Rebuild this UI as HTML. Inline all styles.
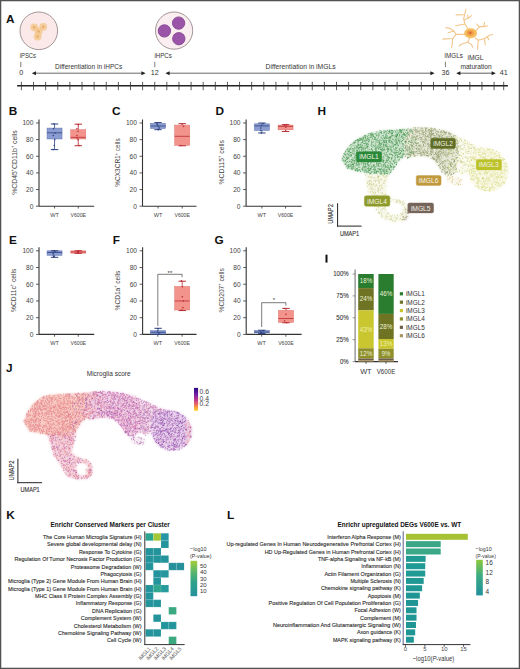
<!DOCTYPE html>
<html><head><meta charset="utf-8"><title>fig</title>
<style>html,body{margin:0;padding:0;background:#fff;}svg{display:block;font-family:"Liberation Sans", sans-serif;}</style>
</head><body>
<svg width="520" height="669" viewBox="0 0 520 669" font-family='"Liberation Sans", sans-serif' fill="#333">
<rect x="0.6" y="0.6" width="518.8" height="667.8" fill="#fff" stroke="#525252" stroke-width="1.35"/>
<defs><filter id="soft" x="-10%" y="-10%" width="120%" height="120%"><feGaussianBlur stdDeviation="1.2"/></filter></defs>
<text x="6.10" y="22.60" font-size="11.8" fill="#111" font-weight="bold">A</text>
<circle cx="38.8" cy="30.8" r="18.8" fill="#fbe9ea" stroke="#8c7c7e" stroke-width="0.8"/>
<circle cx="34.2" cy="27.3" r="3.9" fill="#f4c88e" opacity="0.85"/>
<circle cx="43.2" cy="26.8" r="3.9" fill="#f4c88e" opacity="0.85"/>
<circle cx="38.6" cy="31.4" r="3.9" fill="#f4c88e" opacity="0.85"/>
<circle cx="37.6" cy="36.6" r="3.9" fill="#f4c88e" opacity="0.85"/>
<circle cx="34.2" cy="27.3" r="1.4" fill="#e6a867" opacity="0.8"/>
<circle cx="43.2" cy="26.8" r="1.4" fill="#e6a867" opacity="0.8"/>
<circle cx="38.6" cy="31.4" r="1.4" fill="#e6a867" opacity="0.8"/>
<circle cx="37.6" cy="36.6" r="1.4" fill="#e6a867" opacity="0.8"/>
<circle cx="174.1" cy="30.6" r="18.6" fill="#fbeef0" stroke="#8c7c7e" stroke-width="0.8"/>
<circle cx="164.4" cy="30.9" r="6.2" fill="#9b55a8" stroke="#7d3e8c" stroke-width="0.8"/>
<circle cx="178.6" cy="23.1" r="6.2" fill="#9b55a8" stroke="#7d3e8c" stroke-width="0.8"/>
<circle cx="178.8" cy="38.7" r="6.2" fill="#9b55a8" stroke="#7d3e8c" stroke-width="0.8"/>
<polyline points="468.27,29.81 464.81,23.46 463.65,18.85 464.81,14.23 465.96,9.04" fill="none" stroke="#f2c68c" stroke-width="1.1" stroke-linecap="round" stroke-linejoin="round"/>
<polyline points="464.46,14.69 456.15,14.92" fill="none" stroke="#f2c68c" stroke-width="1.1" stroke-linecap="round" stroke-linejoin="round"/>
<polyline points="464.23,19.77 468.27,18.27 471.38,15.61" fill="none" stroke="#f2c68c" stroke-width="1.1" stroke-linecap="round" stroke-linejoin="round"/>
<polyline points="468.27,18.27 467.46,15.15" fill="none" stroke="#f2c68c" stroke-width="1.1" stroke-linecap="round" stroke-linejoin="round"/>
<polyline points="464.81,24.04 455.58,25.77" fill="none" stroke="#f2c68c" stroke-width="1.1" stroke-linecap="round" stroke-linejoin="round"/>
<polyline points="464.81,34.42 456.15,34.42 453.85,30.96 450.38,28.65 445.54,27.50" fill="none" stroke="#f2c68c" stroke-width="1.1" stroke-linecap="round" stroke-linejoin="round"/>
<polyline points="453.85,30.96 448.08,32.69" fill="none" stroke="#f2c68c" stroke-width="1.1" stroke-linecap="round" stroke-linejoin="round"/>
<polyline points="456.15,34.42 452.69,38.46 442.88,39.15" fill="none" stroke="#f2c68c" stroke-width="1.1" stroke-linecap="round" stroke-linejoin="round"/>
<polyline points="452.69,38.46 452.11,45.38 451.54,47.46" fill="none" stroke="#f2c68c" stroke-width="1.1" stroke-linecap="round" stroke-linejoin="round"/>
<polyline points="476.00,30.61 479.23,26.92 476.92,24.04" fill="none" stroke="#f2c68c" stroke-width="1.1" stroke-linecap="round" stroke-linejoin="round"/>
<polyline points="479.23,26.92 485.00,26.35 487.54,25.77" fill="none" stroke="#f2c68c" stroke-width="1.1" stroke-linecap="round" stroke-linejoin="round"/>
<polyline points="483.84,26.46 484.54,22.31" fill="none" stroke="#f2c68c" stroke-width="1.1" stroke-linecap="round" stroke-linejoin="round"/>
<polyline points="475.19,37.88 478.31,40.19 484.42,38.46 490.19,35.00 492.84,34.42" fill="none" stroke="#f2c68c" stroke-width="1.1" stroke-linecap="round" stroke-linejoin="round"/>
<polyline points="484.42,38.46 485.23,44.81" fill="none" stroke="#f2c68c" stroke-width="1.1" stroke-linecap="round" stroke-linejoin="round"/>
<polyline points="478.31,40.19 477.50,49.08" fill="none" stroke="#f2c68c" stroke-width="1.1" stroke-linecap="round" stroke-linejoin="round"/>
<polyline points="487.31,36.84 488.69,39.84" fill="none" stroke="#f2c68c" stroke-width="1.1" stroke-linecap="round" stroke-linejoin="round"/>
<polyline points="469.42,38.46 467.69,42.15 461.35,44.23 459.04,46.08" fill="none" stroke="#f2c68c" stroke-width="1.1" stroke-linecap="round" stroke-linejoin="round"/>
<polyline points="467.69,42.15 471.73,44.81 472.54,47.23" fill="none" stroke="#f2c68c" stroke-width="1.1" stroke-linecap="round" stroke-linejoin="round"/>
<ellipse cx="470.6" cy="33.3" rx="6.4" ry="5.0" fill="#f6bd5e"/>
<ellipse cx="470.4" cy="33.1" rx="3.6" ry="2.8" fill="#f0a04a"/>
<ellipse cx="470.2" cy="32.8" rx="1.5" ry="1.2" fill="#dd6a3a"/>
<text x="19.80" y="58.20" font-size="7.2" textLength="16.20" lengthAdjust="spacingAndGlyphs">iPSCs</text>
<text x="154.40" y="58.20" font-size="7.2" textLength="17.30" lengthAdjust="spacingAndGlyphs">iHPCs</text>
<text x="444.60" y="57.90" font-size="7.2" textLength="18.20" lengthAdjust="spacingAndGlyphs">iMGLs</text>
<text x="475.50" y="60.20" font-size="7.2" text-anchor="middle" textLength="16.20" lengthAdjust="spacingAndGlyphs">iMGL</text>
<text x="476.00" y="68.80" font-size="7.2" text-anchor="middle" textLength="31.20" lengthAdjust="spacingAndGlyphs">maturation</text>
<line x1="20.80" y1="61.80" x2="20.80" y2="67.20" stroke="#444" stroke-width="0.7"/>
<line x1="154.80" y1="61.80" x2="154.80" y2="67.20" stroke="#444" stroke-width="0.7"/>
<line x1="445.40" y1="61.80" x2="445.40" y2="67.20" stroke="#444" stroke-width="0.7"/>
<text x="21.30" y="75.00" font-size="7.2" text-anchor="middle">0</text>
<text x="154.80" y="75.00" font-size="7.2" text-anchor="middle">12</text>
<text x="445.60" y="75.00" font-size="7.2" text-anchor="middle">36</text>
<text x="503.70" y="75.00" font-size="7.2" text-anchor="middle">41</text>
<text x="55.00" y="68.80" font-size="7.2" textLength="67.30" lengthAdjust="spacingAndGlyphs">Differentiation in iHPCs</text>
<text x="265.60" y="68.80" font-size="7.2" textLength="70.00" lengthAdjust="spacingAndGlyphs">Differentiation in iMGLs</text>
<line x1="33.80" y1="73.20" x2="88.00" y2="73.20" stroke="#444" stroke-width="0.8"/>
<path d="M31.80 73.2 l4.2 -2 v4 z" fill="#222"/>
<line x1="88.00" y1="73.20" x2="143.60" y2="73.20" stroke="#444" stroke-width="0.8"/>
<path d="M145.60 73.2 l-4.2 -2 v4 z" fill="#222"/>
<line x1="167.40" y1="73.20" x2="300.00" y2="73.20" stroke="#444" stroke-width="0.8"/>
<path d="M165.40 73.2 l4.2 -2 v4 z" fill="#222"/>
<line x1="300.00" y1="73.20" x2="432.60" y2="73.20" stroke="#444" stroke-width="0.8"/>
<path d="M434.60 73.2 l-4.2 -2 v4 z" fill="#222"/>
<line x1="458.20" y1="73.20" x2="493.80" y2="73.20" stroke="#333" stroke-width="0.8"/>
<path d="M495.80 73.2 l-4.2 -2 v4 z" fill="#222"/>
<path d="M456.20 73.2 l4.2 -2 v4 z" fill="#222"/>
<line x1="17.10" y1="85.80" x2="507.90" y2="85.80" stroke="#222" stroke-width="1.5"/>
<path d="M21.40 81.8v8.4M33.52 81.8v8.4M45.64 81.8v8.4M57.76 81.8v8.4M69.88 81.8v8.4M82.00 81.8v8.4M94.12 81.8v8.4M106.24 81.8v8.4M118.36 81.8v8.4M130.48 81.8v8.4M142.60 81.8v8.4M154.72 81.8v8.4M166.84 81.8v8.4M178.96 81.8v8.4M191.08 81.8v8.4M203.20 81.8v8.4M215.32 81.8v8.4M227.44 81.8v8.4M239.56 81.8v8.4M251.68 81.8v8.4M263.80 81.8v8.4M275.92 81.8v8.4M288.04 81.8v8.4M300.16 81.8v8.4M312.28 81.8v8.4M324.40 81.8v8.4M336.52 81.8v8.4M348.64 81.8v8.4M360.76 81.8v8.4M372.88 81.8v8.4M385.00 81.8v8.4M397.12 81.8v8.4M409.24 81.8v8.4M421.36 81.8v8.4M433.48 81.8v8.4M445.60 81.8v8.4M457.72 81.8v8.4M469.84 81.8v8.4M481.96 81.8v8.4M494.08 81.8v8.4M503.70 81.8v8.4" stroke="#333" stroke-width="0.8"/>
<text x="8.70" y="115.20" font-size="11.8" fill="#111" font-weight="bold">B</text>
<text x="112.10" y="115.20" font-size="11.8" fill="#111" font-weight="bold">C</text>
<text x="215.50" y="115.20" font-size="11.8" fill="#111" font-weight="bold">D</text>
<text x="9.10" y="243.60" font-size="11.8" fill="#111" font-weight="bold">E</text>
<text x="112.70" y="243.60" font-size="11.8" fill="#111" font-weight="bold">F</text>
<text x="214.50" y="243.80" font-size="11.8" fill="#111" font-weight="bold">G</text>
<line x1="39.00" y1="119.50" x2="39.00" y2="206.20" stroke="#333" stroke-width="1.1"/>
<line x1="39.00" y1="206.20" x2="94.20" y2="206.20" stroke="#333" stroke-width="1.1"/>
<line x1="36.00" y1="206.20" x2="39.00" y2="206.20" stroke="#333" stroke-width="0.8"/>
<text x="33.40" y="208.50" font-size="6.6" fill="#444" text-anchor="end">0</text>
<line x1="36.00" y1="189.56" x2="39.00" y2="189.56" stroke="#333" stroke-width="0.8"/>
<text x="33.40" y="191.86" font-size="6.6" fill="#444" text-anchor="end">20</text>
<line x1="36.00" y1="172.92" x2="39.00" y2="172.92" stroke="#333" stroke-width="0.8"/>
<text x="33.40" y="175.22" font-size="6.6" fill="#444" text-anchor="end">40</text>
<line x1="36.00" y1="156.28" x2="39.00" y2="156.28" stroke="#333" stroke-width="0.8"/>
<text x="33.40" y="158.58" font-size="6.6" fill="#444" text-anchor="end">60</text>
<line x1="36.00" y1="139.64" x2="39.00" y2="139.64" stroke="#333" stroke-width="0.8"/>
<text x="33.40" y="141.94" font-size="6.6" fill="#444" text-anchor="end">80</text>
<line x1="36.00" y1="123.00" x2="39.00" y2="123.00" stroke="#333" stroke-width="0.8"/>
<text x="33.40" y="125.30" font-size="6.6" fill="#444" text-anchor="end">100</text>
<line x1="54.55" y1="206.20" x2="54.55" y2="208.50" stroke="#333" stroke-width="0.8"/>
<line x1="78.25" y1="206.20" x2="78.25" y2="208.50" stroke="#333" stroke-width="0.8"/>
<text x="54.55" y="216.60" font-size="5.6" fill="#444" text-anchor="middle">WT</text>
<text x="78.25" y="216.60" font-size="5.6" fill="#444" text-anchor="middle" textLength="15.50" lengthAdjust="spacingAndGlyphs">V600E</text>
<text x="16.60" y="162.50" font-size="7.8" fill="#444" text-anchor="middle" textLength="64.60" lengthAdjust="spacingAndGlyphs" transform="rotate(-90 16.60 162.50)">%CD45<tspan font-size="4.5" dy="-2.6">+</tspan><tspan dy="2.6">CD11b</tspan><tspan font-size="4.5" dy="-2.6">+</tspan><tspan dy="2.6"> cells</tspan></text>
<rect x="47.05" y="128.08" width="15.00" height="10.90" fill="#8a9cd0" stroke="#5f74b4" stroke-width="0.5"/>
<line x1="54.55" y1="124.00" x2="54.55" y2="128.08" stroke="#2e4282" stroke-width="0.8"/>
<line x1="54.55" y1="138.97" x2="54.55" y2="149.62" stroke="#2e4282" stroke-width="0.8"/>
<line x1="50.85" y1="124.00" x2="58.25" y2="124.00" stroke="#2e4282" stroke-width="1.0"/>
<line x1="50.85" y1="149.62" x2="58.25" y2="149.62" stroke="#2e4282" stroke-width="1.0"/>
<line x1="47.05" y1="132.82" x2="62.05" y2="132.82" stroke="#2e4282" stroke-width="0.8"/>
<circle cx="54.02" cy="123.83" r="0.8" fill="#2e4282"/>
<circle cx="53.50" cy="128.82" r="0.8" fill="#2e4282"/>
<circle cx="55.00" cy="132.98" r="0.8" fill="#2e4282"/>
<circle cx="53.27" cy="135.48" r="0.8" fill="#2e4282"/>
<circle cx="54.66" cy="139.64" r="0.8" fill="#2e4282"/>
<circle cx="54.15" cy="145.46" r="0.8" fill="#2e4282"/>
<circle cx="53.22" cy="149.62" r="0.8" fill="#2e4282"/>
<rect x="70.75" y="129.74" width="15.00" height="9.24" fill="#f2948c" stroke="#e07068" stroke-width="0.5"/>
<line x1="78.25" y1="124.16" x2="78.25" y2="129.74" stroke="#bb2c34" stroke-width="0.8"/>
<line x1="78.25" y1="138.97" x2="78.25" y2="145.71" stroke="#bb2c34" stroke-width="0.8"/>
<line x1="74.55" y1="124.16" x2="81.95" y2="124.16" stroke="#bb2c34" stroke-width="1.0"/>
<line x1="74.55" y1="145.71" x2="81.95" y2="145.71" stroke="#bb2c34" stroke-width="1.0"/>
<line x1="70.75" y1="137.31" x2="85.75" y2="137.31" stroke="#bb2c34" stroke-width="0.8"/>
<circle cx="78.27" cy="124.66" r="0.8" fill="#bb2c34"/>
<circle cx="76.86" cy="128.82" r="0.8" fill="#bb2c34"/>
<circle cx="78.05" cy="131.32" r="0.8" fill="#bb2c34"/>
<circle cx="76.96" cy="135.48" r="0.8" fill="#bb2c34"/>
<circle cx="77.02" cy="137.98" r="0.8" fill="#bb2c34"/>
<circle cx="78.02" cy="139.64" r="0.8" fill="#bb2c34"/>
<circle cx="79.23" cy="145.46" r="0.8" fill="#bb2c34"/>
<line x1="142.50" y1="119.50" x2="142.50" y2="206.20" stroke="#333" stroke-width="1.1"/>
<line x1="142.50" y1="206.20" x2="196.50" y2="206.20" stroke="#333" stroke-width="1.1"/>
<line x1="139.50" y1="206.20" x2="142.50" y2="206.20" stroke="#333" stroke-width="0.8"/>
<text x="136.90" y="208.50" font-size="6.6" fill="#444" text-anchor="end">0</text>
<line x1="139.50" y1="189.56" x2="142.50" y2="189.56" stroke="#333" stroke-width="0.8"/>
<text x="136.90" y="191.86" font-size="6.6" fill="#444" text-anchor="end">20</text>
<line x1="139.50" y1="172.92" x2="142.50" y2="172.92" stroke="#333" stroke-width="0.8"/>
<text x="136.90" y="175.22" font-size="6.6" fill="#444" text-anchor="end">40</text>
<line x1="139.50" y1="156.28" x2="142.50" y2="156.28" stroke="#333" stroke-width="0.8"/>
<text x="136.90" y="158.58" font-size="6.6" fill="#444" text-anchor="end">60</text>
<line x1="139.50" y1="139.64" x2="142.50" y2="139.64" stroke="#333" stroke-width="0.8"/>
<text x="136.90" y="141.94" font-size="6.6" fill="#444" text-anchor="end">80</text>
<line x1="139.50" y1="123.00" x2="142.50" y2="123.00" stroke="#333" stroke-width="0.8"/>
<text x="136.90" y="125.30" font-size="6.6" fill="#444" text-anchor="end">100</text>
<line x1="158.00" y1="206.20" x2="158.00" y2="208.50" stroke="#333" stroke-width="0.8"/>
<line x1="182.20" y1="206.20" x2="182.20" y2="208.50" stroke="#333" stroke-width="0.8"/>
<text x="158.00" y="216.60" font-size="5.6" fill="#444" text-anchor="middle">WT</text>
<text x="182.20" y="216.60" font-size="5.6" fill="#444" text-anchor="middle" textLength="15.50" lengthAdjust="spacingAndGlyphs">V600E</text>
<text x="120.40" y="162.50" font-size="7.8" fill="#444" text-anchor="middle" textLength="48.50" lengthAdjust="spacingAndGlyphs" transform="rotate(-90 120.40 162.50)">%CX3CR1<tspan font-size="4.5" dy="-2.6">+</tspan><tspan dy="2.6"> cells</tspan></text>
<rect x="150.50" y="123.42" width="15.00" height="5.08" fill="#8a9cd0" stroke="#5f74b4" stroke-width="0.5"/>
<line x1="158.00" y1="122.58" x2="158.00" y2="123.42" stroke="#2e4282" stroke-width="0.8"/>
<line x1="158.00" y1="128.49" x2="158.00" y2="129.66" stroke="#2e4282" stroke-width="0.8"/>
<line x1="154.30" y1="122.58" x2="161.70" y2="122.58" stroke="#2e4282" stroke-width="1.0"/>
<line x1="154.30" y1="129.66" x2="161.70" y2="129.66" stroke="#2e4282" stroke-width="1.0"/>
<line x1="150.50" y1="126.00" x2="165.50" y2="126.00" stroke="#2e4282" stroke-width="0.8"/>
<circle cx="156.87" cy="123.00" r="0.8" fill="#2e4282"/>
<circle cx="157.17" cy="124.66" r="0.8" fill="#2e4282"/>
<circle cx="158.38" cy="126.33" r="0.8" fill="#2e4282"/>
<circle cx="159.34" cy="127.99" r="0.8" fill="#2e4282"/>
<circle cx="158.23" cy="129.66" r="0.8" fill="#2e4282"/>
<rect x="174.70" y="125.08" width="15.00" height="20.22" fill="#f2948c" stroke="#e07068" stroke-width="0.5"/>
<line x1="182.20" y1="123.67" x2="182.20" y2="125.08" stroke="#bb2c34" stroke-width="0.8"/>
<line x1="182.20" y1="145.30" x2="182.20" y2="145.80" stroke="#bb2c34" stroke-width="0.8"/>
<line x1="178.50" y1="123.67" x2="185.90" y2="123.67" stroke="#bb2c34" stroke-width="1.0"/>
<line x1="178.50" y1="145.80" x2="185.90" y2="145.80" stroke="#bb2c34" stroke-width="1.0"/>
<line x1="174.70" y1="136.31" x2="189.70" y2="136.31" stroke="#bb2c34" stroke-width="0.8"/>
<circle cx="181.89" cy="123.83" r="0.8" fill="#bb2c34"/>
<circle cx="183.63" cy="126.33" r="0.8" fill="#bb2c34"/>
<circle cx="180.84" cy="145.46" r="0.8" fill="#bb2c34"/>
<line x1="246.10" y1="119.50" x2="246.10" y2="206.20" stroke="#333" stroke-width="1.1"/>
<line x1="246.10" y1="206.20" x2="301.60" y2="206.20" stroke="#333" stroke-width="1.1"/>
<line x1="243.10" y1="206.20" x2="246.10" y2="206.20" stroke="#333" stroke-width="0.8"/>
<text x="240.50" y="208.50" font-size="6.6" fill="#444" text-anchor="end">0</text>
<line x1="243.10" y1="189.56" x2="246.10" y2="189.56" stroke="#333" stroke-width="0.8"/>
<text x="240.50" y="191.86" font-size="6.6" fill="#444" text-anchor="end">20</text>
<line x1="243.10" y1="172.92" x2="246.10" y2="172.92" stroke="#333" stroke-width="0.8"/>
<text x="240.50" y="175.22" font-size="6.6" fill="#444" text-anchor="end">40</text>
<line x1="243.10" y1="156.28" x2="246.10" y2="156.28" stroke="#333" stroke-width="0.8"/>
<text x="240.50" y="158.58" font-size="6.6" fill="#444" text-anchor="end">60</text>
<line x1="243.10" y1="139.64" x2="246.10" y2="139.64" stroke="#333" stroke-width="0.8"/>
<text x="240.50" y="141.94" font-size="6.6" fill="#444" text-anchor="end">80</text>
<line x1="243.10" y1="123.00" x2="246.10" y2="123.00" stroke="#333" stroke-width="0.8"/>
<text x="240.50" y="125.30" font-size="6.6" fill="#444" text-anchor="end">100</text>
<line x1="261.90" y1="206.20" x2="261.90" y2="208.50" stroke="#333" stroke-width="0.8"/>
<line x1="285.55" y1="206.20" x2="285.55" y2="208.50" stroke="#333" stroke-width="0.8"/>
<text x="261.90" y="216.60" font-size="5.6" fill="#444" text-anchor="middle">WT</text>
<text x="285.55" y="216.60" font-size="5.6" fill="#444" text-anchor="middle" textLength="15.50" lengthAdjust="spacingAndGlyphs">V600E</text>
<text x="224.00" y="162.30" font-size="7.8" fill="#444" text-anchor="middle" textLength="44.20" lengthAdjust="spacingAndGlyphs" transform="rotate(-90 224.00 162.30)">%CD115<tspan font-size="4.5" dy="-2.6">+</tspan><tspan dy="2.6"> cells</tspan></text>
<rect x="254.40" y="123.83" width="15.00" height="6.66" fill="#8a9cd0" stroke="#5f74b4" stroke-width="0.5"/>
<line x1="261.90" y1="123.00" x2="261.90" y2="123.83" stroke="#2e4282" stroke-width="0.8"/>
<line x1="261.90" y1="130.49" x2="261.90" y2="132.98" stroke="#2e4282" stroke-width="0.8"/>
<line x1="258.20" y1="123.00" x2="265.60" y2="123.00" stroke="#2e4282" stroke-width="1.0"/>
<line x1="258.20" y1="132.98" x2="265.60" y2="132.98" stroke="#2e4282" stroke-width="1.0"/>
<line x1="254.40" y1="125.91" x2="269.40" y2="125.91" stroke="#2e4282" stroke-width="0.8"/>
<circle cx="262.98" cy="123.83" r="0.8" fill="#2e4282"/>
<circle cx="261.27" cy="125.50" r="0.8" fill="#2e4282"/>
<circle cx="260.83" cy="127.99" r="0.8" fill="#2e4282"/>
<circle cx="260.75" cy="130.49" r="0.8" fill="#2e4282"/>
<circle cx="261.33" cy="132.98" r="0.8" fill="#2e4282"/>
<rect x="278.05" y="125.08" width="15.00" height="4.74" fill="#f2948c" stroke="#e07068" stroke-width="0.5"/>
<line x1="285.55" y1="124.66" x2="285.55" y2="125.08" stroke="#bb2c34" stroke-width="0.8"/>
<line x1="285.55" y1="129.82" x2="285.55" y2="131.49" stroke="#bb2c34" stroke-width="0.8"/>
<line x1="281.85" y1="124.66" x2="289.25" y2="124.66" stroke="#bb2c34" stroke-width="1.0"/>
<line x1="281.85" y1="131.49" x2="289.25" y2="131.49" stroke="#bb2c34" stroke-width="1.0"/>
<line x1="278.05" y1="126.33" x2="293.05" y2="126.33" stroke="#bb2c34" stroke-width="0.8"/>
<circle cx="286.50" cy="124.66" r="0.8" fill="#bb2c34"/>
<circle cx="284.59" cy="125.50" r="0.8" fill="#bb2c34"/>
<circle cx="285.79" cy="127.16" r="0.8" fill="#bb2c34"/>
<circle cx="285.97" cy="131.32" r="0.8" fill="#bb2c34"/>
<line x1="39.00" y1="247.30" x2="39.00" y2="334.40" stroke="#333" stroke-width="1.1"/>
<line x1="39.00" y1="334.40" x2="94.20" y2="334.40" stroke="#333" stroke-width="1.1"/>
<line x1="36.00" y1="334.40" x2="39.00" y2="334.40" stroke="#333" stroke-width="0.8"/>
<text x="33.40" y="336.70" font-size="6.6" fill="#444" text-anchor="end">0</text>
<line x1="36.00" y1="317.68" x2="39.00" y2="317.68" stroke="#333" stroke-width="0.8"/>
<text x="33.40" y="319.98" font-size="6.6" fill="#444" text-anchor="end">20</text>
<line x1="36.00" y1="300.96" x2="39.00" y2="300.96" stroke="#333" stroke-width="0.8"/>
<text x="33.40" y="303.26" font-size="6.6" fill="#444" text-anchor="end">40</text>
<line x1="36.00" y1="284.24" x2="39.00" y2="284.24" stroke="#333" stroke-width="0.8"/>
<text x="33.40" y="286.54" font-size="6.6" fill="#444" text-anchor="end">60</text>
<line x1="36.00" y1="267.52" x2="39.00" y2="267.52" stroke="#333" stroke-width="0.8"/>
<text x="33.40" y="269.82" font-size="6.6" fill="#444" text-anchor="end">80</text>
<line x1="36.00" y1="250.80" x2="39.00" y2="250.80" stroke="#333" stroke-width="0.8"/>
<text x="33.40" y="253.10" font-size="6.6" fill="#444" text-anchor="end">100</text>
<line x1="54.55" y1="334.40" x2="54.55" y2="336.70" stroke="#333" stroke-width="0.8"/>
<line x1="78.25" y1="334.40" x2="78.25" y2="336.70" stroke="#333" stroke-width="0.8"/>
<text x="54.55" y="344.80" font-size="5.6" fill="#444" text-anchor="middle">WT</text>
<text x="78.25" y="344.80" font-size="5.6" fill="#444" text-anchor="middle" textLength="15.50" lengthAdjust="spacingAndGlyphs">V600E</text>
<text x="16.00" y="290.30" font-size="7.8" fill="#444" text-anchor="middle" textLength="43.20" lengthAdjust="spacingAndGlyphs" transform="rotate(-90 16.00 290.30)">%CD11c<tspan font-size="4.5" dy="-2.6">+</tspan><tspan dy="2.6"> cells</tspan></text>
<rect x="47.05" y="250.80" width="15.00" height="4.51" fill="#8a9cd0" stroke="#5f74b4" stroke-width="0.5"/>
<line x1="54.55" y1="250.80" x2="54.55" y2="250.80" stroke="#2e4282" stroke-width="0.8"/>
<line x1="54.55" y1="255.31" x2="54.55" y2="257.32" stroke="#2e4282" stroke-width="0.8"/>
<line x1="50.85" y1="250.80" x2="58.25" y2="250.80" stroke="#2e4282" stroke-width="1.0"/>
<line x1="50.85" y1="257.32" x2="58.25" y2="257.32" stroke="#2e4282" stroke-width="1.0"/>
<line x1="47.05" y1="252.47" x2="62.05" y2="252.47" stroke="#2e4282" stroke-width="0.8"/>
<circle cx="54.17" cy="250.80" r="0.8" fill="#2e4282"/>
<circle cx="54.69" cy="251.64" r="0.8" fill="#2e4282"/>
<circle cx="53.24" cy="253.31" r="0.8" fill="#2e4282"/>
<circle cx="53.23" cy="254.98" r="0.8" fill="#2e4282"/>
<circle cx="53.67" cy="256.65" r="0.8" fill="#2e4282"/>
<rect x="70.75" y="250.88" width="15.00" height="2.26" fill="#f2948c" stroke="#e07068" stroke-width="0.5"/>
<line x1="78.25" y1="250.80" x2="78.25" y2="250.88" stroke="#bb2c34" stroke-width="0.8"/>
<line x1="78.25" y1="253.14" x2="78.25" y2="253.31" stroke="#bb2c34" stroke-width="0.8"/>
<line x1="74.55" y1="250.80" x2="81.95" y2="250.80" stroke="#bb2c34" stroke-width="1.0"/>
<line x1="74.55" y1="253.31" x2="81.95" y2="253.31" stroke="#bb2c34" stroke-width="1.0"/>
<line x1="70.75" y1="251.97" x2="85.75" y2="251.97" stroke="#bb2c34" stroke-width="0.8"/>
<circle cx="78.79" cy="250.80" r="0.8" fill="#bb2c34"/>
<circle cx="78.03" cy="251.64" r="0.8" fill="#bb2c34"/>
<circle cx="77.69" cy="252.47" r="0.8" fill="#bb2c34"/>
<circle cx="78.51" cy="253.31" r="0.8" fill="#bb2c34"/>
<line x1="142.60" y1="247.30" x2="142.60" y2="334.40" stroke="#333" stroke-width="1.1"/>
<line x1="142.60" y1="334.40" x2="196.50" y2="334.40" stroke="#333" stroke-width="1.1"/>
<line x1="139.60" y1="334.40" x2="142.60" y2="334.40" stroke="#333" stroke-width="0.8"/>
<text x="137.00" y="336.70" font-size="6.6" fill="#444" text-anchor="end">0</text>
<line x1="139.60" y1="317.68" x2="142.60" y2="317.68" stroke="#333" stroke-width="0.8"/>
<text x="137.00" y="319.98" font-size="6.6" fill="#444" text-anchor="end">20</text>
<line x1="139.60" y1="300.96" x2="142.60" y2="300.96" stroke="#333" stroke-width="0.8"/>
<text x="137.00" y="303.26" font-size="6.6" fill="#444" text-anchor="end">40</text>
<line x1="139.60" y1="284.24" x2="142.60" y2="284.24" stroke="#333" stroke-width="0.8"/>
<text x="137.00" y="286.54" font-size="6.6" fill="#444" text-anchor="end">60</text>
<line x1="139.60" y1="267.52" x2="142.60" y2="267.52" stroke="#333" stroke-width="0.8"/>
<text x="137.00" y="269.82" font-size="6.6" fill="#444" text-anchor="end">80</text>
<line x1="139.60" y1="250.80" x2="142.60" y2="250.80" stroke="#333" stroke-width="0.8"/>
<text x="137.00" y="253.10" font-size="6.6" fill="#444" text-anchor="end">100</text>
<line x1="157.80" y1="334.40" x2="157.80" y2="336.70" stroke="#333" stroke-width="0.8"/>
<line x1="182.10" y1="334.40" x2="182.10" y2="336.70" stroke="#333" stroke-width="0.8"/>
<text x="157.80" y="344.80" font-size="5.6" fill="#444" text-anchor="middle">WT</text>
<text x="182.10" y="344.80" font-size="5.6" fill="#444" text-anchor="middle" textLength="15.50" lengthAdjust="spacingAndGlyphs">V600E</text>
<text x="120.00" y="290.50" font-size="7.8" fill="#444" text-anchor="middle" textLength="39.80" lengthAdjust="spacingAndGlyphs" transform="rotate(-90 120.00 290.50)">%CD1a<tspan font-size="4.5" dy="-2.6">+</tspan><tspan dy="2.6"> cells</tspan></text>
<rect x="150.60" y="330.64" width="15.00" height="3.34" fill="#8a9cd0" stroke="#5f74b4" stroke-width="0.5"/>
<line x1="158.10" y1="328.30" x2="158.10" y2="330.64" stroke="#2e4282" stroke-width="0.8"/>
<line x1="158.10" y1="333.98" x2="158.10" y2="334.40" stroke="#2e4282" stroke-width="0.8"/>
<line x1="154.40" y1="328.30" x2="161.80" y2="328.30" stroke="#2e4282" stroke-width="1.0"/>
<line x1="154.40" y1="334.40" x2="161.80" y2="334.40" stroke="#2e4282" stroke-width="1.0"/>
<line x1="150.60" y1="332.31" x2="165.60" y2="332.31" stroke="#2e4282" stroke-width="0.8"/>
<circle cx="157.96" cy="328.55" r="0.8" fill="#2e4282"/>
<circle cx="157.50" cy="331.06" r="0.8" fill="#2e4282"/>
<circle cx="158.98" cy="332.73" r="0.8" fill="#2e4282"/>
<circle cx="158.70" cy="333.98" r="0.8" fill="#2e4282"/>
<rect x="174.70" y="286.50" width="15.00" height="23.49" fill="#f2948c" stroke="#e07068" stroke-width="0.5"/>
<line x1="182.20" y1="281.23" x2="182.20" y2="286.50" stroke="#bb2c34" stroke-width="0.8"/>
<line x1="182.20" y1="309.99" x2="182.20" y2="310.57" stroke="#bb2c34" stroke-width="0.8"/>
<line x1="178.50" y1="281.23" x2="185.90" y2="281.23" stroke="#bb2c34" stroke-width="1.0"/>
<line x1="178.50" y1="310.57" x2="185.90" y2="310.57" stroke="#bb2c34" stroke-width="1.0"/>
<line x1="174.70" y1="300.96" x2="189.70" y2="300.96" stroke="#bb2c34" stroke-width="0.8"/>
<circle cx="181.43" cy="280.90" r="0.8" fill="#bb2c34"/>
<circle cx="182.42" cy="286.75" r="0.8" fill="#bb2c34"/>
<circle cx="182.28" cy="296.78" r="0.8" fill="#bb2c34"/>
<circle cx="183.33" cy="300.96" r="0.8" fill="#bb2c34"/>
<circle cx="182.89" cy="307.65" r="0.8" fill="#bb2c34"/>
<circle cx="181.56" cy="310.16" r="0.8" fill="#bb2c34"/>
<polyline points="157.80,326.00 157.80,274.30 182.10,274.30 182.10,277.20" fill="none" stroke="#444" stroke-width="0.7"/>
<text x="169.95" y="275.25" font-size="6" text-anchor="middle">**</text>
<line x1="246.20" y1="247.30" x2="246.20" y2="334.40" stroke="#333" stroke-width="1.1"/>
<line x1="246.20" y1="334.40" x2="301.60" y2="334.40" stroke="#333" stroke-width="1.1"/>
<line x1="243.20" y1="334.40" x2="246.20" y2="334.40" stroke="#333" stroke-width="0.8"/>
<text x="240.60" y="336.70" font-size="6.6" fill="#444" text-anchor="end">0</text>
<line x1="243.20" y1="317.68" x2="246.20" y2="317.68" stroke="#333" stroke-width="0.8"/>
<text x="240.60" y="319.98" font-size="6.6" fill="#444" text-anchor="end">20</text>
<line x1="243.20" y1="300.96" x2="246.20" y2="300.96" stroke="#333" stroke-width="0.8"/>
<text x="240.60" y="303.26" font-size="6.6" fill="#444" text-anchor="end">40</text>
<line x1="243.20" y1="284.24" x2="246.20" y2="284.24" stroke="#333" stroke-width="0.8"/>
<text x="240.60" y="286.54" font-size="6.6" fill="#444" text-anchor="end">60</text>
<line x1="243.20" y1="267.52" x2="246.20" y2="267.52" stroke="#333" stroke-width="0.8"/>
<text x="240.60" y="269.82" font-size="6.6" fill="#444" text-anchor="end">80</text>
<line x1="243.20" y1="250.80" x2="246.20" y2="250.80" stroke="#333" stroke-width="0.8"/>
<text x="240.60" y="253.10" font-size="6.6" fill="#444" text-anchor="end">100</text>
<line x1="261.70" y1="334.40" x2="261.70" y2="336.70" stroke="#333" stroke-width="0.8"/>
<line x1="285.90" y1="334.40" x2="285.90" y2="336.70" stroke="#333" stroke-width="0.8"/>
<text x="261.70" y="344.80" font-size="5.6" fill="#444" text-anchor="middle">WT</text>
<text x="285.90" y="344.80" font-size="5.6" fill="#444" text-anchor="middle" textLength="15.50" lengthAdjust="spacingAndGlyphs">V600E</text>
<text x="224.00" y="290.30" font-size="7.8" fill="#444" text-anchor="middle" textLength="44.20" lengthAdjust="spacingAndGlyphs" transform="rotate(-90 224.00 290.30)">%CD207<tspan font-size="4.5" dy="-2.6">+</tspan><tspan dy="2.6"> cells</tspan></text>
<rect x="254.30" y="330.47" width="15.00" height="2.34" fill="#8a9cd0" stroke="#5f74b4" stroke-width="0.5"/>
<line x1="261.80" y1="330.22" x2="261.80" y2="330.47" stroke="#2e4282" stroke-width="0.8"/>
<line x1="261.80" y1="332.81" x2="261.80" y2="333.56" stroke="#2e4282" stroke-width="0.8"/>
<line x1="258.10" y1="330.22" x2="265.50" y2="330.22" stroke="#2e4282" stroke-width="1.0"/>
<line x1="258.10" y1="333.56" x2="265.50" y2="333.56" stroke="#2e4282" stroke-width="1.0"/>
<line x1="254.30" y1="332.06" x2="269.30" y2="332.06" stroke="#2e4282" stroke-width="0.8"/>
<circle cx="263.24" cy="331.06" r="0.8" fill="#2e4282"/>
<circle cx="260.65" cy="331.89" r="0.8" fill="#2e4282"/>
<circle cx="261.55" cy="332.73" r="0.8" fill="#2e4282"/>
<circle cx="262.57" cy="333.56" r="0.8" fill="#2e4282"/>
<rect x="278.50" y="310.41" width="15.00" height="11.95" fill="#f2948c" stroke="#e07068" stroke-width="0.5"/>
<line x1="286.00" y1="308.40" x2="286.00" y2="310.41" stroke="#bb2c34" stroke-width="0.8"/>
<line x1="286.00" y1="322.36" x2="286.00" y2="322.78" stroke="#bb2c34" stroke-width="0.8"/>
<line x1="282.30" y1="308.40" x2="289.70" y2="308.40" stroke="#bb2c34" stroke-width="1.0"/>
<line x1="282.30" y1="322.78" x2="289.70" y2="322.78" stroke="#bb2c34" stroke-width="1.0"/>
<line x1="278.50" y1="318.52" x2="293.50" y2="318.52" stroke="#bb2c34" stroke-width="0.8"/>
<circle cx="284.96" cy="308.48" r="0.8" fill="#bb2c34"/>
<circle cx="285.97" cy="314.34" r="0.8" fill="#bb2c34"/>
<circle cx="284.62" cy="321.02" r="0.8" fill="#bb2c34"/>
<circle cx="286.50" cy="322.70" r="0.8" fill="#bb2c34"/>
<polyline points="261.70,327.00 261.70,302.70 285.90,302.70 285.90,305.50" fill="none" stroke="#444" stroke-width="0.7"/>
<text x="273.80" y="302.45" font-size="6" text-anchor="middle">*</text>
<text x="317.50" y="115.20" font-size="11.8" fill="#111" font-weight="bold">H</text>
<path d="M341.5 160.0L345.0 151.0L350.0 145.0L358.0 138.5L368.0 133.5L380.0 130.5L393.0 129.8L408.0 128.8L404.0 140.0L403.0 150.0L404.6 155.8L399.0 161.0L393.0 170.0L389.0 174.5L380.0 174.5L368.0 173.5L358.0 171.5L347.0 169.0Z" fill="#c6e0c6" opacity="0.8" fill-rule="evenodd" filter='url(#soft)'/>
<path d="M408.0 128.3L415.0 127.5L428.0 127.5L440.0 129.5L450.0 132.0L457.0 136.0L459.0 148.0L458.0 160.0L456.0 172.0L452.0 175.0L446.0 176.0L442.0 172.5L439.0 167.0L435.0 161.5L430.0 157.5L422.0 156.0L414.0 156.5L407.0 158.5L404.6 155.8L403.0 150.0L404.0 140.0Z" fill="#e0e3cc" opacity="0.8" fill-rule="evenodd" filter='url(#soft)'/>
<path d="M471.0 150.0L482.0 147.5L492.0 149.0L500.0 153.0L505.0 159.0L508.5 168.0L507.5 178.0L503.0 186.0L495.0 191.0L485.0 191.5L477.0 188.0L471.0 181.0L467.5 172.0L467.5 160.0Z" fill="#f6f6dc" opacity="0.75" fill-rule="evenodd" filter='url(#soft)'/>
<path d="M457.0 136.0L466.0 140.0L476.0 145.5L482.0 147.5L471.0 150.0L467.5 160.0L467.5 172.0L462.0 175.0L456.0 172.0L458.0 160.0L459.0 148.0Z" fill="#f6f6e0" opacity="0.5" fill-rule="evenodd" filter='url(#soft)'/>
<path d="M365.0 174.0L389.0 174.0L386.0 185.0L386.0 194.0L394.0 199.0L401.0 199.5L407.0 204.0L409.0 210.0L407.0 217.0L402.0 221.0L393.0 222.0L383.0 219.0L377.0 212.0L372.0 203.0L368.0 193.0L366.0 183.0ZM386.0 210.0L391.0 214.5L400.0 214.0L404.0 209.0L401.0 203.5L393.0 202.0L386.0 203.0Z" fill="#f4f4e0" opacity="0.7" fill-rule="evenodd" filter='url(#soft)'/>
<path d="M402.0 212.0L408.0 208.0L410.0 214.0L408.0 220.0L403.0 221.0Z" fill="#ece8e0" opacity="0.5" fill-rule="evenodd" filter='url(#soft)'/>
<path d="M446.0 177.0L452.0 176.0L458.0 177.0L462.0 180.0L461.0 185.0L455.0 185.0L448.0 183.0Z" fill="#f4eed8" opacity="0.5" fill-rule="evenodd" filter='url(#soft)'/>
<path d="M392.3 155.0h.1M399.7 143.1h.1M378.0 169.2h.1M360.0 147.8h.1M382.3 135.6h.1M398.9 160.6h.1M358.7 160.4h.1M397.4 150.7h.1M364.8 153.9h.1M358.7 147.9h.1M369.5 170.7h.1M353.0 150.4h.1M348.6 154.4h.1M358.0 141.5h.1M371.6 153.2h.1M373.3 171.8h.1M388.0 168.9h.1M351.8 161.5h.1M378.3 171.1h.1M392.0 142.1h.1M374.4 166.9h.1M367.6 152.0h.1M364.3 166.8h.1M347.1 167.2h.1M373.1 151.8h.1M350.8 152.7h.1M395.0 166.6h.1M386.9 160.5h.1M350.4 145.3h.1M348.5 167.0h.1M383.1 159.9h.1M374.3 146.3h.1M373.4 160.0h.1M371.5 142.6h.1M348.3 166.9h.1M383.5 170.5h.1M404.1 153.9h.1M403.1 134.6h.1M355.3 170.2h.1M366.6 144.3h.1M405.9 134.6h.1M359.5 140.2h.1M376.2 160.0h.1M371.9 154.0h.1M384.4 142.7h.1M367.3 139.0h.1M394.5 162.6h.1M396.0 139.3h.1M356.4 147.9h.1M403.5 143.8h.1M391.1 130.3h.1M385.7 146.1h.1M405.0 134.5h.1M365.2 166.3h.1M366.3 170.8h.1M394.9 162.5h.1M396.2 164.1h.1M381.9 143.8h.1M362.7 145.3h.1M347.9 151.6h.1M381.1 157.1h.1M369.7 166.3h.1M384.1 170.4h.1M356.0 147.1h.1M381.4 153.9h.1M343.1 157.1h.1M373.0 133.7h.1M350.0 148.5h.1M347.6 149.0h.1M374.2 172.5h.1M386.7 169.7h.1M352.7 164.7h.1M383.4 146.8h.1M394.5 140.9h.1M365.5 163.7h.1M380.5 159.1h.1M383.0 150.5h.1M378.9 144.8h.1M358.0 170.1h.1M404.1 135.3h.1M387.7 167.4h.1M385.7 173.5h.1M379.4 142.9h.1M387.6 157.8h.1M387.9 162.5h.1M366.0 143.5h.1M398.1 157.1h.1M396.0 136.6h.1M353.8 151.4h.1M368.2 146.8h.1M355.2 140.8h.1M351.8 167.3h.1M388.3 167.4h.1M382.8 147.5h.1M386.4 171.3h.1M353.7 158.7h.1M359.7 147.1h.1M356.4 162.7h.1M365.0 158.0h.1M396.9 145.0h.1M369.8 137.3h.1M385.3 145.4h.1M352.7 169.5h.1M376.8 162.7h.1M374.2 151.6h.1M377.4 168.2h.1M375.5 150.9h.1M365.8 150.5h.1M369.6 154.1h.1M396.5 147.3h.1M375.0 141.2h.1M375.2 173.4h.1M383.7 164.6h.1M402.0 156.8h.1M387.8 156.1h.1M361.6 148.1h.1M362.7 148.5h.1M395.4 155.1h.1M380.9 171.7h.1M368.9 133.5h.1M341.8 160.0h.1M347.4 168.5h.1M390.0 132.7h.1M367.2 164.7h.1M363.6 156.5h.1M381.5 142.9h.1M395.2 141.7h.1M369.6 155.6h.1M379.5 141.3h.1M387.0 170.6h.1M394.1 149.8h.1M347.3 165.7h.1M400.4 152.6h.1M373.2 155.7h.1M381.2 144.6h.1M386.0 146.8h.1M393.8 161.2h.1M386.5 142.5h.1M380.8 163.4h.1M352.7 151.2h.1M388.8 137.8h.1M382.2 161.1h.1M399.5 141.0h.1M365.9 136.3h.1M362.8 161.3h.1M358.2 166.1h.1M354.9 161.3h.1M356.2 152.2h.1M367.0 155.6h.1M378.5 151.3h.1M361.2 164.1h.1M370.8 162.4h.1M351.8 144.2h.1M393.7 161.2h.1M379.5 147.9h.1M381.9 146.1h.1M374.7 149.1h.1M351.1 155.1h.1M375.9 152.4h.1M368.2 154.5h.1M376.8 166.1h.1M375.6 133.9h.1M400.6 148.0h.1M383.8 130.7h.1M376.2 166.4h.1M389.1 145.0h.1M380.2 144.7h.1M371.4 146.4h.1M380.2 172.7h.1M397.0 134.6h.1M366.6 172.6h.1M371.6 134.8h.1M401.3 155.7h.1M379.3 143.0h.1M343.5 159.9h.1M388.0 140.2h.1M383.3 137.1h.1M391.3 132.7h.1M392.2 130.8h.1M352.8 159.3h.1M396.7 162.7h.1M379.2 157.5h.1M361.2 149.1h.1M361.3 154.9h.1M386.6 149.2h.1M349.0 152.3h.1M393.1 131.4h.1M357.3 145.8h.1M388.5 148.3h.1M364.2 163.7h.1M386.8 166.5h.1M349.7 145.8h.1M389.5 130.8h.1M354.3 149.2h.1M397.2 155.4h.1M364.3 135.7h.1M399.6 156.7h.1M372.6 155.2h.1M386.1 141.3h.1M365.6 141.7h.1M361.7 163.7h.1M365.2 164.2h.1M381.6 168.3h.1M384.7 147.3h.1M381.3 140.5h.1M388.8 163.7h.1M371.6 141.5h.1M373.1 158.8h.1M391.8 132.9h.1M390.6 170.9h.1M348.7 162.3h.1M345.5 154.6h.1M392.0 158.2h.1M391.5 166.4h.1M375.1 139.4h.1M349.5 151.1h.1M350.5 148.4h.1M353.4 160.1h.1M374.8 133.9h.1M401.9 131.1h.1M383.3 153.6h.1M376.2 150.6h.1M372.1 158.1h.1M399.2 130.8h.1M366.9 166.8h.1M395.9 134.4h.1M394.9 152.6h.1M392.0 135.6h.1M368.6 158.4h.1M367.1 155.2h.1M403.0 137.6h.1M391.8 146.1h.1M343.2 155.9h.1M346.6 166.2h.1M345.1 160.4h.1M363.7 152.5h.1M359.8 140.8h.1M360.9 161.3h.1M394.9 155.9h.1M371.7 171.5h.1M386.3 159.6h.1M358.6 170.2h.1M356.4 153.7h.1M386.6 134.0h.1M396.6 134.4h.1M360.8 144.7h.1M359.5 169.6h.1M381.3 173.0h.1M363.7 149.3h.1M350.3 155.2h.1M363.6 167.3h.1M375.2 145.6h.1M379.4 160.3h.1M357.8 156.2h.1M391.5 157.9h.1M354.7 157.4h.1M380.8 148.7h.1M399.4 142.5h.1M367.6 164.6h.1M384.9 167.0h.1M363.8 138.6h.1M385.5 165.7h.1M382.1 169.7h.1M396.7 136.2h.1M398.8 152.3h.1M366.5 171.2h.1M401.8 151.6h.1M371.3 163.1h.1M394.3 144.7h.1M390.6 136.6h.1M404.3 137.8h.1M391.8 150.3h.1M376.7 142.0h.1M346.1 153.9h.1M386.0 170.0h.1M381.6 166.5h.1M363.5 154.8h.1M356.0 165.1h.1M389.5 161.7h.1M395.0 149.6h.1M388.7 172.0h.1M383.0 169.3h.1M389.7 131.3h.1M386.2 161.4h.1M357.4 158.5h.1M387.5 150.4h.1M383.7 162.7h.1M402.6 140.8h.1M348.5 164.8h.1M378.5 166.3h.1M368.6 156.7h.1M358.3 142.5h.1M391.6 141.3h.1M358.1 147.6h.1M362.4 157.5h.1M377.3 171.7h.1M368.6 170.6h.1M387.4 173.0h.1M387.4 149.1h.1M389.9 133.1h.1M385.3 155.6h.1M350.7 164.8h.1M376.3 133.9h.1M392.4 139.0h.1M403.0 149.9h.1M355.2 159.1h.1M351.1 165.5h.1M380.3 171.7h.1M397.0 138.0h.1M405.7 151.8h.1M406.2 142.0h.1M410.7 145.2h.1M407.4 132.6h.1M405.6 136.3h.1M408.2 150.7h.1M406.4 136.4h.1M405.0 148.7h.1M411.0 138.5h.1M409.5 147.7h.1M413.2 137.0h.1M408.1 134.5h.1M411.9 144.0h.1" stroke="#62aa6a" stroke-width="0.8" stroke-linecap="round" fill="none"/>
<path d="M387.7 156.0h.1M345.4 163.9h.1M346.9 149.3h.1M366.1 154.7h.1M396.6 136.2h.1M363.4 139.0h.1M383.0 169.9h.1M347.1 159.0h.1M353.4 164.9h.1M376.5 171.5h.1M357.5 155.6h.1M380.3 170.1h.1M392.9 152.0h.1M378.9 163.5h.1M375.6 160.5h.1M378.7 171.9h.1M369.6 170.5h.1M387.3 148.2h.1M383.7 165.4h.1M371.7 144.3h.1M390.2 154.0h.1M403.7 133.7h.1M388.5 157.9h.1M368.4 144.7h.1M346.2 162.7h.1M367.4 143.7h.1M378.6 157.5h.1M384.2 132.3h.1M386.4 142.1h.1M375.8 150.0h.1M372.5 134.2h.1M355.5 155.4h.1M350.9 152.7h.1M356.9 169.8h.1M350.9 144.5h.1M365.5 148.4h.1M360.5 171.6h.1M358.1 140.9h.1M385.1 142.5h.1M374.6 138.9h.1M361.6 149.9h.1M385.9 171.1h.1M374.5 137.4h.1M366.4 144.0h.1M360.1 144.9h.1M401.2 130.2h.1M368.8 165.9h.1M402.7 140.5h.1M364.0 141.2h.1M402.4 157.8h.1M357.1 150.5h.1M370.1 151.4h.1M388.7 149.2h.1M385.7 134.3h.1M390.6 137.9h.1M358.8 164.3h.1M358.5 156.2h.1M362.3 138.1h.1M384.0 133.0h.1M389.9 138.1h.1M403.1 146.5h.1M396.3 136.1h.1M397.2 134.2h.1M371.2 148.8h.1M375.0 146.1h.1M404.7 135.0h.1M374.9 170.8h.1M383.8 145.2h.1M384.0 173.8h.1M375.6 169.7h.1M368.2 140.9h.1M342.3 158.3h.1M384.4 149.1h.1M375.2 158.1h.1M362.1 142.5h.1M363.8 163.1h.1M388.8 141.0h.1M378.3 148.7h.1M393.9 152.7h.1M359.1 158.1h.1M400.0 129.5h.1M391.0 172.0h.1M357.4 170.3h.1M345.9 155.8h.1M365.7 166.2h.1M383.5 141.9h.1M360.3 161.5h.1M364.6 161.0h.1M398.8 133.0h.1M374.2 165.2h.1M346.9 164.8h.1M400.7 132.7h.1M400.6 130.0h.1M376.8 163.3h.1M385.5 162.7h.1M363.3 137.4h.1M368.0 164.9h.1M350.9 156.4h.1M368.4 162.7h.1M401.9 148.5h.1M379.7 163.0h.1M393.2 146.6h.1M344.0 153.6h.1M367.6 138.5h.1M395.3 157.8h.1M398.1 141.0h.1M350.8 166.8h.1M385.1 140.2h.1M357.0 164.3h.1M383.9 157.9h.1M400.4 153.7h.1M385.3 164.9h.1M378.9 140.6h.1M345.1 154.7h.1M383.3 161.2h.1M379.2 142.2h.1M366.5 160.1h.1M354.8 163.1h.1M372.4 138.2h.1M358.4 163.1h.1M365.6 154.6h.1M393.9 135.9h.1M381.3 147.0h.1M389.2 137.7h.1M383.3 135.3h.1M351.1 168.6h.1M359.2 147.6h.1M395.2 144.4h.1M353.5 164.0h.1M395.5 155.4h.1M389.5 131.3h.1M353.9 166.8h.1M366.9 163.1h.1M388.2 133.5h.1M351.3 155.0h.1M391.1 136.3h.1M367.8 171.8h.1M370.5 173.6h.1M383.6 145.5h.1M376.8 132.0h.1M377.6 171.0h.1M376.1 148.6h.1M359.3 150.1h.1M360.7 139.9h.1M347.3 153.8h.1M397.3 156.7h.1M399.4 148.9h.1M396.1 152.5h.1M380.2 132.8h.1M386.5 152.8h.1M383.4 156.4h.1M368.9 164.8h.1M385.9 137.8h.1M379.7 147.6h.1M370.7 157.1h.1M354.2 141.8h.1M359.5 164.1h.1M365.5 151.7h.1M385.6 144.9h.1M397.8 144.9h.1M397.3 154.9h.1M389.2 140.4h.1M398.3 156.6h.1M355.5 170.6h.1M383.3 149.5h.1M388.5 159.4h.1M365.5 138.2h.1M347.1 161.6h.1M383.2 171.5h.1M352.7 164.7h.1M396.4 143.4h.1M366.0 154.0h.1M366.1 166.8h.1M370.7 137.5h.1M360.3 159.0h.1M379.0 144.7h.1M384.5 142.5h.1M347.2 159.0h.1M348.3 166.7h.1M367.6 136.6h.1M399.5 154.5h.1M352.7 162.9h.1M381.7 133.4h.1M378.0 165.5h.1M353.8 154.1h.1M386.7 146.7h.1M367.3 145.0h.1M378.8 164.0h.1M373.5 145.6h.1M371.6 149.2h.1M380.1 173.9h.1M370.0 168.5h.1M401.3 141.4h.1M381.5 132.4h.1M354.0 153.3h.1M386.7 144.2h.1M363.7 151.4h.1M392.5 132.9h.1M377.3 155.7h.1M381.5 143.9h.1M376.3 171.8h.1M345.5 151.7h.1M378.4 137.1h.1M351.9 168.2h.1M352.2 160.0h.1M365.5 164.4h.1M398.9 137.1h.1M406.6 130.3h.1M402.6 144.8h.1M377.7 153.9h.1M358.4 156.7h.1M384.5 153.9h.1M356.3 156.8h.1M359.1 170.3h.1M403.2 153.0h.1M376.3 152.9h.1M395.6 139.7h.1M386.7 145.6h.1M376.5 151.5h.1M386.1 162.6h.1M398.6 154.2h.1M398.5 140.5h.1M372.4 151.1h.1M402.6 154.2h.1M371.1 168.9h.1M398.9 132.1h.1M345.3 160.6h.1M378.8 135.8h.1M403.3 133.0h.1M378.2 164.8h.1M381.1 149.9h.1M348.0 158.4h.1M365.0 145.9h.1M385.6 136.3h.1M356.7 163.1h.1M388.8 131.6h.1M402.7 129.3h.1M387.1 161.3h.1M395.5 147.9h.1M381.7 149.7h.1M365.0 167.4h.1M388.1 149.0h.1M346.5 157.3h.1M351.1 155.7h.1M367.6 163.0h.1M392.2 142.1h.1M350.8 152.4h.1M353.9 142.9h.1M362.8 148.8h.1M367.7 146.4h.1M391.6 141.4h.1M384.4 173.0h.1M383.7 160.4h.1M395.1 144.8h.1M393.9 167.1h.1M351.6 159.5h.1M384.6 169.0h.1M388.3 156.8h.1M386.5 173.3h.1M394.8 145.2h.1M397.3 143.7h.1M383.4 144.3h.1M395.3 153.3h.1M383.4 161.9h.1M375.6 155.7h.1M371.7 160.0h.1M388.6 149.6h.1M378.8 160.8h.1M389.5 157.6h.1M359.0 145.0h.1M379.0 152.0h.1M390.2 146.4h.1M373.7 158.0h.1M371.9 155.6h.1M372.8 147.1h.1M381.3 131.7h.1M356.7 146.7h.1M357.5 171.3h.1M374.9 157.1h.1M384.7 138.3h.1M392.2 135.6h.1M389.2 130.2h.1M370.1 168.9h.1M370.9 161.1h.1M365.9 153.4h.1M387.2 160.4h.1M355.4 140.7h.1M396.8 130.2h.1M386.1 141.5h.1M384.9 154.8h.1M358.0 165.2h.1M370.6 134.1h.1M372.1 161.3h.1M401.5 137.1h.1M370.7 135.2h.1M362.9 147.4h.1M400.5 131.4h.1M380.4 149.5h.1M407.5 157.8h.1M410.5 142.3h.1M410.9 152.3h.1M412.0 131.9h.1M407.4 150.7h.1M408.1 132.8h.1M403.5 150.7h.1M403.9 147.8h.1M414.2 142.2h.1M411.2 152.0h.1M409.0 141.6h.1M408.7 157.6h.1M405.4 146.1h.1M411.2 130.5h.1M405.9 150.0h.1M407.6 133.4h.1M403.9 151.1h.1M419.0 149.5h.1M411.4 142.0h.1" stroke="#388a46" stroke-width="0.8" stroke-linecap="round" fill="none"/>
<path d="M380.1 149.6h.1M384.5 174.2h.1M365.4 169.2h.1M380.7 140.8h.1M348.4 157.8h.1M358.3 144.7h.1M358.9 145.6h.1M356.6 152.5h.1M384.9 165.3h.1M351.2 166.6h.1M396.4 138.4h.1M358.2 142.2h.1M365.0 149.7h.1M374.9 153.1h.1M363.2 152.5h.1M378.4 164.6h.1M402.2 149.1h.1M382.2 151.9h.1M385.4 135.3h.1M352.2 148.5h.1M354.5 143.4h.1M383.0 152.2h.1M347.1 167.9h.1M376.5 139.7h.1M374.8 136.9h.1M361.0 149.8h.1M391.4 158.8h.1M392.5 157.0h.1M400.9 137.9h.1M371.4 141.1h.1M366.3 172.5h.1M372.9 144.5h.1M361.3 162.6h.1M357.4 140.6h.1M375.0 157.6h.1M398.9 138.7h.1M343.6 161.2h.1M367.5 171.2h.1M376.4 155.4h.1M357.1 140.1h.1M385.7 172.2h.1M354.3 145.4h.1M392.5 130.7h.1M393.5 132.4h.1M397.4 142.2h.1M395.3 158.7h.1M373.1 166.2h.1M403.4 145.8h.1M356.0 145.6h.1M384.8 138.1h.1M386.6 137.3h.1M367.8 153.9h.1M365.3 147.8h.1M366.2 151.9h.1M393.8 138.9h.1M375.9 146.3h.1M372.0 137.0h.1M383.8 132.6h.1M390.3 164.3h.1M402.4 136.3h.1M355.4 140.8h.1M375.1 143.4h.1M399.6 154.2h.1M380.1 169.1h.1M370.9 136.9h.1M380.7 138.1h.1M344.4 153.1h.1M391.1 143.7h.1M400.0 143.8h.1M387.9 168.0h.1M391.9 138.2h.1M362.7 148.2h.1M348.8 157.9h.1M387.9 164.8h.1M383.3 145.1h.1M400.4 139.7h.1M358.0 143.7h.1M376.2 136.2h.1M390.3 148.7h.1M354.5 158.0h.1M383.6 150.0h.1M348.0 148.0h.1M393.5 161.4h.1M383.4 140.2h.1M375.6 158.0h.1M355.5 160.1h.1M369.5 160.7h.1M366.5 140.4h.1M360.2 140.0h.1M370.0 157.9h.1M382.0 164.5h.1M378.4 140.9h.1M355.5 148.7h.1M385.0 165.0h.1M361.4 155.6h.1M382.5 157.4h.1M385.9 149.7h.1M344.8 164.2h.1M372.1 171.4h.1M362.2 162.1h.1M365.9 155.1h.1M383.4 147.9h.1M388.3 166.6h.1M381.5 169.8h.1M378.3 165.2h.1M381.9 159.8h.1M392.8 139.4h.1M399.1 151.0h.1M379.2 140.8h.1M393.3 148.3h.1M372.0 172.1h.1M402.0 131.7h.1M358.6 154.6h.1M371.3 136.1h.1M350.8 149.2h.1M371.6 144.3h.1M389.0 154.1h.1M397.3 144.1h.1M362.7 170.1h.1M406.6 129.5h.1M353.9 148.7h.1M402.1 138.8h.1M390.2 147.5h.1M349.5 161.5h.1M374.3 151.7h.1M368.5 135.1h.1M380.9 168.2h.1M345.1 152.4h.1M370.3 151.9h.1M361.8 158.4h.1M379.4 158.5h.1M372.1 153.8h.1M382.5 167.6h.1M393.6 168.7h.1M389.6 142.2h.1M367.5 154.2h.1M367.1 143.5h.1M370.8 157.3h.1M397.5 155.6h.1M374.6 154.1h.1M359.2 158.4h.1M392.0 133.7h.1M382.3 165.7h.1M395.8 142.7h.1M389.3 138.9h.1M378.8 134.1h.1M377.0 146.4h.1M385.7 144.4h.1M375.1 139.2h.1M388.5 140.7h.1M367.1 158.8h.1M362.8 159.1h.1M348.7 154.5h.1M362.2 139.1h.1M368.9 158.9h.1M390.6 166.7h.1M370.0 152.2h.1M388.2 165.6h.1M368.9 138.0h.1M361.4 169.2h.1M392.4 166.8h.1M363.1 150.2h.1M365.6 136.5h.1M370.4 137.5h.1M353.9 158.0h.1M387.3 136.3h.1M393.8 148.2h.1M375.7 148.0h.1M364.0 148.8h.1M364.3 169.2h.1M379.1 146.9h.1M400.7 153.8h.1M380.6 132.5h.1M378.1 161.5h.1M390.5 172.1h.1M366.8 135.4h.1M404.6 129.4h.1M394.7 130.4h.1M353.6 166.2h.1M397.7 146.8h.1M355.9 169.7h.1M380.7 130.8h.1M383.6 157.8h.1M390.7 152.1h.1M383.7 144.8h.1M378.1 147.4h.1M389.8 154.0h.1M388.3 138.8h.1M384.6 137.8h.1M399.7 158.0h.1M403.0 154.6h.1M395.6 148.1h.1M390.8 140.6h.1M394.7 149.8h.1M380.0 169.1h.1M389.1 169.1h.1M387.4 173.7h.1M368.1 143.3h.1M407.9 129.0h.1M387.7 143.6h.1M390.9 146.1h.1M386.5 143.5h.1M397.0 133.0h.1M383.8 168.1h.1M354.9 148.1h.1M395.4 144.9h.1M397.3 147.8h.1M370.7 151.3h.1M375.5 166.5h.1M386.7 154.1h.1M345.2 159.9h.1M394.8 138.0h.1M359.7 165.2h.1M384.0 131.0h.1M394.7 151.6h.1M402.5 138.3h.1M389.9 148.4h.1M391.4 151.5h.1M373.7 168.3h.1M397.7 139.2h.1M364.4 172.0h.1M358.0 162.7h.1M400.0 134.2h.1M374.5 153.3h.1M349.3 150.2h.1M400.7 132.7h.1M381.1 164.6h.1M382.6 160.4h.1M395.4 149.9h.1M373.4 151.5h.1M364.7 136.2h.1M391.1 135.0h.1M382.7 142.2h.1M349.5 160.0h.1M356.4 169.5h.1M348.2 154.1h.1M383.5 146.0h.1M366.8 172.8h.1M361.3 146.3h.1M396.5 154.7h.1M365.0 171.8h.1M364.2 146.7h.1M376.9 152.6h.1M368.3 155.0h.1M391.6 151.7h.1M350.2 161.0h.1M359.7 138.5h.1M388.0 132.1h.1M355.4 167.2h.1M364.2 137.5h.1M354.4 162.4h.1M352.4 157.7h.1M351.7 164.3h.1M355.7 155.6h.1M401.7 146.3h.1M348.4 155.8h.1M383.8 161.1h.1M353.9 165.7h.1M352.3 152.2h.1M370.0 133.8h.1M397.9 133.4h.1M387.5 156.2h.1M376.1 149.6h.1M384.6 170.7h.1M360.6 170.2h.1M359.7 164.0h.1M403.5 144.4h.1M396.6 139.1h.1M365.7 161.8h.1M358.2 145.5h.1M367.0 145.5h.1M373.4 136.7h.1M356.8 148.9h.1M365.5 150.2h.1M398.6 133.8h.1M399.0 138.5h.1M390.7 153.3h.1M381.7 158.6h.1M356.6 156.1h.1M354.2 163.0h.1M352.3 166.6h.1M358.6 149.6h.1M376.2 155.4h.1M408.8 132.3h.1M409.6 130.5h.1M404.3 141.9h.1M405.1 154.9h.1M415.2 148.4h.1M404.4 141.8h.1M406.3 154.3h.1M407.0 133.2h.1M415.7 142.1h.1M409.5 149.0h.1M415.9 139.8h.1M410.6 142.1h.1M409.6 152.5h.1M412.0 146.5h.1M415.5 128.1h.1M406.2 135.1h.1M405.7 138.0h.1M410.1 129.3h.1M404.8 153.7h.1M410.1 152.5h.1M407.5 154.5h.1" stroke="#80ba84" stroke-width="0.8" stroke-linecap="round" fill="none"/>
<path d="M373.0 159.2h.1M345.5 160.9h.1M396.2 141.8h.1M367.2 159.4h.1M367.5 168.6h.1M405.2 135.7h.1M367.6 147.0h.1M352.6 164.1h.1M363.6 165.4h.1M368.2 172.1h.1M370.3 168.6h.1M370.8 137.2h.1M397.4 135.1h.1M349.6 149.0h.1M375.8 144.3h.1M362.2 142.7h.1M354.1 150.5h.1M399.4 159.4h.1M362.1 145.1h.1M354.9 151.9h.1M389.7 158.2h.1M400.8 157.5h.1M390.3 165.9h.1M375.0 167.0h.1M380.3 169.6h.1M394.5 163.0h.1M374.9 153.3h.1M385.3 131.8h.1M390.5 140.3h.1M390.0 138.2h.1M390.9 142.7h.1M404.9 134.9h.1M396.0 152.0h.1M362.5 167.2h.1M397.3 134.3h.1M366.3 146.8h.1M391.6 158.3h.1M378.6 146.8h.1M371.4 135.2h.1M379.4 169.3h.1M391.4 147.7h.1M399.5 129.8h.1M384.5 163.8h.1M383.8 160.7h.1M364.0 148.0h.1M386.9 137.9h.1M375.1 138.2h.1M396.2 148.6h.1M358.9 161.6h.1M404.2 129.9h.1M367.2 140.3h.1M354.6 163.2h.1M357.1 147.8h.1M358.0 140.0h.1M351.7 169.2h.1M380.0 143.7h.1M399.1 149.3h.1M368.8 141.7h.1M362.3 154.7h.1M365.7 137.8h.1M368.5 169.1h.1M347.4 157.2h.1M348.7 151.2h.1M401.6 157.1h.1M396.6 137.2h.1M389.7 169.8h.1M344.2 154.5h.1M391.9 130.5h.1M369.4 155.4h.1M369.8 158.9h.1M390.2 166.0h.1M401.1 141.4h.1M395.7 135.4h.1M390.9 131.0h.1M382.5 148.6h.1M368.5 139.7h.1M345.4 164.4h.1M395.6 136.8h.1M391.1 150.1h.1M390.8 149.5h.1M383.4 160.5h.1M372.7 167.2h.1M355.6 157.3h.1M377.3 138.7h.1M360.4 138.6h.1M401.4 151.7h.1M366.7 169.2h.1M357.0 149.9h.1M391.6 158.3h.1M364.7 143.7h.1M352.8 148.9h.1M349.9 149.9h.1M354.2 142.6h.1M389.5 169.0h.1M362.3 157.5h.1M369.7 149.6h.1M352.2 164.5h.1M377.5 161.6h.1M367.6 163.7h.1M364.9 140.9h.1M372.7 154.5h.1M378.0 134.5h.1M361.6 150.7h.1M354.6 160.5h.1M372.6 154.5h.1M366.4 147.9h.1M343.4 156.7h.1M386.9 171.4h.1M389.3 157.4h.1M363.5 143.3h.1M392.2 133.4h.1M385.1 145.7h.1M396.2 164.7h.1M390.3 137.4h.1M395.9 132.4h.1M352.5 168.1h.1M370.7 159.7h.1M351.1 165.2h.1M380.0 169.8h.1M368.3 152.4h.1M373.5 136.5h.1M397.5 157.5h.1M396.2 150.6h.1M401.1 131.4h.1M389.8 142.2h.1M359.7 138.2h.1M375.6 153.0h.1M388.0 137.7h.1M397.3 152.8h.1M358.1 148.1h.1M382.8 140.3h.1M349.5 156.0h.1M361.0 147.4h.1M382.3 150.2h.1M362.1 139.9h.1M398.8 139.7h.1M364.9 159.7h.1M390.6 162.8h.1M392.0 150.5h.1M374.6 172.8h.1M371.6 149.7h.1M393.8 167.6h.1M402.7 143.6h.1M369.9 170.4h.1M379.1 151.5h.1M387.1 146.6h.1M365.3 156.0h.1M364.8 172.1h.1M379.7 169.0h.1M352.9 143.3h.1M361.9 160.4h.1M392.7 143.6h.1M362.4 169.9h.1M357.7 146.6h.1M365.3 137.3h.1M349.7 166.5h.1M371.0 167.0h.1M366.0 140.1h.1M375.6 153.6h.1M361.7 146.2h.1M345.1 160.7h.1M403.2 134.6h.1M358.9 153.8h.1M350.9 154.5h.1M363.7 166.1h.1M381.3 149.9h.1M354.6 160.9h.1M348.7 151.1h.1M384.9 140.3h.1M397.3 142.3h.1M363.2 137.2h.1M385.8 166.6h.1M401.6 136.3h.1M363.0 149.8h.1M369.2 153.0h.1M349.0 168.2h.1M376.8 140.3h.1M374.0 154.1h.1M356.6 155.0h.1M391.8 134.0h.1M355.7 142.5h.1M386.4 140.4h.1M360.8 160.2h.1M374.9 168.7h.1M373.1 136.0h.1M358.9 154.8h.1M379.3 142.6h.1M346.0 150.9h.1M368.1 138.0h.1M344.5 157.4h.1M382.3 161.9h.1M383.8 144.5h.1M363.0 170.1h.1M368.2 168.3h.1M358.9 148.6h.1M355.9 154.8h.1M399.3 141.0h.1M373.8 169.5h.1M381.2 149.5h.1M355.5 169.2h.1M386.9 132.9h.1M370.1 133.6h.1M351.3 162.5h.1M365.0 151.5h.1M369.4 173.3h.1M367.2 146.4h.1M381.9 171.1h.1M398.3 152.1h.1M380.9 174.3h.1M357.1 157.6h.1M371.6 132.8h.1M373.3 165.3h.1M389.3 141.3h.1M370.9 145.6h.1M388.9 142.3h.1M366.3 159.2h.1M372.3 149.9h.1M392.7 164.0h.1M391.6 154.6h.1M369.3 155.5h.1M362.3 140.5h.1M375.5 148.0h.1M377.2 145.9h.1M380.3 145.5h.1M376.9 147.5h.1M381.2 137.0h.1M397.2 135.5h.1M369.1 158.9h.1M387.1 135.9h.1M380.2 143.4h.1M402.1 143.6h.1M397.4 135.7h.1M381.3 153.5h.1M403.0 130.3h.1M385.2 131.1h.1M353.4 164.8h.1M399.6 150.7h.1M352.4 153.3h.1M354.6 147.2h.1M357.5 168.6h.1M374.9 169.5h.1M376.0 142.1h.1M406.9 130.7h.1M357.8 162.3h.1M347.6 161.6h.1M396.4 164.6h.1M358.3 167.1h.1M372.0 139.6h.1M374.3 170.3h.1M394.3 160.0h.1M367.7 151.6h.1M371.7 165.8h.1M371.0 172.6h.1M365.6 159.0h.1M376.2 159.7h.1M387.0 154.3h.1M391.4 130.4h.1M379.9 130.9h.1M392.8 130.7h.1M391.6 159.8h.1M393.0 146.8h.1M390.9 166.3h.1M378.4 165.7h.1M380.4 147.1h.1M373.3 134.9h.1M368.3 141.7h.1M365.1 169.9h.1M373.2 166.4h.1M400.6 153.2h.1M393.9 166.4h.1M356.1 159.5h.1M391.8 133.5h.1M377.8 142.1h.1M372.0 134.4h.1M381.8 173.5h.1M390.2 165.2h.1M386.8 167.6h.1M364.7 143.6h.1M363.4 164.0h.1M376.8 158.5h.1M391.1 163.2h.1M358.0 140.6h.1M365.5 135.3h.1M361.7 147.5h.1M401.7 136.0h.1M385.5 137.1h.1M384.2 150.4h.1M403.8 154.2h.1M391.0 154.5h.1M398.5 145.6h.1M401.5 132.5h.1M368.2 159.8h.1M357.0 150.6h.1M375.5 172.1h.1M382.8 138.7h.1M364.3 159.4h.1M415.5 139.3h.1M412.1 131.9h.1M403.2 150.5h.1M405.5 141.5h.1M413.7 154.6h.1M410.7 132.0h.1M411.3 140.2h.1M412.8 151.8h.1M411.7 145.2h.1M405.4 142.2h.1M410.2 156.6h.1M417.7 143.3h.1M413.0 129.9h.1M408.3 134.7h.1M408.5 141.6h.1M410.7 152.3h.1M410.3 149.0h.1M406.8 145.4h.1M412.4 153.0h.1" stroke="#489852" stroke-width="0.8" stroke-linecap="round" fill="none"/>
<path d="M357.0 151.0h.1M375.8 157.0h.1M386.5 131.3h.1M372.5 150.9h.1M364.3 140.9h.1M376.6 135.5h.1M376.6 173.5h.1M376.9 164.4h.1M395.9 162.6h.1M391.4 150.6h.1M389.7 136.6h.1M389.7 154.2h.1M346.4 159.4h.1M368.0 151.1h.1M378.3 148.9h.1M396.0 140.6h.1M379.4 160.8h.1M396.0 148.6h.1M387.2 173.7h.1M360.2 139.9h.1M352.0 149.2h.1M361.7 139.4h.1M380.4 153.0h.1M389.1 169.0h.1M386.2 160.4h.1M401.5 142.0h.1M375.5 137.5h.1M389.4 131.1h.1M390.2 149.4h.1M369.0 152.8h.1M368.1 149.2h.1M401.1 150.4h.1M357.0 170.8h.1M400.3 150.5h.1M374.6 159.6h.1M369.4 140.6h.1M356.2 163.6h.1M351.2 146.8h.1M391.2 169.9h.1M362.5 141.4h.1M403.2 137.2h.1M382.8 159.6h.1M391.2 167.5h.1M379.2 145.8h.1M375.2 139.4h.1M404.4 133.6h.1M394.4 153.8h.1M352.4 160.6h.1M372.2 136.2h.1M376.2 171.1h.1M368.4 167.5h.1M383.2 142.8h.1M374.1 139.6h.1M392.3 164.4h.1M391.8 136.1h.1M349.2 153.1h.1M396.0 140.4h.1M356.4 155.5h.1M347.9 158.0h.1M354.8 156.6h.1M393.6 161.5h.1M358.8 139.6h.1M370.6 161.9h.1M383.7 166.5h.1M370.5 164.1h.1M364.6 166.8h.1M388.0 151.6h.1M392.9 155.3h.1M387.6 151.7h.1M369.5 139.2h.1M393.0 160.8h.1M398.2 159.9h.1M384.2 149.5h.1M374.1 173.3h.1M348.2 155.1h.1M396.6 152.6h.1M368.8 172.1h.1M356.1 165.4h.1M350.1 164.3h.1M372.6 142.3h.1M364.5 135.8h.1M386.0 169.7h.1M393.9 167.1h.1M370.7 169.1h.1M372.6 135.4h.1M385.7 167.2h.1M405.4 132.2h.1M401.2 130.3h.1M364.0 168.2h.1M376.4 164.0h.1M396.5 142.2h.1M344.2 161.8h.1M402.8 156.6h.1M386.8 138.5h.1M384.2 171.5h.1M402.6 149.2h.1M384.4 138.5h.1M389.3 139.9h.1M389.0 167.9h.1M342.5 158.5h.1M365.7 158.3h.1M370.0 169.4h.1M403.5 139.5h.1M353.5 160.8h.1M348.6 157.7h.1M378.6 168.6h.1M384.1 172.5h.1M358.5 144.9h.1M397.2 130.9h.1M384.5 173.8h.1M385.9 138.4h.1M373.3 141.9h.1M396.8 152.9h.1M379.5 135.1h.1M382.0 151.4h.1M395.4 144.1h.1M402.0 150.6h.1M366.2 156.0h.1M371.1 152.4h.1M379.8 152.7h.1M367.4 148.0h.1M393.2 144.3h.1M357.5 144.1h.1M400.3 130.4h.1M384.2 140.9h.1M386.6 141.3h.1M377.0 135.6h.1M402.3 134.6h.1M392.4 155.6h.1M353.8 142.7h.1M375.5 151.9h.1M381.6 172.7h.1M374.5 172.2h.1M362.1 168.8h.1M373.7 165.0h.1M364.9 140.0h.1M351.9 161.1h.1M395.0 136.1h.1M365.0 161.8h.1M381.9 138.5h.1M399.5 134.4h.1M353.3 167.7h.1M349.9 161.6h.1M360.3 147.2h.1M390.3 161.4h.1M383.9 137.0h.1M370.4 160.1h.1M348.9 165.0h.1M387.7 146.8h.1M391.2 166.7h.1M377.7 140.2h.1M357.3 139.8h.1M375.8 149.1h.1M378.0 163.6h.1M371.3 134.0h.1M396.0 161.0h.1M374.4 151.6h.1M380.1 132.5h.1M371.0 173.1h.1M395.4 131.5h.1M386.5 156.6h.1M366.2 155.3h.1M370.7 168.3h.1M393.0 135.1h.1M400.6 157.2h.1M348.8 165.4h.1M399.7 153.4h.1M387.4 165.7h.1M352.8 145.3h.1M359.7 151.7h.1M376.6 172.5h.1M357.7 139.5h.1M361.5 142.9h.1M402.8 155.5h.1M390.3 172.8h.1M402.9 138.5h.1M363.2 163.0h.1M378.4 158.8h.1M393.1 142.9h.1M393.0 145.4h.1M393.2 139.9h.1M345.9 158.3h.1M368.8 170.8h.1M356.4 140.3h.1M360.3 144.0h.1M351.5 162.4h.1M364.1 170.8h.1M357.1 165.0h.1M387.3 130.5h.1M362.5 169.0h.1M368.6 154.2h.1M387.3 158.6h.1M368.8 135.3h.1M366.6 139.8h.1M388.9 146.8h.1M376.5 156.8h.1M373.0 161.8h.1M353.0 166.4h.1M387.7 149.3h.1M376.1 139.7h.1M366.2 144.3h.1M354.9 154.9h.1M363.0 139.9h.1M394.2 157.0h.1M373.0 169.5h.1M388.8 150.9h.1M399.5 135.5h.1M379.1 143.6h.1M402.8 154.4h.1M361.1 138.4h.1M361.0 139.4h.1M366.8 158.1h.1M347.7 150.0h.1M378.7 133.2h.1M374.0 165.0h.1M380.0 139.5h.1M395.7 144.4h.1M386.6 135.7h.1M404.4 134.1h.1M364.1 156.0h.1M358.2 144.9h.1M384.2 141.6h.1M377.7 148.0h.1M395.0 159.7h.1M388.7 160.4h.1M379.7 166.5h.1M399.8 136.2h.1M355.1 170.3h.1M371.4 167.1h.1M383.9 164.4h.1M378.7 159.4h.1M365.6 170.7h.1M383.4 140.7h.1M359.2 139.9h.1M368.9 165.7h.1M353.9 168.6h.1M374.9 167.7h.1M385.9 155.2h.1M359.7 167.4h.1M356.5 168.5h.1M375.8 148.8h.1M354.6 161.0h.1M381.0 165.3h.1M390.1 167.6h.1M365.9 142.6h.1M347.8 149.0h.1M393.0 169.5h.1M394.3 153.1h.1M348.5 166.5h.1M389.1 174.0h.1M353.2 148.8h.1M343.3 160.4h.1M380.8 158.8h.1M381.3 160.6h.1M349.0 151.4h.1M360.5 146.2h.1M399.3 131.1h.1M385.6 167.0h.1M390.1 132.2h.1M371.6 143.3h.1M384.9 152.3h.1M357.1 151.6h.1M378.9 161.3h.1M368.7 169.4h.1M417.5 135.9h.1M409.2 140.8h.1M411.8 142.4h.1M405.4 141.8h.1M409.6 150.0h.1M413.5 143.7h.1M410.7 129.9h.1M405.9 142.4h.1M412.7 139.8h.1M412.8 133.3h.1M411.5 130.0h.1M412.8 149.3h.1M407.2 153.4h.1M412.9 138.8h.1M408.9 153.8h.1M410.3 154.9h.1M408.2 143.4h.1M407.3 136.0h.1M407.8 147.2h.1M405.4 147.3h.1M416.3 145.7h.1M406.5 133.2h.1M411.1 150.3h.1M404.6 139.2h.1" stroke="#56a060" stroke-width="0.8" stroke-linecap="round" fill="none"/>
<path d="M408.6 153.1h.1M440.6 163.5h.1M420.9 133.6h.1M450.8 151.4h.1M424.4 153.8h.1M440.6 132.1h.1M408.7 148.6h.1M422.6 142.7h.1M440.9 155.9h.1M453.7 167.3h.1M431.5 133.2h.1M441.4 171.1h.1M427.1 127.9h.1M425.0 127.6h.1M419.6 146.0h.1M447.5 160.9h.1M444.4 170.9h.1M436.8 130.9h.1M420.1 130.3h.1M440.9 141.5h.1M433.8 158.5h.1M431.5 132.1h.1M439.4 142.1h.1M457.7 141.4h.1M425.2 146.4h.1M441.2 131.2h.1M453.0 149.8h.1M413.3 154.0h.1M453.0 153.2h.1M414.9 130.3h.1M435.1 129.0h.1M450.2 164.6h.1M436.1 158.0h.1M431.4 129.4h.1M432.3 149.3h.1M429.2 155.0h.1M412.8 133.0h.1M444.6 152.0h.1M407.8 138.8h.1M447.1 148.4h.1M456.7 158.0h.1M427.2 152.0h.1M440.3 134.7h.1M442.7 161.5h.1M445.8 139.4h.1M449.9 163.7h.1M448.9 132.4h.1M421.3 130.9h.1M433.3 129.5h.1M423.8 134.9h.1M425.5 133.6h.1M409.5 146.7h.1M413.7 127.8h.1M457.0 144.1h.1M438.9 154.5h.1M451.9 148.2h.1M420.4 137.3h.1M453.4 147.4h.1M412.7 137.5h.1M408.2 134.9h.1M418.0 150.2h.1M418.3 139.0h.1M436.0 161.1h.1M430.9 148.6h.1M441.5 134.1h.1M458.3 146.8h.1M447.7 140.3h.1M416.8 137.1h.1M432.3 133.8h.1M415.9 152.6h.1M435.6 143.7h.1M447.0 137.5h.1M414.1 151.9h.1M433.3 141.9h.1M412.9 137.4h.1M432.5 151.2h.1M458.2 151.7h.1M444.0 148.9h.1M421.7 152.7h.1M405.7 140.5h.1M432.1 152.6h.1M442.7 169.7h.1M427.9 155.6h.1M435.9 148.8h.1M440.7 163.8h.1M421.1 140.8h.1M439.6 144.0h.1M412.3 145.6h.1M451.6 174.3h.1M427.9 136.2h.1M410.0 144.4h.1M442.7 132.4h.1M456.4 148.9h.1M420.7 154.6h.1M440.0 143.6h.1M434.7 128.8h.1M416.5 144.1h.1M445.1 173.4h.1M432.6 149.7h.1M436.3 143.9h.1M455.4 144.0h.1M457.8 153.8h.1M411.9 145.6h.1M416.3 149.1h.1M448.8 169.1h.1M453.5 173.2h.1M441.4 157.0h.1M432.6 157.6h.1M412.0 135.3h.1M409.5 154.8h.1M414.6 136.5h.1M424.9 150.2h.1M445.3 132.6h.1M423.5 134.8h.1M431.3 137.3h.1M445.9 132.4h.1M439.1 157.4h.1M422.3 141.3h.1M413.2 134.9h.1M416.2 143.2h.1M457.0 152.8h.1M405.6 143.6h.1M448.0 167.4h.1M456.6 139.3h.1M435.1 137.7h.1M421.8 139.1h.1M444.5 141.5h.1M417.6 153.4h.1M416.4 143.5h.1M452.5 142.0h.1M415.9 131.8h.1M422.7 129.0h.1M435.5 144.9h.1M435.6 145.9h.1M433.3 139.9h.1M420.2 153.6h.1M445.7 150.7h.1M414.6 155.8h.1M424.4 139.9h.1M440.6 168.3h.1M456.4 169.0h.1M443.8 155.7h.1M422.8 136.6h.1M406.9 150.8h.1M430.0 153.6h.1M434.0 159.2h.1M414.5 153.2h.1M431.1 132.8h.1M446.7 172.3h.1M433.0 133.3h.1M457.5 148.0h.1M447.8 168.0h.1M425.4 130.5h.1M427.0 155.7h.1M455.3 164.3h.1M439.8 164.5h.1M429.0 129.6h.1M435.8 154.4h.1M437.8 155.8h.1M436.9 153.2h.1M404.4 145.0h.1M438.1 132.0h.1M437.2 153.1h.1M419.2 135.6h.1M445.8 152.3h.1M421.7 128.7h.1M417.9 131.5h.1M417.8 132.9h.1M448.1 139.9h.1M419.6 148.7h.1M427.6 136.1h.1M450.9 164.0h.1M433.0 152.3h.1M446.1 132.6h.1M452.3 155.3h.1M409.2 146.9h.1" stroke="#8f9a6c" stroke-width="0.8" stroke-linecap="round" fill="none"/>
<path d="M409.4 141.6h.1M437.6 162.3h.1M409.4 135.3h.1M412.8 136.5h.1M419.9 137.3h.1M406.3 141.4h.1M415.3 140.6h.1M456.4 152.3h.1M428.8 144.4h.1M445.9 166.1h.1M442.6 147.0h.1M453.4 140.3h.1M450.1 142.8h.1M427.3 141.0h.1M432.9 138.4h.1M437.5 158.4h.1M435.8 159.1h.1M437.1 145.0h.1M436.8 135.8h.1M449.9 133.5h.1M425.7 152.0h.1M431.2 158.5h.1M409.3 148.3h.1M435.0 137.9h.1M440.3 154.7h.1M408.1 149.2h.1M418.3 148.4h.1M430.4 151.4h.1M411.6 142.4h.1M448.2 175.0h.1M425.0 134.5h.1M440.9 149.2h.1M420.2 127.8h.1M454.5 160.4h.1M448.2 153.7h.1M427.8 132.0h.1M428.4 145.1h.1M430.7 146.7h.1M425.0 135.1h.1M446.4 156.1h.1M441.4 149.5h.1M427.3 146.4h.1M445.6 172.9h.1M438.4 139.1h.1M430.9 142.0h.1M423.2 134.4h.1M410.0 131.3h.1M420.9 128.0h.1M411.2 147.6h.1M439.2 141.2h.1M438.7 144.1h.1M437.9 140.2h.1M441.1 151.5h.1M456.4 158.1h.1M449.5 136.6h.1M440.8 140.6h.1M453.3 148.6h.1M426.6 130.1h.1M406.7 139.1h.1M409.5 136.5h.1M447.0 171.9h.1M443.7 130.7h.1M421.0 137.5h.1M443.6 141.7h.1M442.3 137.8h.1M443.6 135.9h.1M436.4 134.2h.1M450.5 142.3h.1M446.8 154.3h.1M456.3 168.8h.1M446.6 131.6h.1M431.9 141.8h.1M423.6 152.4h.1M426.5 155.6h.1M433.4 141.8h.1M421.1 139.1h.1M420.6 130.2h.1M441.3 144.8h.1M438.2 161.1h.1M445.2 172.5h.1M450.3 172.7h.1M442.9 153.8h.1M414.7 139.1h.1M425.5 141.4h.1M438.3 135.7h.1M437.2 156.7h.1M443.2 167.1h.1M458.0 142.7h.1M425.9 140.0h.1M421.6 153.4h.1M442.0 158.6h.1M407.1 154.5h.1M432.8 139.9h.1M447.7 167.6h.1M422.2 147.3h.1M443.1 162.2h.1M406.4 140.3h.1M416.5 132.6h.1M455.3 166.1h.1M419.1 132.1h.1M449.7 143.6h.1M435.5 152.8h.1M407.1 148.9h.1M447.0 152.9h.1M452.1 153.3h.1M424.6 131.9h.1M450.9 138.1h.1M453.7 159.7h.1M443.9 131.1h.1M439.8 167.9h.1M426.8 153.2h.1M434.7 154.7h.1M419.8 137.4h.1M449.7 142.0h.1M449.8 138.9h.1M420.3 147.7h.1M430.4 145.7h.1M431.9 138.8h.1M414.3 151.6h.1M412.4 142.7h.1M421.1 145.9h.1M439.5 165.0h.1M431.5 150.5h.1M436.3 154.5h.1M426.6 152.1h.1M429.0 146.0h.1M420.3 155.9h.1M423.0 139.6h.1M456.8 147.5h.1M419.8 138.3h.1M438.7 132.7h.1M407.1 150.3h.1M439.7 160.3h.1M409.4 135.2h.1M441.2 161.1h.1M420.4 145.4h.1M447.1 154.5h.1M443.3 151.8h.1M444.6 137.2h.1M423.5 130.9h.1M438.6 143.5h.1M419.6 150.9h.1M444.4 168.7h.1M418.1 142.7h.1M414.3 141.1h.1M439.5 129.5h.1M431.7 136.9h.1M457.9 153.8h.1M426.9 155.4h.1M423.7 151.8h.1M446.7 149.0h.1M436.6 145.1h.1M430.9 128.2h.1M427.4 150.3h.1M411.5 150.7h.1M442.0 130.2h.1M430.3 135.3h.1M457.2 140.4h.1M445.2 174.6h.1M455.9 172.0h.1M438.7 136.3h.1M436.4 147.4h.1M448.3 154.6h.1M438.6 153.7h.1M442.1 169.8h.1M452.8 156.4h.1M423.4 133.6h.1" stroke="#aab08c" stroke-width="0.8" stroke-linecap="round" fill="none"/>
<path d="M433.3 138.2h.1M432.8 145.0h.1M425.5 129.5h.1M442.3 164.9h.1M431.7 134.7h.1M415.9 131.7h.1M440.6 142.1h.1M426.8 136.5h.1M416.9 155.2h.1M422.5 133.4h.1M457.4 148.6h.1M450.5 135.1h.1M439.2 151.1h.1M452.8 158.8h.1M438.3 156.3h.1M455.6 135.8h.1M422.4 132.6h.1M414.1 137.5h.1M417.7 136.3h.1M445.2 169.4h.1M428.3 151.3h.1M417.5 151.2h.1M411.8 136.8h.1M448.8 169.9h.1M424.2 152.7h.1M411.3 140.7h.1M437.4 159.7h.1M408.0 128.8h.1M433.4 159.3h.1M423.6 142.9h.1M420.3 139.5h.1M416.5 148.6h.1M451.0 166.4h.1M442.4 145.0h.1M425.4 135.9h.1M448.5 174.6h.1M419.2 131.5h.1M429.1 148.9h.1M436.2 149.9h.1M430.2 134.6h.1M428.9 144.3h.1M455.8 140.1h.1M442.6 137.7h.1M439.9 151.7h.1M453.3 144.5h.1M429.2 132.5h.1M447.7 159.5h.1M438.5 155.6h.1M441.2 163.7h.1M427.5 152.8h.1M448.1 156.8h.1M451.9 137.3h.1M425.5 136.2h.1M455.8 157.9h.1M450.6 170.0h.1M427.5 149.1h.1M452.3 168.0h.1M443.5 131.6h.1M426.0 133.7h.1M442.7 166.2h.1M418.4 153.5h.1M431.0 152.3h.1M420.0 145.1h.1M438.4 145.5h.1M431.0 155.3h.1M438.3 158.9h.1M445.5 166.4h.1M419.0 151.3h.1M443.8 138.3h.1M431.5 148.2h.1M454.1 139.3h.1M422.2 131.6h.1M442.1 152.0h.1M418.6 131.6h.1M423.4 132.3h.1M438.4 134.4h.1M427.7 143.2h.1M449.2 169.9h.1M453.6 149.1h.1M450.8 175.1h.1M419.6 151.7h.1M440.9 161.3h.1M430.4 153.9h.1M437.2 138.9h.1M451.5 174.1h.1M420.0 134.1h.1M432.6 156.9h.1M434.0 156.2h.1M428.2 134.2h.1M439.8 148.4h.1M451.0 164.3h.1M449.9 138.8h.1M433.2 151.1h.1M454.5 159.8h.1M454.5 165.7h.1M425.5 132.2h.1M455.2 169.6h.1M451.1 149.9h.1M415.3 151.8h.1M446.7 139.7h.1M450.4 141.9h.1M449.2 153.9h.1M410.2 149.0h.1M438.8 138.6h.1M415.9 132.3h.1M435.7 133.0h.1M413.1 149.9h.1M451.4 150.2h.1M425.2 138.2h.1M422.0 146.3h.1M444.1 153.8h.1M448.6 160.8h.1M407.5 150.4h.1M439.8 137.0h.1M417.2 147.4h.1M430.4 131.1h.1M457.3 150.7h.1M438.1 131.7h.1M448.9 134.7h.1M415.6 143.5h.1M441.6 162.4h.1M444.6 154.1h.1M430.6 138.4h.1M450.5 141.3h.1M446.3 150.9h.1M407.8 146.9h.1M421.9 138.9h.1M430.4 137.9h.1M444.0 145.9h.1M425.3 150.6h.1M441.1 145.5h.1M451.1 142.2h.1M423.9 146.0h.1M432.1 128.4h.1M411.2 144.2h.1M446.4 136.8h.1M457.5 140.5h.1M445.2 171.8h.1M447.1 168.0h.1M440.1 141.7h.1M442.1 144.0h.1M429.0 139.3h.1M432.0 133.8h.1M443.8 155.6h.1M444.8 164.2h.1M407.7 131.1h.1M457.2 149.6h.1M424.0 141.4h.1M440.4 151.4h.1M441.8 154.2h.1M455.6 165.0h.1M430.0 131.5h.1M429.2 129.6h.1M446.2 137.9h.1M443.8 162.5h.1M410.2 131.1h.1M413.8 140.3h.1M442.0 137.8h.1M420.6 152.0h.1M454.0 161.4h.1M432.0 153.6h.1M418.4 131.3h.1M422.6 130.5h.1M422.4 128.0h.1M445.2 162.0h.1M436.7 141.7h.1M450.8 174.6h.1M419.1 145.4h.1M420.9 141.5h.1M449.1 152.2h.1" stroke="#a0a87e" stroke-width="0.8" stroke-linecap="round" fill="none"/>
<path d="M436.7 154.6h.1M452.7 143.1h.1M433.8 135.5h.1M436.1 160.9h.1M453.7 173.6h.1M449.3 149.5h.1M436.8 133.9h.1M444.1 131.7h.1M449.5 173.1h.1M412.0 151.6h.1M410.7 154.3h.1M442.2 135.7h.1M443.0 148.7h.1M448.2 163.8h.1M414.8 129.9h.1M416.0 130.8h.1M454.3 161.7h.1M430.3 149.0h.1M447.2 171.7h.1M428.6 143.3h.1M449.6 141.6h.1M447.9 136.4h.1M441.4 137.0h.1M439.9 146.9h.1M434.3 135.9h.1M438.4 165.6h.1M454.5 160.9h.1M426.0 144.0h.1M438.3 147.7h.1M450.8 169.1h.1M423.9 132.3h.1M436.4 159.9h.1M423.8 153.1h.1M453.3 136.3h.1M414.3 156.0h.1M427.4 144.3h.1M427.9 148.2h.1M437.3 157.6h.1M431.0 128.3h.1M415.6 142.5h.1M438.1 152.1h.1M440.0 166.9h.1M407.4 138.0h.1M448.3 154.4h.1M441.7 148.4h.1M415.3 137.6h.1M438.5 154.7h.1M442.0 172.1h.1M439.3 156.5h.1M441.9 141.7h.1M430.9 145.3h.1M405.4 147.9h.1M416.2 139.5h.1M429.7 129.7h.1M431.9 134.7h.1M424.1 142.2h.1M426.0 154.9h.1M432.6 140.6h.1M430.3 145.1h.1M451.9 147.2h.1M413.3 152.6h.1M416.0 138.6h.1M451.7 159.3h.1M434.1 137.6h.1M423.5 144.5h.1M447.1 172.9h.1M408.1 157.2h.1M450.3 162.8h.1M451.4 153.5h.1M441.3 149.2h.1M439.1 136.1h.1M449.3 133.7h.1M446.1 140.4h.1M434.7 159.4h.1M407.4 158.0h.1M436.9 162.0h.1M431.4 135.2h.1M434.0 157.9h.1M417.6 130.2h.1M442.8 153.2h.1M433.2 134.0h.1M446.9 172.3h.1M433.9 154.2h.1M449.4 146.8h.1M425.4 138.8h.1M439.7 158.9h.1M435.5 153.2h.1M438.6 152.1h.1M415.9 145.4h.1M421.4 155.7h.1M452.5 143.5h.1M442.8 146.1h.1M444.6 165.5h.1M443.1 166.7h.1M437.7 155.3h.1M450.4 143.0h.1M408.4 154.7h.1M430.7 131.1h.1M457.7 145.8h.1M429.2 147.1h.1M445.3 144.2h.1M421.2 137.7h.1M439.4 136.8h.1M443.0 150.0h.1M451.0 165.8h.1M441.5 152.7h.1M432.6 158.3h.1M416.0 129.5h.1M433.9 159.0h.1M451.0 134.0h.1M430.1 134.1h.1M413.3 153.7h.1M414.0 147.1h.1M441.9 143.0h.1M412.2 146.8h.1M442.8 169.4h.1M430.9 151.8h.1M439.6 135.4h.1M435.7 152.7h.1M405.3 156.2h.1M456.0 150.3h.1M436.7 138.4h.1M417.9 127.8h.1M456.5 147.0h.1M448.9 133.6h.1M406.9 149.4h.1M436.7 148.0h.1M409.4 133.8h.1M419.7 145.8h.1M425.0 143.1h.1M441.0 131.8h.1M450.4 165.1h.1M437.1 143.4h.1M415.1 134.4h.1M423.4 145.9h.1M431.5 131.0h.1M416.6 148.8h.1M431.6 149.3h.1M436.8 137.3h.1M433.3 133.4h.1M436.7 139.4h.1M430.6 136.6h.1M420.8 152.4h.1M413.8 144.3h.1M452.6 164.1h.1M409.6 131.1h.1M423.1 152.4h.1M440.4 153.7h.1M416.3 151.4h.1M411.2 153.2h.1M455.2 141.6h.1M437.8 138.0h.1M436.0 132.0h.1M444.1 132.9h.1M429.1 137.3h.1M448.0 149.1h.1M432.6 147.5h.1M432.6 130.8h.1M423.2 141.4h.1M443.9 168.1h.1M431.5 154.5h.1M425.4 128.5h.1M457.2 157.5h.1M426.1 131.3h.1M449.7 171.3h.1M435.2 130.0h.1M443.6 144.8h.1M441.3 149.1h.1M429.4 133.4h.1" stroke="#7f8a5c" stroke-width="0.8" stroke-linecap="round" fill="none"/>
<path d="M450.2 145.3h.1M454.3 167.0h.1M449.9 169.3h.1M456.7 146.5h.1M456.2 138.2h.1M452.2 168.9h.1M448.8 161.7h.1M449.2 165.7h.1M449.7 168.5h.1M454.4 137.9h.1M495.9 160.6h.1M497.2 178.8h.1M479.4 155.0h.1M479.0 163.5h.1M485.3 164.7h.1M494.1 177.7h.1M489.2 162.7h.1M481.2 168.0h.1M482.5 185.6h.1M474.8 171.4h.1M482.5 189.4h.1M490.1 188.5h.1M495.9 183.8h.1M489.1 161.6h.1M483.9 158.5h.1M484.3 152.6h.1M486.7 166.9h.1M493.7 190.8h.1M488.2 177.6h.1M489.4 162.0h.1M506.3 166.8h.1M470.8 179.0h.1M489.9 188.5h.1M482.9 153.7h.1M498.3 161.4h.1M473.6 163.5h.1M499.0 170.6h.1M487.2 178.5h.1M470.2 153.0h.1M484.2 162.6h.1M477.4 181.6h.1M477.9 178.9h.1M477.0 175.4h.1M477.2 176.8h.1M492.6 165.4h.1M501.3 183.5h.1M500.3 181.0h.1M485.4 167.5h.1M478.4 154.7h.1M493.4 155.1h.1M484.7 153.2h.1M486.6 173.0h.1M503.8 174.3h.1M490.1 176.3h.1M471.1 157.3h.1M505.0 163.0h.1M490.9 160.8h.1M505.9 166.9h.1M475.0 159.1h.1M480.4 157.0h.1M489.6 157.0h.1M499.7 154.9h.1M476.8 167.3h.1M471.4 170.3h.1M492.1 184.4h.1M494.2 179.6h.1M495.4 177.2h.1M483.3 179.0h.1M474.5 159.9h.1M484.3 166.5h.1M469.8 157.1h.1M493.2 167.7h.1M500.9 171.9h.1M471.0 159.7h.1M483.5 148.5h.1M475.9 186.7h.1M503.3 176.8h.1M469.8 161.2h.1M503.0 176.9h.1M479.8 168.2h.1M493.3 157.8h.1M485.2 187.9h.1M474.2 158.8h.1M475.4 152.2h.1M501.1 169.7h.1M481.6 163.2h.1M494.5 158.1h.1M500.6 157.5h.1M471.0 180.1h.1M495.9 183.1h.1M499.4 179.9h.1M498.9 174.6h.1M486.5 173.5h.1M490.7 160.1h.1M480.1 182.6h.1M499.5 166.3h.1M483.7 149.8h.1M487.8 187.0h.1M478.9 180.2h.1M498.6 176.5h.1M486.5 182.8h.1M477.2 182.8h.1M483.3 167.4h.1M497.1 167.7h.1M493.8 152.2h.1M487.0 155.1h.1M494.8 181.9h.1M481.0 163.6h.1M485.4 172.3h.1M467.8 172.5h.1M489.3 191.1h.1M489.8 189.2h.1M470.4 175.5h.1M480.1 189.0h.1M486.0 186.5h.1M500.7 164.4h.1M488.6 162.1h.1M481.9 160.2h.1M478.4 179.1h.1M487.8 161.1h.1M488.4 149.3h.1M492.9 179.7h.1M497.1 166.4h.1M482.8 179.8h.1M476.8 183.0h.1M504.4 170.1h.1M490.3 190.6h.1M494.1 169.0h.1M483.3 153.5h.1M507.1 177.2h.1M492.9 150.5h.1M482.1 169.7h.1M474.8 159.8h.1M473.5 177.2h.1M491.4 162.2h.1M475.0 168.8h.1M473.3 159.1h.1M496.6 173.0h.1M502.8 181.6h.1M481.1 155.0h.1M494.5 152.4h.1" stroke="#e8e8a8" stroke-width="0.8" stroke-linecap="round" fill="none"/>
<path d="M415.4 127.7h.1M442.5 135.5h.1M406.3 145.8h.1M433.3 130.8h.1M419.3 153.4h.1M443.1 163.0h.1M455.7 167.9h.1M416.4 136.3h.1M440.0 151.0h.1M435.8 136.9h.1M443.3 152.7h.1M424.3 137.2h.1M411.6 146.4h.1M427.7 155.9h.1M431.9 144.0h.1M454.2 152.4h.1M436.3 156.5h.1M410.6 154.1h.1M439.0 153.1h.1M421.9 154.5h.1M412.9 131.8h.1M432.4 134.5h.1M425.6 139.2h.1M440.2 143.8h.1M427.3 136.9h.1M444.6 160.4h.1M443.7 150.9h.1M428.0 130.8h.1M424.2 142.8h.1M431.0 153.1h.1M450.5 142.3h.1M436.9 147.9h.1M438.2 156.8h.1M454.0 135.5h.1M446.1 157.3h.1M428.4 130.1h.1M406.8 147.8h.1M419.4 133.2h.1M447.5 142.2h.1M437.9 131.8h.1M438.9 152.3h.1M443.8 161.3h.1M441.2 132.0h.1M440.0 155.2h.1M421.2 148.3h.1M445.5 134.0h.1M443.0 166.9h.1M429.7 144.8h.1M419.0 145.6h.1M445.8 160.4h.1M413.2 151.7h.1M422.6 151.0h.1M430.5 151.2h.1M457.4 160.9h.1M421.9 134.8h.1M439.0 145.0h.1M428.9 140.6h.1M422.3 155.7h.1M428.8 137.6h.1M451.3 139.3h.1M452.0 137.7h.1M441.2 150.0h.1M429.3 129.6h.1M455.9 155.6h.1M409.4 151.5h.1M453.9 138.9h.1M440.5 149.2h.1M445.8 133.8h.1M425.9 151.9h.1M450.2 149.2h.1M437.1 156.0h.1M454.3 143.7h.1M448.9 152.4h.1M451.5 136.8h.1M448.2 149.5h.1M442.7 163.7h.1M424.4 155.4h.1M434.0 129.0h.1M437.1 134.9h.1M444.9 140.8h.1M439.5 162.0h.1M429.3 131.8h.1M427.9 153.6h.1M426.1 152.2h.1M445.6 155.3h.1M445.4 144.3h.1M450.5 149.3h.1M416.2 136.2h.1M448.9 150.5h.1M436.2 160.4h.1M429.4 135.1h.1M424.3 149.2h.1M440.9 147.5h.1M431.2 151.5h.1M444.8 144.8h.1M438.6 157.7h.1M428.3 156.0h.1M418.1 146.4h.1M434.8 135.5h.1M426.6 139.1h.1M422.0 149.7h.1M456.9 150.1h.1M433.4 145.2h.1M440.1 159.0h.1M448.3 153.2h.1M453.9 166.3h.1M453.9 148.4h.1M426.1 140.5h.1M418.5 143.9h.1M437.7 149.7h.1M446.6 143.1h.1M430.1 136.1h.1M417.3 130.9h.1M449.5 161.4h.1M443.7 138.9h.1M450.8 139.6h.1M420.8 150.0h.1M444.5 132.6h.1M444.8 168.1h.1M437.6 140.3h.1M439.2 151.2h.1M426.6 128.4h.1M440.8 136.3h.1M453.4 162.0h.1M443.9 134.4h.1M412.0 141.9h.1M423.7 151.2h.1M423.7 154.4h.1M445.8 155.2h.1M417.9 148.6h.1M451.5 162.4h.1M447.1 145.2h.1M433.5 137.8h.1M435.3 137.6h.1M451.5 145.4h.1M453.7 169.1h.1M415.5 155.8h.1M445.9 153.9h.1M412.3 148.5h.1M451.0 136.8h.1M410.7 155.7h.1M446.0 167.6h.1M439.5 145.8h.1M458.4 152.0h.1M409.3 154.7h.1M427.4 136.1h.1M447.4 155.9h.1M428.5 146.4h.1M426.3 136.6h.1M430.1 145.6h.1M445.2 161.1h.1M451.0 163.8h.1M411.4 153.2h.1M431.6 131.0h.1M430.7 130.6h.1M411.8 138.0h.1M455.4 145.1h.1M417.7 138.4h.1M428.0 135.8h.1M430.9 133.8h.1M413.9 146.6h.1M456.9 143.2h.1M427.4 153.2h.1M438.9 165.7h.1M407.8 139.3h.1M451.4 166.5h.1M456.6 143.3h.1M450.6 153.5h.1M436.5 151.4h.1" stroke="#96a068" stroke-width="0.8" stroke-linecap="round" fill="none"/>
<path d="M448.4 151.8h.1M456.0 159.2h.1M448.6 154.3h.1M451.2 145.6h.1M457.2 148.1h.1M448.8 142.3h.1M451.6 155.0h.1M455.2 137.3h.1M448.9 151.0h.1M452.4 148.8h.1M450.9 138.6h.1M452.9 164.3h.1M454.8 156.1h.1M504.9 165.7h.1M478.0 179.1h.1M471.9 157.3h.1M487.6 187.2h.1M482.1 167.1h.1M487.2 150.5h.1M482.2 183.4h.1M481.6 188.2h.1M482.6 177.4h.1M493.7 176.0h.1M496.0 164.4h.1M495.0 166.6h.1M504.0 184.1h.1M491.9 168.0h.1M492.4 163.1h.1M486.9 172.7h.1M476.6 175.9h.1M471.3 160.5h.1M476.2 148.8h.1M493.4 174.1h.1M467.9 165.3h.1M498.9 153.3h.1M474.3 174.0h.1M475.1 179.2h.1M496.1 165.5h.1M481.1 186.5h.1M497.2 179.9h.1M501.0 176.3h.1M493.4 170.0h.1M487.7 169.1h.1M501.5 157.8h.1M497.2 159.5h.1M477.6 183.7h.1M470.2 164.8h.1M504.2 175.9h.1M472.0 166.5h.1M503.5 160.6h.1M503.1 169.9h.1M487.8 173.1h.1M490.7 188.4h.1M501.9 170.5h.1M490.2 180.1h.1M474.8 150.6h.1M497.3 163.7h.1M491.7 153.9h.1M490.0 188.1h.1M498.7 177.4h.1M477.5 169.0h.1M487.1 156.9h.1M482.5 160.5h.1M505.8 163.8h.1M484.4 186.0h.1M499.3 155.6h.1M490.6 163.7h.1M473.9 172.1h.1M479.2 187.1h.1M501.7 161.2h.1M477.6 179.3h.1M491.5 157.2h.1M472.4 165.7h.1M473.6 171.5h.1M506.2 163.9h.1M502.4 172.4h.1M495.2 174.0h.1M483.7 186.3h.1M490.8 160.0h.1M479.8 156.0h.1M478.7 181.5h.1M483.6 181.4h.1M501.1 177.4h.1M475.4 172.6h.1M503.5 163.7h.1M490.1 148.8h.1M489.8 191.1h.1M481.3 147.7h.1M480.9 174.2h.1M481.9 157.7h.1M483.9 171.6h.1M488.5 162.9h.1M491.0 152.5h.1M500.1 177.4h.1M472.5 171.6h.1M472.4 158.6h.1M471.0 157.0h.1M483.9 150.7h.1M488.1 183.5h.1M497.7 177.4h.1M487.8 190.4h.1M480.0 155.4h.1M471.7 176.5h.1M496.6 156.1h.1M477.7 149.2h.1M492.3 149.5h.1M498.8 164.8h.1M496.5 181.4h.1M483.9 186.5h.1M479.2 164.9h.1M490.9 188.5h.1M476.4 150.5h.1M494.6 187.4h.1M485.6 170.4h.1M499.4 156.1h.1M487.3 173.4h.1M506.1 167.4h.1M471.5 173.3h.1M471.2 179.7h.1M481.4 164.1h.1M478.7 183.1h.1M493.8 160.6h.1M494.1 154.2h.1M492.0 164.8h.1M483.3 156.8h.1M470.7 156.8h.1M493.0 183.0h.1M479.6 154.9h.1M477.5 182.3h.1M490.6 167.7h.1M472.9 179.8h.1M495.7 155.2h.1M488.6 167.3h.1M476.8 178.6h.1M483.3 167.9h.1M480.3 157.5h.1M479.9 159.5h.1M475.2 185.9h.1M483.0 172.2h.1M500.8 177.3h.1M481.0 184.0h.1M483.0 178.2h.1M488.0 166.9h.1M499.8 157.3h.1M477.6 181.4h.1M470.2 163.9h.1M493.5 153.7h.1M490.2 155.8h.1M488.3 190.3h.1M471.1 169.8h.1M498.2 182.2h.1M497.6 177.4h.1M472.7 165.5h.1M483.0 157.1h.1M492.0 164.9h.1M500.3 173.0h.1M502.4 179.1h.1M473.1 169.5h.1M482.6 187.0h.1M488.6 155.5h.1M489.4 187.3h.1M473.0 179.9h.1M492.1 186.3h.1M481.3 167.9h.1M500.8 158.8h.1M481.5 154.1h.1M474.6 152.0h.1M489.0 162.9h.1M488.0 152.2h.1M502.0 173.5h.1M470.9 153.7h.1M500.6 167.3h.1M470.7 178.5h.1M473.3 168.7h.1M494.4 179.8h.1M480.8 149.9h.1M486.0 187.7h.1" stroke="#e2e396" stroke-width="0.8" stroke-linecap="round" fill="none"/>
<path d="M454.1 172.8h.1M448.2 169.8h.1M451.8 149.0h.1M448.8 166.8h.1M456.9 141.5h.1M454.1 140.0h.1M456.0 171.2h.1M454.6 144.2h.1M455.7 159.5h.1M450.7 153.4h.1M453.0 159.0h.1M456.0 143.2h.1M454.2 146.3h.1M453.2 151.4h.1M454.8 165.8h.1M448.2 140.3h.1M448.7 167.7h.1M475.2 159.3h.1M503.7 183.0h.1M471.6 172.8h.1M493.1 158.8h.1M472.1 165.9h.1M490.2 164.7h.1M480.0 181.1h.1M492.4 187.0h.1M469.4 161.7h.1M471.7 160.2h.1M500.6 159.6h.1M484.9 183.7h.1M489.4 163.0h.1M487.8 168.2h.1M501.7 176.3h.1M489.0 179.3h.1M498.2 185.9h.1M483.0 178.3h.1M473.4 152.9h.1M491.7 158.1h.1M495.6 153.4h.1M496.3 176.8h.1M483.4 182.1h.1M484.3 168.2h.1M485.5 180.1h.1M489.9 189.8h.1M478.2 165.2h.1M475.1 171.2h.1M476.9 183.2h.1M485.9 190.6h.1M494.1 162.2h.1M493.3 166.0h.1M497.3 172.7h.1M496.1 164.7h.1M484.7 188.7h.1M492.5 176.0h.1M494.9 156.9h.1M483.0 178.0h.1M504.8 166.6h.1M473.4 157.9h.1M482.6 178.8h.1M476.5 174.3h.1M484.6 153.6h.1M475.9 153.6h.1M478.3 185.8h.1M473.3 166.1h.1M499.7 185.9h.1M490.9 160.5h.1M471.8 178.7h.1M490.4 159.4h.1M489.7 149.4h.1M491.7 183.9h.1M468.3 166.3h.1M489.7 181.5h.1M499.2 157.3h.1M469.4 171.1h.1M496.2 178.0h.1M482.5 152.7h.1M501.1 185.7h.1M485.0 184.1h.1M491.0 187.9h.1M474.4 159.6h.1M503.4 159.0h.1M504.2 182.8h.1M482.6 187.5h.1M479.2 152.2h.1M489.8 165.7h.1M471.6 171.8h.1M484.6 190.4h.1M489.1 171.7h.1M500.9 170.5h.1M475.1 156.9h.1M482.7 157.4h.1M471.6 159.3h.1M504.0 173.3h.1M492.8 150.1h.1M467.6 160.1h.1M484.5 174.3h.1M505.6 170.8h.1M485.2 158.8h.1M487.2 172.7h.1M486.8 177.2h.1M484.4 173.4h.1M469.7 169.8h.1M505.4 178.6h.1M485.8 158.9h.1M472.9 175.9h.1M496.4 151.3h.1M491.4 165.8h.1M481.9 189.5h.1M500.2 160.0h.1M477.2 186.0h.1M485.8 172.6h.1M489.1 162.7h.1M499.2 166.6h.1M497.9 155.7h.1M500.4 174.1h.1M483.7 178.5h.1M494.1 189.0h.1M507.1 170.2h.1M482.0 187.4h.1M493.1 162.5h.1M476.3 168.2h.1M484.0 190.3h.1M483.8 157.4h.1M473.8 168.3h.1M489.0 178.4h.1M495.0 166.1h.1M502.9 159.8h.1M478.2 152.3h.1M478.8 160.2h.1M475.1 149.9h.1M479.2 173.0h.1M485.7 159.1h.1M486.2 171.7h.1M480.7 173.8h.1M470.9 165.0h.1M491.5 174.1h.1M490.6 159.2h.1M473.6 179.3h.1M501.1 160.3h.1M477.6 177.8h.1M477.5 166.3h.1M495.5 163.8h.1M478.1 170.7h.1M477.8 168.8h.1M504.4 159.5h.1M484.5 158.0h.1M474.1 166.1h.1M471.0 169.6h.1M472.8 175.3h.1M467.9 170.8h.1M501.1 177.7h.1M490.1 174.8h.1M498.9 175.6h.1M497.8 183.0h.1" stroke="#cfd06a" stroke-width="0.8" stroke-linecap="round" fill="none"/>
<path d="M450.1 135.3h.1M448.2 175.1h.1M452.2 147.6h.1M454.3 136.9h.1M448.2 165.8h.1M457.3 161.7h.1M456.5 163.6h.1M455.8 149.5h.1M457.8 141.0h.1M453.2 168.7h.1M449.8 150.1h.1M453.6 142.6h.1M456.3 151.5h.1M487.6 167.0h.1M468.8 157.5h.1M498.2 167.7h.1M489.4 190.8h.1M467.6 165.1h.1M489.4 149.9h.1M491.3 159.4h.1M483.2 168.0h.1M494.9 175.1h.1M503.9 181.7h.1M502.6 159.0h.1M478.6 187.7h.1M490.7 162.5h.1M490.7 174.7h.1M495.3 184.5h.1M488.0 149.5h.1M498.0 183.3h.1M491.6 185.0h.1M475.2 177.1h.1M486.6 179.0h.1M485.5 156.3h.1M469.4 173.1h.1M501.4 169.8h.1M479.4 150.2h.1M486.2 187.9h.1M485.4 154.3h.1M476.2 160.0h.1M484.7 167.0h.1M480.1 171.2h.1M501.6 172.0h.1M480.8 148.1h.1M485.3 181.4h.1M486.4 179.2h.1M488.6 180.2h.1M508.0 172.5h.1M490.4 152.0h.1M479.1 173.7h.1M477.5 161.0h.1M484.0 181.1h.1M497.5 174.5h.1M481.6 155.9h.1M496.6 158.9h.1M489.7 153.7h.1M494.2 171.5h.1M496.0 163.8h.1M498.8 166.5h.1M473.8 157.6h.1M505.4 178.4h.1M501.6 166.1h.1M485.4 151.6h.1M489.4 171.7h.1M476.2 158.9h.1M505.1 163.0h.1M480.0 174.1h.1M491.8 175.0h.1M499.1 152.6h.1M490.1 166.6h.1M474.1 168.6h.1M496.7 182.5h.1M504.1 170.3h.1M497.1 155.9h.1M473.1 170.4h.1M473.6 173.7h.1M481.9 164.9h.1M479.2 178.0h.1M491.9 162.3h.1M469.8 174.0h.1M485.3 167.2h.1M486.7 174.7h.1M483.4 186.1h.1M490.7 162.4h.1M479.7 163.9h.1M471.2 160.0h.1M469.2 165.8h.1M498.5 167.4h.1M493.1 166.4h.1M478.4 180.4h.1M495.4 181.9h.1M492.9 186.8h.1M485.3 162.4h.1M491.5 176.8h.1M487.3 169.2h.1M494.7 173.9h.1M484.6 166.3h.1M487.2 148.6h.1M505.3 170.9h.1M478.3 148.9h.1M497.0 185.3h.1M504.6 182.7h.1M506.4 164.3h.1M488.3 161.6h.1M504.7 169.0h.1M482.2 177.9h.1M498.1 177.7h.1M472.7 158.1h.1M487.5 184.2h.1M497.9 176.8h.1M499.1 183.9h.1M495.6 169.7h.1M498.2 164.4h.1M478.9 149.5h.1M491.9 158.5h.1M495.2 173.2h.1M476.1 177.9h.1M480.3 152.1h.1M492.2 162.7h.1M484.1 164.3h.1M505.0 163.6h.1M489.6 177.1h.1M497.1 168.8h.1M472.3 168.2h.1M489.1 169.5h.1M496.0 164.3h.1M483.9 162.6h.1M499.9 184.3h.1M471.0 151.0h.1M494.4 160.1h.1M491.3 152.3h.1M493.8 181.8h.1M507.0 166.6h.1M492.4 172.3h.1M478.5 187.9h.1M484.5 153.7h.1M473.2 156.6h.1M487.5 180.9h.1M482.7 184.7h.1M502.0 182.6h.1M474.5 159.6h.1M503.1 166.4h.1" stroke="#d9da80" stroke-width="0.8" stroke-linecap="round" fill="none"/>
<path d="M468.1 146.0h.1M459.7 159.1h.1M465.9 163.8h.1M470.3 144.9h.1M463.3 162.1h.1M471.6 148.6h.1M464.9 172.9h.1M461.4 139.3h.1M460.3 148.9h.1M461.3 155.8h.1M460.3 159.0h.1M462.6 164.2h.1M467.5 152.0h.1M466.5 156.9h.1M466.9 152.8h.1M459.1 172.4h.1M462.4 159.0h.1M460.0 148.7h.1M465.5 150.8h.1M475.3 147.4h.1M465.1 164.7h.1M468.1 146.4h.1M461.8 173.8h.1M461.8 170.9h.1M469.6 143.3h.1M463.9 162.1h.1" stroke="#e4e4a0" stroke-width="0.8" stroke-linecap="round" fill="none"/>
<path d="M463.0 149.5h.1M462.0 167.7h.1M466.0 164.0h.1M459.8 150.7h.1M459.7 146.9h.1M460.5 146.8h.1M457.3 137.3h.1M461.4 140.6h.1M463.7 148.0h.1M465.7 149.2h.1M467.5 168.5h.1M461.1 155.5h.1M464.7 142.9h.1M459.4 140.7h.1M465.4 152.2h.1M467.2 158.6h.1M466.7 150.9h.1M461.8 173.2h.1M468.3 147.8h.1M473.2 144.7h.1M461.7 152.6h.1M460.3 162.0h.1M464.2 170.8h.1M472.1 146.3h.1M461.4 156.4h.1M468.0 144.2h.1M465.8 143.3h.1M468.5 149.5h.1M464.4 140.6h.1M464.7 143.5h.1M462.7 168.4h.1M463.3 142.2h.1" stroke="#dcdc88" stroke-width="0.8" stroke-linecap="round" fill="none"/>
<path d="M460.0 146.1h.1M458.6 143.4h.1M467.0 161.4h.1M462.5 162.2h.1M460.6 139.1h.1M461.2 161.6h.1M467.1 143.9h.1M468.8 147.5h.1M463.5 153.8h.1M459.9 155.5h.1M463.1 154.1h.1M467.9 158.3h.1M464.2 162.7h.1M460.1 160.9h.1M458.6 160.8h.1M473.9 148.3h.1M461.4 140.9h.1M464.2 147.1h.1M464.9 140.5h.1M469.8 144.9h.1M473.9 148.1h.1M458.8 157.8h.1M471.0 148.6h.1M458.9 155.2h.1M466.0 170.7h.1" stroke="#c8cc78" stroke-width="0.8" stroke-linecap="round" fill="none"/>
<path d="M463.8 165.7h.1M473.6 147.2h.1M468.2 151.5h.1M464.7 145.4h.1M460.0 138.5h.1M467.3 141.8h.1M461.2 162.7h.1M460.9 145.5h.1M459.5 154.8h.1M465.0 140.0h.1M471.6 144.6h.1M457.3 171.4h.1M465.3 157.2h.1M471.2 148.1h.1M462.4 172.8h.1M468.9 151.2h.1M464.9 165.1h.1M460.8 162.1h.1M462.9 144.3h.1M468.1 153.5h.1M466.0 157.2h.1M461.0 148.5h.1M462.0 149.4h.1M461.3 160.9h.1M459.4 170.6h.1M462.8 157.9h.1M469.7 148.3h.1" stroke="#b8c080" stroke-width="0.8" stroke-linecap="round" fill="none"/>
<path d="M385.0 207.2h.1M380.8 179.2h.1M376.6 185.3h.1M379.0 213.5h.1M379.9 186.0h.1M382.0 209.3h.1M373.5 183.8h.1M383.5 195.3h.1M397.4 215.2h.1M378.1 176.7h.1M403.3 217.5h.1M379.1 180.1h.1M389.3 197.3h.1M385.3 194.3h.1M381.6 179.9h.1M383.9 182.0h.1M385.3 219.0h.1M391.3 218.4h.1M403.9 209.9h.1M376.5 209.3h.1M404.1 218.6h.1M372.1 186.9h.1M377.0 197.2h.1M371.3 176.8h.1M365.7 175.0h.1M376.7 195.6h.1M385.0 180.7h.1M375.1 193.7h.1M385.4 200.6h.1M373.3 192.4h.1M404.3 203.6h.1M371.1 184.8h.1M372.9 204.1h.1M392.4 220.9h.1M401.1 214.8h.1M374.9 206.1h.1M386.4 196.3h.1M383.8 204.9h.1M394.9 221.7h.1M372.1 188.6h.1M404.5 207.8h.1M372.3 191.0h.1M378.2 176.3h.1M395.9 218.0h.1M384.4 205.7h.1M382.4 188.2h.1M375.3 181.7h.1M378.4 212.2h.1M402.4 214.6h.1M379.0 176.4h.1M375.6 198.4h.1M397.0 200.1h.1M379.5 212.8h.1M383.4 200.3h.1M385.8 216.3h.1M368.6 185.0h.1M371.6 189.6h.1M390.7 198.5h.1M400.0 202.7h.1M402.7 202.3h.1M374.6 195.6h.1M406.6 209.3h.1M385.9 178.3h.1M378.6 207.7h.1M383.9 208.1h.1M377.6 178.2h.1M374.0 196.2h.1M384.2 200.0h.1M383.1 175.5h.1M370.7 196.7h.1M390.6 219.6h.1M381.4 214.9h.1M384.0 176.9h.1M380.4 189.3h.1" stroke="#bfc47a" stroke-width="0.8" stroke-linecap="round" fill="none"/>
<path d="M370.3 177.1h.1M381.0 184.8h.1M376.1 180.5h.1M396.4 218.8h.1M374.0 180.3h.1M402.0 214.5h.1M377.6 180.9h.1M370.4 192.1h.1M386.9 198.0h.1M372.9 193.0h.1M382.6 198.7h.1M388.9 216.4h.1M385.9 186.0h.1M396.4 202.5h.1M379.5 186.1h.1M368.3 176.6h.1M397.6 201.3h.1M388.3 199.7h.1M380.7 210.8h.1M368.8 181.8h.1M384.0 208.5h.1M369.9 180.7h.1M394.8 220.4h.1M379.2 183.2h.1M375.5 192.4h.1M391.3 216.7h.1M369.7 174.5h.1M390.4 201.8h.1M399.5 200.2h.1M385.5 194.0h.1M382.8 175.6h.1M387.1 175.8h.1M381.4 203.8h.1M381.8 185.4h.1M394.4 215.9h.1M387.5 213.2h.1M378.2 176.5h.1M384.8 180.8h.1M406.6 217.1h.1M373.6 205.4h.1M370.9 186.2h.1M370.1 180.5h.1M403.2 201.1h.1M396.7 201.3h.1M381.4 212.9h.1M380.5 198.8h.1M377.6 200.8h.1M378.6 190.4h.1M386.1 175.2h.1M375.7 185.6h.1M388.0 197.5h.1M371.7 184.7h.1M408.3 209.8h.1M396.6 219.4h.1M405.4 208.3h.1M381.0 204.2h.1M386.8 216.7h.1M370.7 188.3h.1M391.6 219.1h.1M407.6 212.2h.1M371.7 184.6h.1M378.8 189.3h.1M376.0 184.9h.1" stroke="#ccd08a" stroke-width="0.8" stroke-linecap="round" fill="none"/>
<path d="M408.0 209.3h.1M384.4 194.9h.1M379.7 212.7h.1M369.5 188.4h.1M381.5 192.9h.1M374.0 189.1h.1M402.1 220.8h.1M385.6 200.3h.1M405.3 211.4h.1M398.9 200.4h.1M390.6 215.7h.1M379.8 179.7h.1M402.0 219.7h.1M367.4 182.1h.1M369.3 177.3h.1M375.0 195.2h.1M379.2 201.8h.1M378.9 200.3h.1M378.3 192.3h.1M384.2 183.7h.1M381.6 187.2h.1M400.2 202.1h.1M385.4 199.2h.1M389.4 201.4h.1M397.2 217.6h.1M389.0 200.1h.1M371.7 174.7h.1M398.8 202.4h.1M373.3 184.1h.1M367.4 183.5h.1M368.1 191.7h.1M373.9 192.9h.1M386.7 214.7h.1M381.7 208.7h.1M396.1 202.1h.1M377.6 175.2h.1M372.1 194.7h.1M376.2 198.0h.1M378.5 190.5h.1M401.2 203.2h.1M378.1 187.1h.1M381.2 193.8h.1M374.1 197.7h.1M378.0 195.2h.1M392.3 215.3h.1M370.3 183.3h.1M377.2 200.3h.1M375.1 178.1h.1M370.7 191.4h.1M384.4 202.8h.1M374.8 191.7h.1M371.6 183.7h.1M406.2 217.1h.1M376.1 205.2h.1M383.3 176.1h.1" stroke="#d8db9c" stroke-width="0.8" stroke-linecap="round" fill="none"/>
<path d="M369.2 181.2h.1M379.4 182.4h.1M373.8 177.7h.1M372.3 177.9h.1M405.1 217.4h.1M378.4 177.6h.1M374.8 198.0h.1M400.1 201.4h.1M406.3 216.0h.1M394.0 199.6h.1M369.5 184.5h.1M402.2 213.0h.1M375.0 196.8h.1M403.2 205.1h.1M402.5 204.7h.1M383.7 183.5h.1M400.6 218.3h.1M388.6 213.3h.1M382.6 193.1h.1M402.3 219.6h.1M400.9 213.5h.1M369.9 183.6h.1M405.4 211.4h.1M389.8 219.4h.1M377.5 206.3h.1M387.0 217.9h.1M385.6 209.7h.1M378.2 188.6h.1M378.1 191.0h.1M402.8 216.7h.1M378.5 180.6h.1M405.4 212.5h.1M373.4 184.8h.1M382.7 203.5h.1M386.4 176.2h.1M367.1 182.8h.1M404.2 218.1h.1M374.9 186.4h.1M376.2 201.9h.1M378.9 182.1h.1M383.2 201.8h.1M374.7 189.7h.1M385.8 176.7h.1M375.3 180.7h.1M378.2 188.4h.1M383.9 198.5h.1M367.4 186.1h.1M400.1 219.5h.1M373.7 204.9h.1M382.5 174.2h.1M381.6 188.0h.1M369.6 183.1h.1M377.9 176.8h.1M381.7 217.2h.1M371.4 181.5h.1M379.0 205.3h.1M382.0 216.0h.1M377.6 190.7h.1" stroke="#c4cc8a" stroke-width="0.8" stroke-linecap="round" fill="none"/>
<path d="M407.6 210.5h.1M404.3 219.7h.1M407.6 213.1h.1M407.6 212.9h.1M405.7 217.4h.1M406.3 217.2h.1M403.0 219.4h.1M403.2 216.6h.1M408.9 211.7h.1M405.5 209.7h.1" stroke="#9a8a7a" stroke-width="0.8" stroke-linecap="round" fill="none"/>
<path d="M403.1 219.6h.1M408.5 213.3h.1M406.6 219.0h.1M408.3 209.8h.1M407.7 216.5h.1M405.4 219.5h.1M406.3 212.8h.1M408.2 213.2h.1" stroke="#b0a090" stroke-width="0.8" stroke-linecap="round" fill="none"/>
<path d="M452.2 177.1h.1M459.0 180.6h.1M447.3 176.9h.1M461.4 180.0h.1M451.0 177.3h.1M454.7 184.5h.1M452.1 180.1h.1M458.0 178.6h.1" stroke="#dccb80" stroke-width="0.8" stroke-linecap="round" fill="none"/>
<path d="M459.5 181.6h.1M447.8 179.6h.1M452.2 176.4h.1M458.2 184.9h.1M460.7 179.5h.1M456.7 183.1h.1M452.0 182.2h.1M452.6 179.4h.1M460.6 184.6h.1M458.3 183.8h.1M449.6 177.8h.1M449.6 178.6h.1M452.3 181.9h.1M458.4 184.5h.1" stroke="#d0bc70" stroke-width="0.8" stroke-linecap="round" fill="none"/>
<rect x="356.30" y="151.70" width="25.40" height="10.30" rx="1.6" fill="#2b8a3a" stroke="#2b8a3a" stroke-width="0.4"/>
<text x="369.00" y="159.45" font-size="7.4" fill="#f2f4e8" text-anchor="middle" textLength="19.60" lengthAdjust="spacingAndGlyphs">iMGL1</text>
<rect x="430.70" y="138.20" width="24.70" height="10.30" rx="1.6" fill="#5f6d25" stroke="#5f6d25" stroke-width="0.4"/>
<text x="443.05" y="145.95" font-size="7.4" fill="#f2f4e8" text-anchor="middle" textLength="19.60" lengthAdjust="spacingAndGlyphs">iMGL2</text>
<rect x="476.20" y="159.40" width="25.30" height="10.50" rx="1.6" fill="#bcc22a" stroke="#bcc22a" stroke-width="0.4"/>
<text x="488.85" y="167.25" font-size="7.4" fill="#f2f4e8" text-anchor="middle" textLength="19.60" lengthAdjust="spacingAndGlyphs">iMGL3</text>
<rect x="364.40" y="195.80" width="25.40" height="10.40" rx="1.6" fill="#8e9a2a" stroke="#8e9a2a" stroke-width="0.4"/>
<text x="377.10" y="203.60" font-size="7.4" fill="#f2f4e8" text-anchor="middle" textLength="19.60" lengthAdjust="spacingAndGlyphs">iMGL4</text>
<rect x="407.80" y="202.90" width="25.80" height="10.00" rx="1.6" fill="#76645a" stroke="#76645a" stroke-width="0.4"/>
<text x="420.70" y="210.50" font-size="7.4" fill="#f2f4e8" text-anchor="middle" textLength="19.60" lengthAdjust="spacingAndGlyphs">iMGL5</text>
<rect x="416.20" y="175.50" width="24.90" height="9.90" rx="1.6" fill="#c29a3e" stroke="#c29a3e" stroke-width="0.4"/>
<text x="428.65" y="183.05" font-size="7.4" fill="#f2f4e8" text-anchor="middle" textLength="19.60" lengthAdjust="spacingAndGlyphs">iMGL6</text>
<line x1="337.60" y1="203.20" x2="337.60" y2="226.60" stroke="#222" stroke-width="1.0"/>
<line x1="337.10" y1="226.10" x2="361.60" y2="226.10" stroke="#222" stroke-width="1.0"/>
<text x="332.80" y="214.00" font-size="7.0" fill="#3a3a3a" text-anchor="middle" textLength="19.70" lengthAdjust="spacingAndGlyphs" transform="rotate(-90 332.80 214.00)" stroke="#3a3a3a" stroke-width="0.15">UMAP2</text>
<text x="349.50" y="235.80" font-size="7.0" fill="#3a3a3a" text-anchor="middle" textLength="19.20" lengthAdjust="spacingAndGlyphs" stroke="#3a3a3a" stroke-width="0.15">UMAP1</text>
<rect x="325.50" y="254.70" width="2.00" height="7.90" fill="#111"/>
<line x1="355.10" y1="269.60" x2="355.10" y2="361.60" stroke="#777" stroke-width="1.1"/>
<line x1="355.10" y1="361.60" x2="398.00" y2="361.60" stroke="#333" stroke-width="1.1"/>
<line x1="352.60" y1="361.60" x2="355.10" y2="361.60" stroke="#777" stroke-width="0.8"/>
<text x="348.60" y="363.60" font-size="7.2" text-anchor="end" textLength="8.60" lengthAdjust="spacingAndGlyphs" stroke="#333" stroke-width="0.1">0%</text>
<line x1="352.60" y1="339.70" x2="355.10" y2="339.70" stroke="#777" stroke-width="0.8"/>
<text x="348.60" y="341.70" font-size="7.2" text-anchor="end" textLength="12.30" lengthAdjust="spacingAndGlyphs" stroke="#333" stroke-width="0.1">25%</text>
<line x1="352.60" y1="317.80" x2="355.10" y2="317.80" stroke="#777" stroke-width="0.8"/>
<text x="348.60" y="319.80" font-size="7.2" text-anchor="end" textLength="12.30" lengthAdjust="spacingAndGlyphs" stroke="#333" stroke-width="0.1">50%</text>
<line x1="352.60" y1="295.90" x2="355.10" y2="295.90" stroke="#777" stroke-width="0.8"/>
<text x="348.60" y="297.90" font-size="7.2" text-anchor="end" textLength="12.30" lengthAdjust="spacingAndGlyphs" stroke="#333" stroke-width="0.1">75%</text>
<line x1="352.60" y1="274.00" x2="355.10" y2="274.00" stroke="#777" stroke-width="0.8"/>
<text x="348.60" y="276.00" font-size="7.2" text-anchor="end" textLength="15.40" lengthAdjust="spacingAndGlyphs" stroke="#333" stroke-width="0.1">100%</text>
<rect x="358.20" y="274.00" width="15.50" height="14.10" fill="#2a7d2e"/>
<rect x="358.20" y="288.10" width="15.50" height="22.20" fill="#6e7424"/>
<rect x="358.20" y="310.30" width="15.50" height="38.00" fill="#c9c62f"/>
<rect x="358.20" y="348.30" width="15.50" height="10.30" fill="#8f8f2c"/>
<rect x="358.20" y="358.60" width="15.50" height="1.50" fill="#6e6048"/>
<rect x="358.20" y="360.10" width="15.50" height="1.50" fill="#a89464"/>
<text x="365.95" y="283.25" font-size="6.6" fill="#eef2d8" text-anchor="middle" textLength="12.40" lengthAdjust="spacingAndGlyphs">18%</text>
<text x="365.95" y="301.40" font-size="6.6" fill="#eef2d8" text-anchor="middle" textLength="12.40" lengthAdjust="spacingAndGlyphs">24%</text>
<text x="365.95" y="331.50" font-size="6.6" fill="#f2f2b0" text-anchor="middle" textLength="12.40" lengthAdjust="spacingAndGlyphs">43%</text>
<text x="365.95" y="355.65" font-size="6.6" fill="#eef2d8" text-anchor="middle" textLength="12.40" lengthAdjust="spacingAndGlyphs">12%</text>
<rect x="378.40" y="274.00" width="15.30" height="39.90" fill="#2a7d2e"/>
<rect x="378.40" y="313.90" width="15.30" height="25.10" fill="#6e7424"/>
<rect x="378.40" y="339.00" width="15.30" height="9.80" fill="#c9c62f"/>
<rect x="378.40" y="348.80" width="15.30" height="9.60" fill="#8f8f2c"/>
<rect x="378.40" y="358.40" width="15.30" height="1.60" fill="#6e6048"/>
<rect x="378.40" y="360.00" width="15.30" height="1.60" fill="#a89464"/>
<text x="386.05" y="296.15" font-size="6.6" fill="#eef2d8" text-anchor="middle" textLength="12.40" lengthAdjust="spacingAndGlyphs">46%</text>
<text x="386.05" y="328.65" font-size="6.6" fill="#eef2d8" text-anchor="middle" textLength="12.40" lengthAdjust="spacingAndGlyphs">28%</text>
<text x="386.05" y="346.10" font-size="6.6" fill="#f2f2b0" text-anchor="middle" textLength="12.40" lengthAdjust="spacingAndGlyphs">13%</text>
<text x="386.05" y="355.80" font-size="6.6" fill="#eef2d8" text-anchor="middle" textLength="8.60" lengthAdjust="spacingAndGlyphs">9%</text>
<line x1="366.00" y1="361.60" x2="366.00" y2="363.80" stroke="#333" stroke-width="0.8"/>
<line x1="386.00" y1="361.60" x2="386.00" y2="363.80" stroke="#333" stroke-width="0.8"/>
<text x="365.90" y="374.30" font-size="7.4" text-anchor="middle">WT</text>
<text x="386.00" y="374.30" font-size="7.4" text-anchor="middle" textLength="18.50" lengthAdjust="spacingAndGlyphs">V600E</text>
<rect x="399.80" y="292.20" width="3.20" height="3.20" fill="#2a7d2e"/>
<text x="405.90" y="296.20" font-size="6.6" textLength="18.90" lengthAdjust="spacingAndGlyphs">iMGL1</text>
<rect x="399.80" y="300.58" width="3.20" height="3.20" fill="#6e7424"/>
<text x="405.90" y="304.58" font-size="6.6" textLength="18.90" lengthAdjust="spacingAndGlyphs">iMGL2</text>
<rect x="399.80" y="308.96" width="3.20" height="3.20" fill="#c9c62f"/>
<text x="405.90" y="312.96" font-size="6.6" textLength="18.90" lengthAdjust="spacingAndGlyphs">iMGL3</text>
<rect x="399.80" y="317.34" width="3.20" height="3.20" fill="#8f8f2c"/>
<text x="405.90" y="321.34" font-size="6.6" textLength="18.90" lengthAdjust="spacingAndGlyphs">iMGL4</text>
<rect x="399.80" y="325.72" width="3.20" height="3.20" fill="#6e6048"/>
<text x="405.90" y="329.72" font-size="6.6" textLength="18.90" lengthAdjust="spacingAndGlyphs">iMGL5</text>
<rect x="399.80" y="334.10" width="3.20" height="3.20" fill="#a89464"/>
<text x="405.90" y="338.10" font-size="6.6" textLength="18.90" lengthAdjust="spacingAndGlyphs">iMGL6</text>
<text x="6.00" y="371.70" font-size="11.8" fill="#111" font-weight="bold">J</text>
<text x="86.70" y="375.60" font-size="6.8" textLength="44.00" lengthAdjust="spacingAndGlyphs">Microglia score</text>
<path d="M23.5 421.4L27.0 413.1L33.1 403.3L43.2 396.4L52.3 394.5L62.4 394.0L75.5 393.4L90.7 392.5L86.6 402.9L85.6 412.1L87.2 417.5L81.6 422.3L75.5 432.1L71.5 436.3L62.4 436.3L50.3 435.3L40.2 433.5L29.1 431.2Z" fill="#f6c4bc" opacity="0.85" fill-rule="evenodd" filter='url(#soft)'/>
<path d="M90.7 392.0L97.7 391.3L110.9 391.3L123.0 393.1L133.1 395.4L140.2 399.1L142.2 410.3L141.2 421.4L139.1 432.6L135.1 435.3L129.0 436.3L125.0 433.0L122.0 427.9L117.9 422.8L112.9 419.1L104.8 417.7L96.7 418.2L89.7 420.0L87.2 417.5L85.6 412.1L86.6 402.9Z" fill="#ecc4de" opacity="0.8" fill-rule="evenodd" filter='url(#soft)'/>
<path d="M154.3 412.1L165.4 409.8L175.5 411.2L183.6 414.9L188.6 420.5L192.2 428.8L191.2 438.1L186.6 445.5L178.5 450.2L168.4 450.6L160.4 447.4L154.3 440.9L150.8 432.6L150.8 421.4Z" fill="#e2c4e8" opacity="0.8" fill-rule="evenodd" filter='url(#soft)'/>
<path d="M140.2 399.1L149.2 402.9L159.3 408.0L165.4 409.8L154.3 412.1L150.8 421.4L150.8 432.6L145.2 435.3L139.1 432.6L141.2 421.4L142.2 410.3Z" fill="#eacce6" opacity="0.7" fill-rule="evenodd" filter='url(#soft)'/>
<path d="M47.2 434.4L76.5 432.6L74.5 441.8L71.5 453.0L78.5 457.6L88.6 460.4L92.7 466.4L92.0 473.4L87.6 478.7L77.5 479.4L67.4 477.1L61.0 466.0L53.5 455.0L50.3 443.7ZM76.0 468.7L78.0 474.3L83.6 475.7L88.1 473.4L88.1 466.0L83.6 462.7L76.5 463.6Z" fill="#f0c4d2" opacity="0.75" fill-rule="evenodd" filter='url(#soft)'/>
<path d="M84.6 469.7L90.7 466.0L92.7 471.5L90.7 477.1L85.6 478.0Z" fill="#f3d0d0" opacity="0.5" fill-rule="evenodd" filter='url(#soft)'/>
<path d="M129.0 437.2L135.1 436.3L141.2 437.2L145.2 440.0L144.2 444.6L138.1 444.6L131.1 442.8Z" fill="#eed8e8" opacity="0.5" fill-rule="evenodd" filter='url(#soft)'/>
<g opacity="0.82">
<path d="M63.1 412.1h.1M81.0 398.0h.1M63.9 421.9h.1M70.4 400.9h.1M66.2 400.0h.1M45.6 408.8h.1M59.2 396.7h.1M65.4 403.4h.1M46.0 424.2h.1M51.8 405.5h.1M48.0 429.0h.1M29.6 418.3h.1M59.0 394.2h.1M62.2 404.6h.1M73.6 410.0h.1M36.0 404.4h.1M45.5 401.5h.1M66.1 425.2h.1M32.2 405.4h.1M66.7 399.6h.1M45.1 408.8h.1M38.5 401.8h.1M46.2 433.6h.1M64.9 415.0h.1M66.4 412.3h.1M72.8 406.3h.1M68.4 414.8h.1M62.8 407.4h.1M48.0 419.3h.1M35.6 412.1h.1M31.7 409.4h.1M65.3 406.8h.1M70.4 402.9h.1M78.1 421.4h.1M51.3 403.9h.1M26.8 423.7h.1M33.4 429.2h.1M33.8 421.2h.1M28.5 411.6h.1M35.6 416.4h.1M41.1 429.7h.1M71.6 422.7h.1M60.2 398.6h.1M53.2 433.9h.1M55.6 418.3h.1M48.1 431.4h.1M57.9 423.3h.1M55.5 415.1h.1M33.8 431.3h.1M77.9 400.1h.1M43.4 427.5h.1M47.0 427.8h.1M70.2 424.4h.1M48.9 428.3h.1M47.8 396.4h.1M63.1 431.8h.1M27.6 416.6h.1M56.2 405.4h.1M34.8 406.3h.1M56.2 422.0h.1M58.9 432.4h.1M41.0 398.1h.1M49.0 411.1h.1M33.6 413.4h.1M61.8 414.4h.1M85.7 407.9h.1M69.6 407.5h.1M50.7 430.6h.1M61.9 403.0h.1M59.6 415.2h.1M47.5 428.4h.1M75.2 432.3h.1M57.4 410.8h.1M31.5 430.8h.1M67.9 425.8h.1M44.6 415.8h.1M52.9 396.4h.1M57.2 432.6h.1M60.2 427.5h.1M41.4 410.5h.1M48.5 422.0h.1M69.9 418.3h.1M45.2 415.1h.1M44.3 418.4h.1M68.1 416.3h.1M37.8 421.1h.1M57.6 406.5h.1M64.1 402.8h.1M25.1 421.7h.1M45.5 405.6h.1M69.0 427.3h.1M68.3 416.6h.1M61.8 431.3h.1M58.1 417.6h.1M68.3 401.0h.1M83.1 397.6h.1M59.8 428.2h.1M77.4 404.8h.1M72.7 423.8h.1M63.0 399.8h.1M48.5 430.4h.1M61.1 431.2h.1M55.2 405.0h.1M63.5 401.9h.1M30.4 410.5h.1M83.6 404.1h.1M58.5 419.9h.1M80.5 412.3h.1M32.6 425.3h.1M28.3 425.9h.1M66.3 408.6h.1M41.9 413.2h.1M58.9 402.7h.1M48.7 404.0h.1M46.9 417.9h.1M43.1 401.8h.1M66.9 417.0h.1M68.8 429.3h.1M69.6 420.5h.1M72.4 425.0h.1M46.1 413.2h.1M36.3 413.8h.1M72.4 396.8h.1M69.8 405.0h.1M44.5 405.2h.1M46.8 427.8h.1M59.1 431.1h.1M60.1 416.6h.1M47.0 432.0h.1M62.4 407.3h.1M55.6 432.2h.1M37.4 425.3h.1M81.5 398.3h.1M44.8 402.8h.1M49.2 425.0h.1M68.3 400.9h.1M57.4 426.1h.1M57.9 412.6h.1M66.3 434.1h.1M79.3 410.8h.1M51.0 408.1h.1M85.8 393.3h.1M49.6 426.6h.1M66.9 417.4h.1M81.8 415.5h.1M81.0 407.4h.1M69.6 420.5h.1M57.7 422.8h.1M75.3 411.1h.1M69.0 435.8h.1M52.1 423.0h.1M52.7 420.5h.1M47.9 426.5h.1M80.1 405.9h.1M30.7 409.0h.1M48.3 417.8h.1M83.2 396.9h.1M53.3 431.5h.1M58.2 396.5h.1M68.0 416.8h.1M38.6 427.0h.1M45.1 422.8h.1M40.5 422.6h.1M58.6 398.8h.1M52.8 401.1h.1M55.9 412.6h.1M36.1 413.5h.1M74.6 417.8h.1M49.8 401.2h.1M27.3 419.7h.1M37.7 411.1h.1M59.2 416.3h.1M77.2 420.0h.1M77.2 420.7h.1M58.8 397.0h.1M63.8 435.4h.1M54.3 395.6h.1M59.1 412.8h.1M80.3 415.7h.1M49.8 397.7h.1M46.1 420.2h.1M57.0 430.3h.1M44.8 406.4h.1M35.3 414.3h.1M66.3 412.2h.1M78.6 400.1h.1M62.5 433.0h.1M66.3 418.1h.1M72.0 397.7h.1M58.2 408.6h.1M55.1 412.4h.1M81.7 395.3h.1M39.4 416.2h.1M84.3 416.7h.1M51.2 418.9h.1M48.9 396.5h.1M33.3 414.5h.1M68.6 393.8h.1M70.5 423.0h.1M83.0 396.8h.1M52.1 428.7h.1M70.4 403.5h.1M33.4 425.2h.1M56.2 431.4h.1M63.6 435.8h.1M48.6 395.7h.1M69.7 423.7h.1M56.1 418.7h.1M47.7 432.9h.1M81.9 401.8h.1M78.1 423.7h.1M82.3 397.9h.1M25.6 419.3h.1M79.5 397.0h.1M53.5 403.4h.1M86.7 393.1h.1M68.7 413.2h.1M73.8 429.1h.1M57.6 404.9h.1M41.0 402.1h.1M40.5 432.8h.1M78.5 403.7h.1M44.6 413.4h.1M50.4 411.6h.1M34.6 422.2h.1M80.3 422.6h.1M48.7 434.2h.1M55.7 428.5h.1M61.5 419.8h.1M37.8 401.4h.1M69.9 426.1h.1M42.4 413.6h.1M68.1 407.2h.1M66.3 435.0h.1M51.8 403.2h.1M90.3 408.5h.1M94.0 403.3h.1M95.0 394.3h.1M94.8 394.8h.1M93.1 395.4h.1M86.9 403.7h.1M95.7 410.8h.1M89.8 405.5h.1M91.3 410.1h.1M87.8 417.7h.1M100.6 399.1h.1M87.0 409.9h.1M94.2 417.1h.1M95.1 398.4h.1M89.6 411.7h.1M92.6 411.5h.1M92.2 406.5h.1M101.5 404.6h.1M96.8 403.5h.1M89.7 396.6h.1M90.9 399.8h.1M104.3 409.2h.1M98.8 400.8h.1M91.2 396.1h.1M86.1 410.2h.1M101.6 411.7h.1M93.6 412.3h.1M96.2 391.7h.1M88.8 412.7h.1M92.1 398.0h.1M91.5 399.4h.1M90.4 413.6h.1M95.6 404.7h.1M96.5 395.9h.1M89.7 403.7h.1M186.2 425.7h.1M186.0 437.7h.1M189.8 437.6h.1M188.1 432.8h.1M186.8 440.9h.1M186.8 439.1h.1M186.6 444.8h.1M186.8 429.5h.1M189.6 440.0h.1M188.4 441.2h.1M190.5 436.7h.1M187.7 434.7h.1M75.2 474.5h.1M70.0 473.9h.1M62.8 443.9h.1M69.2 448.8h.1M84.1 462.2h.1M54.8 450.0h.1M72.4 441.3h.1M87.4 477.4h.1M72.6 443.2h.1M71.7 440.4h.1M56.6 445.2h.1M66.8 468.8h.1M67.3 464.7h.1M86.1 460.8h.1M69.2 469.6h.1M65.1 451.9h.1M86.6 460.0h.1" stroke="#f0948c" stroke-width="0.85" stroke-linecap="round" fill="none"/>
<path d="M79.6 412.6h.1M68.7 396.7h.1M41.9 425.3h.1M46.7 401.8h.1M52.3 433.1h.1M59.2 420.5h.1M32.2 424.6h.1M51.1 408.7h.1M30.3 427.2h.1M50.1 409.2h.1M81.1 420.9h.1M76.1 411.2h.1M50.5 400.1h.1M47.3 417.6h.1M65.7 396.4h.1M46.4 415.3h.1M64.3 410.0h.1M49.3 407.2h.1M64.7 418.9h.1M46.2 406.0h.1M27.6 421.5h.1M77.8 410.3h.1M60.0 414.7h.1M44.8 404.5h.1M45.2 433.5h.1M64.0 417.6h.1M74.9 417.6h.1M48.4 431.4h.1M47.3 420.2h.1M74.9 431.1h.1M72.4 413.2h.1M42.1 409.5h.1M70.5 422.5h.1M72.0 410.7h.1M47.0 414.3h.1M74.8 409.8h.1M83.9 393.2h.1M47.2 434.6h.1M72.9 414.8h.1M71.3 408.9h.1M57.3 410.3h.1M57.7 430.8h.1M76.9 403.5h.1M69.4 400.6h.1M70.2 436.0h.1M38.4 406.0h.1M49.9 408.5h.1M49.8 406.9h.1M61.3 436.1h.1M59.4 424.1h.1M45.1 420.8h.1M78.0 397.3h.1M60.9 404.4h.1M44.6 420.4h.1M45.3 428.2h.1M54.0 431.1h.1M41.4 400.6h.1M84.5 410.6h.1M49.9 395.6h.1M62.1 424.5h.1M67.1 425.9h.1M57.4 434.1h.1M41.0 407.5h.1M49.1 423.9h.1M60.7 398.5h.1M36.1 431.8h.1M51.6 433.9h.1M44.5 403.7h.1M46.1 433.3h.1M56.0 403.1h.1M71.2 398.4h.1M77.7 399.5h.1M35.6 411.1h.1M51.5 426.7h.1M59.3 400.6h.1M60.8 411.3h.1M59.9 415.8h.1M63.5 411.8h.1M54.5 432.7h.1M48.1 421.7h.1M60.2 400.5h.1M73.0 430.6h.1M50.5 406.0h.1M58.2 410.7h.1M30.5 426.1h.1M45.2 400.4h.1M32.8 430.0h.1M63.0 395.4h.1M60.6 409.2h.1M68.8 414.3h.1M66.2 428.9h.1M34.4 415.0h.1M51.1 419.1h.1M65.6 394.0h.1M64.4 414.7h.1M70.8 428.3h.1M75.5 417.5h.1M79.8 414.3h.1M53.7 407.1h.1M54.8 409.0h.1M78.4 402.1h.1M43.4 426.9h.1M64.1 417.3h.1M61.0 395.5h.1M73.0 432.0h.1M79.2 407.1h.1M31.7 408.2h.1M57.9 424.4h.1M33.7 426.0h.1M39.3 412.8h.1M39.7 407.5h.1M77.9 398.6h.1M67.0 394.8h.1M43.4 400.3h.1M69.8 410.5h.1M42.5 403.9h.1M76.1 424.1h.1M65.0 403.6h.1M53.2 431.1h.1M36.0 430.4h.1M81.4 406.8h.1M55.6 421.5h.1M38.2 414.7h.1M75.0 423.2h.1M42.0 410.8h.1M49.4 429.9h.1M59.4 434.7h.1M67.0 423.9h.1M38.1 413.4h.1M47.5 407.2h.1M43.5 425.4h.1M26.4 421.5h.1M60.5 408.6h.1M53.3 410.0h.1M71.3 433.2h.1M35.5 414.3h.1M50.4 416.1h.1M57.6 402.9h.1M49.3 419.6h.1M58.1 413.1h.1M54.4 397.8h.1M43.4 419.7h.1M60.2 419.6h.1M69.2 401.7h.1M50.8 412.1h.1M62.5 407.6h.1M61.0 398.6h.1M61.9 397.7h.1M65.2 405.5h.1M75.4 426.3h.1M38.2 419.2h.1M74.2 403.0h.1M75.6 431.6h.1M69.0 425.0h.1M35.3 431.2h.1M50.7 409.3h.1M31.8 414.9h.1M36.3 429.9h.1M33.9 427.8h.1M56.5 415.5h.1M66.8 411.8h.1M60.1 395.2h.1M77.4 403.3h.1M32.6 428.7h.1M45.0 409.9h.1M74.8 430.6h.1M38.1 417.1h.1M66.5 407.8h.1M32.1 420.7h.1M76.3 402.2h.1M61.2 411.8h.1M32.1 419.5h.1M84.0 399.3h.1M87.9 397.7h.1M70.3 426.9h.1M55.3 406.2h.1M31.5 419.1h.1M65.9 403.5h.1M55.1 426.7h.1M42.2 409.5h.1M83.1 398.4h.1M70.7 403.5h.1M69.3 410.8h.1M25.0 420.9h.1M69.1 429.9h.1M36.6 426.9h.1M27.2 423.3h.1M87.1 400.8h.1M48.0 423.2h.1M36.8 405.4h.1M35.8 415.0h.1M79.9 421.4h.1M68.5 429.0h.1M50.9 421.3h.1M58.3 404.7h.1M26.8 426.5h.1M67.0 404.8h.1M37.3 407.1h.1M60.3 402.9h.1M74.6 411.3h.1M70.9 427.4h.1M70.6 407.1h.1M62.4 420.0h.1M67.6 420.6h.1M69.7 414.5h.1M60.2 415.0h.1M72.4 409.0h.1M66.5 397.4h.1M54.4 410.1h.1M73.1 415.2h.1M60.6 409.3h.1M63.2 414.7h.1M67.6 427.8h.1M86.7 416.9h.1M33.3 412.6h.1M34.1 417.7h.1M63.3 399.2h.1M79.9 394.2h.1M67.4 423.2h.1M56.7 424.8h.1M66.1 432.2h.1M69.1 425.4h.1M55.5 410.4h.1M43.8 405.1h.1M50.3 405.4h.1M43.9 402.8h.1M67.5 431.9h.1M43.6 428.9h.1M34.5 404.8h.1M48.2 404.2h.1M56.5 425.6h.1M63.1 417.7h.1M32.8 416.7h.1M67.5 395.4h.1M49.7 407.9h.1M60.3 410.3h.1M26.7 419.8h.1M54.5 435.5h.1M53.9 417.8h.1M60.2 405.0h.1M30.8 420.0h.1M66.5 433.8h.1M97.7 414.2h.1M96.1 404.6h.1M101.4 408.6h.1M93.5 418.9h.1M98.2 405.8h.1M86.5 406.0h.1M91.2 398.5h.1M94.8 408.5h.1M89.3 413.4h.1M95.8 397.0h.1M91.2 405.2h.1M99.8 397.3h.1M103.6 415.3h.1M87.6 408.1h.1M98.1 402.6h.1M99.2 400.3h.1M89.4 418.3h.1M88.8 402.2h.1M101.1 402.2h.1M88.6 416.0h.1M95.4 408.3h.1M95.8 395.0h.1M88.6 413.6h.1M88.2 416.3h.1M89.8 407.5h.1M102.9 398.6h.1M90.1 413.9h.1M93.8 392.3h.1M187.0 423.1h.1M189.8 430.1h.1M189.3 431.6h.1M188.0 442.7h.1M191.6 429.4h.1M187.9 435.0h.1M190.2 426.9h.1M189.8 431.8h.1M186.6 444.2h.1M189.8 425.1h.1M187.4 440.8h.1M185.9 423.4h.1M56.6 458.7h.1M61.3 466.3h.1M52.9 448.6h.1M74.9 463.0h.1M64.0 465.9h.1M68.2 471.1h.1" stroke="#ee9a92" stroke-width="0.85" stroke-linecap="round" fill="none"/>
<path d="M67.2 421.5h.1M44.4 408.1h.1M61.2 421.7h.1M54.5 412.9h.1M75.8 423.7h.1M64.9 416.3h.1M76.0 424.3h.1M41.9 401.3h.1M84.8 408.0h.1M49.5 428.4h.1M43.6 408.6h.1M54.2 407.6h.1M33.3 425.7h.1M86.3 415.9h.1M58.1 431.8h.1M60.4 428.6h.1M60.9 413.9h.1M58.7 396.6h.1M66.6 429.6h.1M60.1 413.1h.1M40.2 403.6h.1M63.9 423.1h.1M50.7 434.8h.1M65.4 412.8h.1M71.8 428.2h.1M56.8 421.8h.1M45.2 418.5h.1M38.6 412.3h.1M72.4 401.4h.1M40.2 425.5h.1M36.9 418.3h.1M48.4 413.0h.1M50.9 419.1h.1M35.6 420.4h.1M32.5 411.3h.1M76.5 413.6h.1M45.7 414.0h.1M67.7 420.4h.1M38.4 409.3h.1M54.0 408.0h.1M43.6 396.5h.1M46.4 413.0h.1M79.6 399.5h.1M57.2 409.3h.1M49.1 421.5h.1M42.9 433.3h.1M34.3 430.2h.1M75.4 421.9h.1M83.2 402.5h.1M51.7 411.8h.1M46.0 405.9h.1M63.2 425.8h.1M73.7 430.0h.1M44.1 409.8h.1M67.7 435.0h.1M77.8 416.5h.1M61.8 414.4h.1M26.6 415.9h.1M70.2 419.2h.1M57.3 428.9h.1M52.5 435.1h.1M49.2 402.6h.1M37.8 414.0h.1M64.3 404.1h.1M53.3 420.6h.1M28.5 410.7h.1M71.2 402.2h.1M40.9 414.1h.1M66.7 396.2h.1M77.4 394.5h.1M69.3 414.5h.1M33.8 411.1h.1M44.0 397.0h.1M29.6 421.7h.1M49.9 400.0h.1M39.4 425.8h.1M76.9 412.0h.1M68.0 423.5h.1M57.4 416.5h.1M53.1 428.1h.1M44.0 414.1h.1M80.1 411.6h.1M58.0 420.6h.1M62.7 424.2h.1M65.7 429.5h.1M52.4 434.3h.1M67.6 400.8h.1M28.2 426.7h.1M36.4 419.7h.1M50.2 423.9h.1M85.6 398.0h.1M62.3 409.4h.1M69.8 428.9h.1M70.4 418.1h.1M42.4 427.5h.1M85.9 414.8h.1M47.8 413.7h.1M63.8 435.2h.1M39.3 419.3h.1M66.1 395.8h.1M49.3 426.4h.1M30.0 423.1h.1M69.5 422.2h.1M78.1 423.2h.1M74.1 425.7h.1M35.2 415.6h.1M51.2 427.6h.1M72.7 414.6h.1M63.2 427.2h.1M63.9 399.1h.1M56.3 428.9h.1M36.6 409.4h.1M35.3 424.5h.1M64.5 425.1h.1M64.6 436.2h.1M49.5 402.2h.1M74.5 428.5h.1M42.0 412.1h.1M46.3 424.3h.1M59.1 434.3h.1M84.8 409.9h.1M58.8 426.1h.1M39.4 421.2h.1M72.8 418.9h.1M38.2 410.9h.1M36.5 402.5h.1M48.4 423.9h.1M63.7 420.9h.1M64.3 408.3h.1M60.0 407.9h.1M45.3 433.3h.1M35.9 415.2h.1M64.4 421.5h.1M74.1 393.9h.1M52.0 434.4h.1M75.4 423.2h.1M70.3 427.1h.1M85.8 395.8h.1M73.3 405.6h.1M26.5 424.5h.1M30.5 429.5h.1M50.1 408.5h.1M53.1 407.5h.1M64.3 429.0h.1M66.2 431.1h.1M37.6 408.9h.1M29.7 427.0h.1M60.8 432.5h.1M55.7 415.7h.1M43.5 406.5h.1M50.4 411.4h.1M73.2 423.2h.1M28.9 420.9h.1M85.3 416.5h.1M73.0 397.6h.1M39.4 430.1h.1M53.2 398.0h.1M87.6 396.4h.1M36.3 411.3h.1M28.1 411.9h.1M45.8 416.7h.1M51.2 425.5h.1M35.9 428.5h.1M37.1 402.0h.1M72.8 431.3h.1M47.3 421.9h.1M52.1 402.0h.1M59.5 406.7h.1M30.7 411.1h.1M34.7 404.8h.1M72.2 418.3h.1M24.9 420.3h.1M51.7 413.9h.1M50.5 397.8h.1M84.9 409.9h.1M50.3 425.0h.1M67.6 404.0h.1M62.7 429.2h.1M33.6 424.8h.1M38.7 422.8h.1M46.7 395.7h.1M65.2 431.8h.1M64.1 407.3h.1M41.5 401.0h.1M80.4 417.3h.1M39.4 431.0h.1M34.8 416.6h.1M35.0 421.0h.1M59.6 423.2h.1M29.0 422.2h.1M70.4 435.3h.1M65.2 429.1h.1M36.2 429.4h.1M30.1 411.7h.1M35.0 427.3h.1M69.3 419.2h.1M58.4 416.2h.1M54.1 427.7h.1M51.3 400.3h.1M59.6 407.2h.1M49.7 395.1h.1M56.0 432.7h.1M36.8 430.8h.1M40.4 419.9h.1M51.4 414.6h.1M32.5 429.1h.1M48.8 400.7h.1M42.9 430.3h.1M78.0 397.3h.1M68.9 426.6h.1M57.9 429.0h.1M40.4 419.9h.1M46.6 413.7h.1M74.8 422.1h.1M66.9 420.4h.1M44.4 420.3h.1M63.0 403.7h.1M68.7 431.4h.1M62.6 417.5h.1M69.9 429.1h.1M32.3 408.7h.1M67.6 426.4h.1M63.5 432.0h.1M38.1 418.8h.1M57.9 400.8h.1M37.7 425.5h.1M67.0 427.6h.1M52.1 411.6h.1M54.0 412.1h.1M35.8 413.0h.1M49.4 397.8h.1M37.2 403.2h.1M72.0 429.1h.1M34.1 409.5h.1M37.7 426.4h.1M55.5 398.9h.1M73.8 429.6h.1M32.6 426.4h.1M36.6 425.8h.1M40.9 426.4h.1M58.1 395.2h.1M57.9 400.7h.1M39.3 425.8h.1M28.5 412.5h.1M41.6 431.0h.1M38.4 413.8h.1M67.9 405.2h.1M67.9 401.7h.1M51.1 399.7h.1M65.5 421.5h.1M52.5 398.1h.1M78.9 399.0h.1M88.4 404.6h.1M93.3 394.8h.1M90.1 404.8h.1M86.5 409.4h.1M92.2 392.0h.1M101.9 392.6h.1M97.6 414.6h.1M88.0 407.1h.1M93.3 396.4h.1M89.5 400.9h.1M97.9 398.8h.1M93.8 392.3h.1M97.6 392.9h.1M88.2 405.4h.1M102.6 416.5h.1M99.5 392.5h.1M99.4 402.7h.1M101.3 406.4h.1M96.6 395.6h.1M94.7 396.1h.1M92.4 413.5h.1M98.1 403.9h.1M89.9 414.6h.1M97.7 402.3h.1M94.0 410.0h.1M94.3 408.3h.1M87.0 409.5h.1M88.2 417.8h.1M106.8 404.2h.1M92.1 398.4h.1M187.1 427.9h.1M187.8 435.7h.1M188.1 420.5h.1M185.8 436.8h.1M189.5 433.2h.1M186.5 430.3h.1M190.0 426.9h.1M189.3 427.4h.1M188.8 434.0h.1M189.1 436.6h.1M191.0 427.3h.1M66.2 461.6h.1M49.5 440.1h.1M75.6 462.1h.1M53.2 440.9h.1M88.2 470.2h.1M61.2 450.4h.1M85.5 462.7h.1M64.0 467.8h.1M72.5 434.0h.1M72.6 447.1h.1M69.5 460.3h.1M60.6 451.6h.1M60.2 454.1h.1M74.6 470.4h.1M66.3 454.5h.1M50.3 441.2h.1M91.6 472.0h.1M55.3 435.0h.1M58.6 437.1h.1M78.9 461.9h.1M65.2 451.8h.1" stroke="#e4747c" stroke-width="0.85" stroke-linecap="round" fill="none"/>
<path d="M82.7 406.9h.1M42.7 427.1h.1M40.2 432.0h.1M62.6 422.8h.1M34.6 406.7h.1M31.6 422.7h.1M57.4 434.3h.1M31.6 418.0h.1M50.5 430.8h.1M42.0 404.6h.1M40.4 403.4h.1M58.2 419.2h.1M59.1 422.6h.1M46.0 421.4h.1M29.6 415.3h.1M69.6 426.4h.1M41.0 410.6h.1M57.8 404.2h.1M43.6 431.2h.1M59.7 398.4h.1M55.9 425.7h.1M52.8 397.8h.1M59.4 411.2h.1M59.3 417.5h.1M58.4 423.1h.1M56.2 400.0h.1M77.2 394.2h.1M63.0 409.1h.1M68.9 403.0h.1M83.5 401.1h.1M45.8 400.9h.1M30.3 420.3h.1M79.2 408.9h.1M58.8 400.4h.1M61.9 427.6h.1M33.4 424.7h.1M75.6 427.9h.1M60.9 407.8h.1M52.7 424.8h.1M41.1 401.8h.1M43.4 429.9h.1M74.2 414.3h.1M34.2 409.2h.1M50.1 427.1h.1M64.4 398.7h.1M45.0 414.4h.1M64.7 402.1h.1M54.4 399.8h.1M44.5 405.0h.1M58.3 423.8h.1M40.5 410.2h.1M45.3 408.7h.1M71.8 422.1h.1M60.0 435.2h.1M57.5 421.9h.1M72.4 401.0h.1M39.0 413.9h.1M29.8 431.1h.1M66.8 424.2h.1M62.0 420.2h.1M51.4 403.3h.1M40.1 428.5h.1M47.6 403.9h.1M36.4 420.0h.1M73.3 408.3h.1M82.8 413.2h.1M74.8 416.7h.1M28.9 414.3h.1M69.8 416.1h.1M61.3 427.9h.1M55.9 409.3h.1M62.8 403.6h.1M43.8 408.4h.1M66.7 404.4h.1M56.9 430.4h.1M53.4 423.1h.1M36.6 405.5h.1M64.5 406.9h.1M58.7 406.6h.1M76.7 416.0h.1M29.9 419.4h.1M49.8 405.8h.1M47.5 412.0h.1M54.9 395.5h.1M61.1 403.3h.1M89.4 394.9h.1M78.0 427.4h.1M48.9 431.8h.1M57.9 399.0h.1M63.9 398.1h.1M69.6 411.7h.1M78.2 406.0h.1M47.5 400.3h.1M51.5 411.3h.1M30.2 425.2h.1M81.8 393.9h.1M47.3 434.7h.1M71.5 415.9h.1M49.4 397.4h.1M62.6 429.4h.1M28.9 425.0h.1M84.2 401.4h.1M28.4 423.7h.1M73.3 431.9h.1M41.3 416.9h.1M38.8 420.4h.1M61.3 402.3h.1M24.8 422.6h.1M30.9 418.2h.1M37.8 406.3h.1M66.1 411.4h.1M73.3 399.6h.1M34.6 410.9h.1M58.8 422.7h.1M63.7 409.2h.1M65.2 430.4h.1M53.6 406.0h.1M70.4 403.5h.1M78.6 415.7h.1M28.1 419.3h.1M47.9 403.9h.1M77.9 412.8h.1M33.1 418.2h.1M61.8 407.8h.1M84.9 412.1h.1M77.1 396.3h.1M58.2 403.5h.1M35.8 418.3h.1M64.2 428.6h.1M37.5 424.8h.1M72.6 422.0h.1M46.4 420.4h.1M44.9 402.0h.1M75.1 430.5h.1M35.8 402.9h.1M55.6 418.5h.1M84.4 418.1h.1M59.9 433.0h.1M37.1 425.2h.1M42.2 432.5h.1M61.3 411.6h.1M53.0 429.1h.1M58.7 413.8h.1M68.1 431.4h.1M46.6 431.4h.1M49.3 434.8h.1M68.1 415.1h.1M68.2 426.2h.1M64.8 410.9h.1M69.3 427.5h.1M70.8 416.9h.1M48.2 422.1h.1M51.9 398.7h.1M65.5 395.2h.1M29.9 426.3h.1M61.7 422.3h.1M43.8 429.6h.1M62.4 406.2h.1M71.2 421.1h.1M34.1 404.5h.1M69.8 414.0h.1M71.9 418.1h.1M30.0 422.3h.1M82.6 418.3h.1M60.0 434.3h.1M68.1 398.4h.1M77.9 393.4h.1M52.0 416.7h.1M59.3 408.4h.1M48.0 428.7h.1M54.6 400.1h.1M58.2 431.9h.1M41.2 430.1h.1M45.0 396.6h.1M85.3 394.7h.1M51.4 431.5h.1M62.9 421.6h.1M65.4 416.5h.1M26.5 417.7h.1M76.6 422.0h.1M55.8 430.9h.1M71.0 417.1h.1M56.1 397.5h.1M82.2 415.1h.1M72.3 403.3h.1M37.5 400.9h.1M36.4 419.0h.1M33.3 410.3h.1M72.7 404.2h.1M68.6 407.9h.1M66.3 409.5h.1M52.5 425.2h.1M71.4 424.5h.1M84.4 399.7h.1M39.5 416.6h.1M68.0 416.3h.1M74.7 404.0h.1M34.7 431.8h.1M76.7 414.5h.1M58.9 424.1h.1M64.9 426.1h.1M67.7 395.7h.1M70.6 406.1h.1M49.9 405.9h.1M38.0 403.6h.1M42.4 415.2h.1M73.7 420.6h.1M76.9 396.7h.1M78.1 404.0h.1M53.5 410.8h.1M51.1 408.2h.1M61.1 403.8h.1M46.2 431.3h.1M56.2 407.9h.1M57.0 411.3h.1M63.4 406.9h.1M64.3 433.6h.1M66.1 424.3h.1M65.1 403.0h.1M34.5 415.9h.1M55.5 418.0h.1M70.0 427.1h.1M41.7 410.0h.1M55.0 424.2h.1M84.0 419.0h.1M64.0 436.1h.1M34.4 407.3h.1M60.8 406.5h.1M39.8 406.2h.1M70.3 406.0h.1M51.7 432.5h.1M63.9 423.3h.1M50.9 401.6h.1M28.3 411.4h.1M37.0 429.5h.1M70.2 401.7h.1M46.7 430.0h.1M72.2 415.7h.1M65.5 420.3h.1M28.0 416.8h.1M75.3 417.9h.1M59.8 436.1h.1M53.4 410.3h.1M68.7 436.1h.1M68.5 414.0h.1M77.3 405.9h.1M35.8 429.8h.1M55.1 414.4h.1M72.6 412.3h.1M37.8 425.4h.1M70.6 420.0h.1M36.0 411.4h.1M65.1 418.1h.1M53.4 424.6h.1M46.7 403.4h.1M51.1 429.1h.1M31.9 419.1h.1M52.2 432.9h.1M42.3 397.4h.1M69.7 406.1h.1M38.7 401.6h.1M37.3 429.2h.1M83.0 409.0h.1M62.9 413.5h.1M75.9 400.3h.1M91.0 403.0h.1M98.2 399.6h.1M87.2 411.3h.1M88.8 417.7h.1M88.8 397.8h.1M86.7 414.8h.1M92.1 400.0h.1M92.9 412.4h.1M86.5 414.6h.1M92.5 394.7h.1M88.4 409.6h.1M89.6 411.3h.1M87.0 414.4h.1M91.1 404.9h.1M99.7 415.1h.1M90.0 408.2h.1M100.2 398.3h.1M92.2 397.8h.1M89.0 401.3h.1M93.2 418.7h.1M94.5 397.5h.1M89.1 408.4h.1M86.1 413.4h.1M190.2 436.6h.1M190.5 430.6h.1M189.4 432.4h.1M190.1 431.8h.1M185.9 432.6h.1M185.7 425.5h.1M186.8 430.7h.1M185.7 420.8h.1M76.2 475.8h.1M54.6 456.4h.1M90.2 463.1h.1M61.8 439.5h.1M83.8 462.8h.1M64.8 461.7h.1M71.2 444.4h.1M52.9 439.8h.1M68.9 460.9h.1M73.5 469.3h.1M73.6 456.3h.1M89.7 465.5h.1M52.4 436.1h.1M67.2 454.5h.1M67.7 442.0h.1M53.0 439.1h.1M62.0 434.9h.1M56.5 443.7h.1M61.9 448.0h.1M68.6 446.8h.1M66.0 434.2h.1" stroke="#ec8482" stroke-width="0.85" stroke-linecap="round" fill="none"/>
<path d="M38.4 428.8h.1M56.9 401.6h.1M69.5 395.3h.1M58.5 433.2h.1M58.5 410.6h.1M64.7 409.3h.1M61.3 415.9h.1M63.7 423.6h.1M66.1 412.3h.1M65.3 396.5h.1M62.1 430.5h.1M66.9 408.6h.1M34.0 413.7h.1M59.5 429.3h.1M51.2 424.2h.1M57.0 395.0h.1M66.9 420.3h.1M35.7 421.2h.1M43.9 398.4h.1M71.5 417.0h.1M39.5 407.3h.1M82.2 399.9h.1M68.9 414.2h.1M32.1 429.1h.1M26.8 413.5h.1M49.0 411.5h.1M31.9 420.2h.1M46.7 430.3h.1M37.9 427.5h.1M55.0 406.1h.1M43.1 415.8h.1M76.8 424.1h.1M81.8 398.5h.1M69.5 422.5h.1M71.5 427.1h.1M42.6 407.0h.1M75.4 415.5h.1M41.4 404.6h.1M39.9 408.0h.1M56.8 421.1h.1M37.7 404.1h.1M28.0 415.7h.1M67.2 402.9h.1M25.9 422.9h.1M68.4 414.5h.1M46.2 408.0h.1M61.7 418.7h.1M39.2 408.5h.1M62.4 414.9h.1M44.0 426.2h.1M66.9 415.5h.1M72.2 419.2h.1M50.2 418.7h.1M49.0 428.9h.1M73.5 425.8h.1M34.5 426.4h.1M36.2 424.3h.1M67.6 410.8h.1M68.5 397.8h.1M79.2 413.6h.1M35.7 422.2h.1M77.4 398.6h.1M51.8 414.9h.1M63.4 404.9h.1M57.9 432.4h.1M66.9 434.1h.1M42.9 406.1h.1M66.4 394.3h.1M64.0 415.6h.1M78.7 393.4h.1M34.5 430.2h.1M84.0 419.0h.1M65.8 417.4h.1M70.2 417.3h.1M79.6 424.7h.1M64.4 401.0h.1M30.3 415.2h.1M46.8 408.3h.1M52.1 397.8h.1M62.3 429.1h.1M41.7 412.8h.1M72.7 398.0h.1M53.6 423.0h.1M47.9 423.2h.1M67.7 394.0h.1M82.7 418.7h.1M57.2 413.6h.1M46.5 413.6h.1M33.9 422.7h.1M32.7 415.7h.1M85.2 416.3h.1M65.4 419.8h.1M79.2 419.3h.1M39.6 428.7h.1M35.6 412.1h.1M63.2 407.5h.1M29.1 428.8h.1M63.9 411.9h.1M69.4 398.2h.1M45.2 425.5h.1M35.4 408.5h.1M57.3 434.5h.1M71.4 421.9h.1M39.6 399.3h.1M51.2 398.2h.1M70.5 408.0h.1M58.3 405.8h.1M37.2 409.7h.1M49.6 429.3h.1M52.6 419.1h.1M64.0 412.3h.1M39.9 406.0h.1M40.4 433.3h.1M30.9 424.1h.1M27.0 414.3h.1M35.5 403.8h.1M49.0 401.9h.1M45.8 405.5h.1M60.9 432.9h.1M25.2 424.2h.1M59.9 413.1h.1M33.7 416.9h.1M48.2 414.6h.1M65.6 426.2h.1M40.6 403.0h.1M74.8 397.8h.1M68.2 416.0h.1M42.8 400.7h.1M75.5 431.9h.1M74.3 417.6h.1M43.0 397.7h.1M39.6 413.8h.1M82.7 406.6h.1M56.2 409.2h.1M70.0 420.2h.1M59.2 427.4h.1M73.8 412.7h.1M78.8 421.8h.1M43.6 425.5h.1M54.3 433.7h.1M63.3 430.2h.1M54.8 434.4h.1M69.3 394.4h.1M31.2 431.2h.1M70.0 427.0h.1M76.8 405.9h.1M35.7 427.6h.1M59.3 415.8h.1M69.8 396.6h.1M81.1 395.7h.1M38.8 406.3h.1M60.3 402.6h.1M40.0 420.4h.1M42.7 405.9h.1M47.8 399.3h.1M33.4 421.4h.1M67.2 412.6h.1M40.9 409.6h.1M41.4 418.4h.1M36.2 407.2h.1M32.3 406.7h.1M31.8 420.1h.1M42.4 432.9h.1M46.4 426.4h.1M58.1 435.7h.1M54.4 407.1h.1M45.2 425.7h.1M31.8 420.1h.1M60.3 398.5h.1M39.8 424.8h.1M35.8 409.4h.1M41.3 403.4h.1M43.4 406.2h.1M34.9 428.1h.1M35.7 412.6h.1M63.9 402.3h.1M50.6 421.6h.1M41.4 430.0h.1M26.7 421.6h.1M64.1 421.9h.1M54.3 407.5h.1M36.5 404.7h.1M36.1 421.6h.1M81.8 403.9h.1M51.2 407.1h.1M45.8 409.5h.1M46.2 398.8h.1M67.6 427.1h.1M40.8 408.3h.1M55.9 407.1h.1M69.0 415.4h.1M81.8 420.3h.1M42.3 413.4h.1M75.4 406.8h.1M62.9 435.2h.1M47.4 399.0h.1M61.9 424.6h.1M59.6 404.8h.1M38.7 415.2h.1M68.7 415.9h.1M58.7 406.9h.1M46.6 403.0h.1M53.8 432.8h.1M26.3 414.9h.1M52.2 399.4h.1M67.4 411.9h.1M40.5 420.7h.1M38.4 427.0h.1M28.5 421.9h.1M51.7 431.3h.1M63.3 428.6h.1M78.7 401.2h.1M50.3 427.4h.1M86.4 399.6h.1M52.8 407.0h.1M82.8 413.8h.1M33.5 420.3h.1M40.0 408.8h.1M58.2 412.3h.1M46.3 397.8h.1M34.6 408.1h.1M48.4 423.2h.1M31.1 427.0h.1M52.5 401.3h.1M54.2 413.0h.1M54.8 427.9h.1M34.7 416.5h.1M80.2 399.5h.1M48.0 410.2h.1M71.1 428.6h.1M48.9 416.5h.1M86.1 405.9h.1M43.4 417.7h.1M75.5 430.4h.1M61.5 408.6h.1M70.9 424.5h.1M30.6 409.3h.1M83.6 395.1h.1M30.8 425.9h.1M42.8 431.5h.1M37.8 402.5h.1M67.9 412.4h.1M91.2 397.4h.1M95.0 397.8h.1M90.0 396.5h.1M95.1 402.8h.1M92.5 411.7h.1M89.3 399.6h.1M90.1 418.9h.1M97.2 415.3h.1M86.3 410.5h.1M90.8 411.6h.1M87.7 413.6h.1M92.5 412.5h.1M100.1 397.8h.1M103.9 405.1h.1M86.9 402.3h.1M103.2 395.6h.1M89.5 415.1h.1M87.7 414.0h.1M100.4 417.0h.1M86.4 414.3h.1M101.6 402.8h.1M97.8 401.4h.1M106.0 396.3h.1M90.5 412.9h.1M92.4 409.6h.1M100.2 407.1h.1M93.5 416.8h.1M87.0 404.8h.1M93.3 393.5h.1M88.4 408.4h.1M91.9 412.8h.1M98.9 414.8h.1M88.3 418.3h.1M94.4 391.7h.1M89.9 401.4h.1M185.7 428.7h.1M189.2 424.1h.1M186.0 443.9h.1M189.9 431.3h.1M185.8 424.5h.1M188.3 427.7h.1M188.3 426.8h.1M187.1 442.3h.1M53.9 436.0h.1M69.1 439.9h.1M63.7 470.5h.1M64.7 447.1h.1M81.4 478.1h.1M55.7 453.7h.1M71.1 454.1h.1M62.3 442.6h.1M77.3 478.6h.1M68.5 455.2h.1M73.7 436.7h.1M90.2 463.6h.1M58.9 444.2h.1M71.9 436.8h.1M58.1 448.3h.1M66.2 453.7h.1M50.7 437.9h.1M89.4 469.7h.1M63.2 468.3h.1M75.6 473.2h.1M60.4 451.2h.1M67.3 438.5h.1M64.5 450.7h.1M52.4 437.8h.1M62.6 437.7h.1M51.2 436.1h.1" stroke="#d86a7a" stroke-width="0.85" stroke-linecap="round" fill="none"/>
<path d="M39.1 424.8h.1M30.4 410.8h.1M45.3 426.0h.1M64.7 413.7h.1M45.1 412.4h.1M42.1 431.3h.1M51.8 409.1h.1M46.8 396.7h.1M55.5 405.1h.1M53.6 406.1h.1M47.0 412.2h.1M73.8 402.3h.1M48.2 407.3h.1M48.7 416.3h.1M63.1 429.1h.1M55.0 420.8h.1M76.3 424.3h.1M29.7 425.0h.1M68.4 408.4h.1M53.5 412.1h.1M50.5 410.2h.1M46.9 411.2h.1M60.2 416.6h.1M60.6 429.0h.1M52.0 420.6h.1M61.8 410.2h.1M49.5 402.7h.1M43.7 406.5h.1M38.5 427.9h.1M34.9 416.5h.1M47.5 433.4h.1M55.7 433.2h.1M49.3 404.7h.1M60.3 405.5h.1M37.8 400.9h.1M72.1 403.5h.1M76.2 401.4h.1M53.5 395.8h.1M59.5 417.5h.1M49.8 413.5h.1M77.2 411.4h.1M65.6 407.4h.1M31.2 426.3h.1M37.9 415.7h.1M23.7 421.2h.1M53.1 435.3h.1M61.0 401.5h.1M66.4 418.2h.1M39.2 423.5h.1M41.1 416.5h.1M49.6 414.2h.1M38.0 425.3h.1M85.7 399.0h.1M66.1 426.8h.1M47.5 406.1h.1M54.0 411.9h.1M63.4 423.9h.1M30.4 424.3h.1M57.0 430.5h.1M58.7 433.9h.1M35.8 408.3h.1M72.3 428.6h.1M66.3 424.7h.1M67.8 402.1h.1M39.2 429.6h.1M58.0 421.0h.1M77.9 414.8h.1M68.7 403.9h.1M68.7 408.6h.1M70.4 416.4h.1M31.5 422.4h.1M64.8 397.6h.1M82.8 405.0h.1M64.5 429.0h.1M65.6 407.2h.1M38.6 421.9h.1M44.2 426.9h.1M66.0 427.6h.1M57.6 402.1h.1M65.2 412.6h.1M76.8 395.2h.1M51.6 414.6h.1M42.0 409.6h.1M73.0 414.2h.1M35.8 420.0h.1M66.9 415.4h.1M59.4 432.3h.1M74.0 404.4h.1M86.1 405.6h.1M68.8 399.2h.1M56.0 398.0h.1M66.2 398.6h.1M79.5 422.7h.1M63.0 400.7h.1M42.1 415.7h.1M57.8 415.6h.1M56.8 416.0h.1M61.4 414.0h.1M83.3 393.2h.1M51.1 408.2h.1M65.0 413.3h.1M50.0 418.9h.1M43.3 420.3h.1M62.8 421.9h.1M71.4 412.8h.1M52.2 413.8h.1M25.1 420.1h.1M75.3 422.1h.1M79.4 394.1h.1M62.5 425.7h.1M58.1 416.9h.1M49.6 410.4h.1M78.1 397.9h.1M82.0 394.6h.1M40.8 400.1h.1M68.1 432.5h.1M34.9 408.8h.1M60.7 432.0h.1M66.4 411.2h.1M62.7 417.9h.1M68.0 417.5h.1M28.2 414.1h.1M59.5 424.4h.1M59.4 432.9h.1M49.5 410.4h.1M59.2 405.1h.1M44.8 406.5h.1M47.0 410.7h.1M39.5 403.8h.1M69.0 417.6h.1M36.2 419.6h.1M43.7 397.8h.1M29.3 428.1h.1M44.7 409.4h.1M73.1 414.7h.1M79.2 401.7h.1M82.3 415.8h.1M76.0 393.6h.1M51.3 435.3h.1M68.8 394.3h.1M77.9 420.5h.1M46.6 432.3h.1M48.9 433.5h.1M33.7 428.3h.1M77.8 400.5h.1M26.3 421.1h.1M66.5 420.6h.1M70.0 427.5h.1M48.8 402.1h.1M51.8 413.1h.1M67.6 432.8h.1M53.2 416.7h.1M39.3 425.2h.1M82.0 420.4h.1M70.2 403.0h.1M58.2 431.4h.1M48.6 407.8h.1M51.6 416.9h.1M31.2 429.0h.1M60.1 415.9h.1M59.9 416.0h.1M78.1 412.7h.1M62.8 424.6h.1M67.6 412.9h.1M83.3 410.6h.1M56.3 414.3h.1M54.4 417.0h.1M35.6 414.9h.1M67.9 407.7h.1M79.9 399.9h.1M32.3 409.0h.1M34.4 404.0h.1M82.6 400.4h.1M73.4 427.8h.1M54.4 424.2h.1M37.6 400.4h.1M63.8 427.5h.1M42.3 409.9h.1M47.7 418.6h.1M64.8 401.0h.1M75.5 394.4h.1M40.6 422.6h.1M63.6 394.1h.1M69.4 429.8h.1M37.7 408.0h.1M68.4 395.2h.1M34.2 411.9h.1M64.8 418.0h.1M44.2 431.4h.1M34.9 423.0h.1M42.0 402.7h.1M69.4 396.5h.1M70.2 414.4h.1M60.9 394.5h.1M35.5 413.9h.1M83.8 416.5h.1M60.1 408.6h.1M54.1 407.9h.1M67.6 403.9h.1M35.6 417.7h.1M55.0 430.9h.1M54.8 405.9h.1M58.9 434.5h.1M37.2 418.6h.1M71.9 403.6h.1M29.1 414.8h.1M46.5 433.5h.1M49.1 412.5h.1M34.2 427.0h.1M53.2 419.4h.1M66.8 416.4h.1M77.0 412.0h.1M69.2 433.1h.1M34.7 419.7h.1M77.9 421.1h.1M67.3 430.5h.1M40.4 409.6h.1M66.3 407.5h.1M51.7 428.5h.1M79.6 416.8h.1M77.9 397.6h.1M28.1 414.5h.1M29.1 416.1h.1M54.8 429.9h.1M61.4 426.6h.1M63.6 396.9h.1M34.3 431.1h.1M49.0 397.8h.1M35.5 425.5h.1M70.6 424.0h.1M63.5 434.7h.1M39.5 413.7h.1M62.1 421.7h.1M74.6 430.7h.1M30.1 430.2h.1M43.0 398.9h.1M47.6 429.2h.1M62.5 427.0h.1M55.7 399.5h.1M47.8 416.9h.1M61.0 423.1h.1M40.0 405.2h.1M49.5 431.5h.1M87.1 405.9h.1M90.0 405.9h.1M102.4 417.6h.1M91.8 412.1h.1M96.0 393.2h.1M101.4 410.1h.1M101.4 407.2h.1M101.2 393.4h.1M96.6 394.9h.1M91.6 398.1h.1M90.6 408.4h.1M99.0 412.0h.1M87.6 405.9h.1M90.7 395.3h.1M89.0 417.7h.1M94.5 406.1h.1M188.7 422.5h.1M190.9 436.3h.1M189.3 436.1h.1M80.9 462.5h.1M76.6 470.4h.1M51.3 446.9h.1M69.7 439.4h.1M66.7 467.7h.1M74.8 475.9h.1M57.9 459.6h.1M69.5 437.9h.1M62.2 454.4h.1M54.8 454.9h.1M74.7 462.6h.1M70.4 466.4h.1M79.0 459.7h.1M67.5 471.7h.1M73.4 475.4h.1M64.4 464.8h.1M67.4 444.1h.1M54.1 445.8h.1M72.0 467.2h.1M77.2 479.1h.1M60.8 442.0h.1M88.6 466.1h.1M75.3 436.9h.1M61.9 458.1h.1M70.7 473.9h.1M64.4 435.1h.1" stroke="#e08088" stroke-width="0.85" stroke-linecap="round" fill="none"/>
<path d="M75.7 403.1h.1M88.5 395.8h.1M88.1 394.3h.1M70.4 414.4h.1M79.1 424.2h.1M79.5 413.1h.1M78.9 406.1h.1M72.7 407.2h.1M80.8 403.5h.1M82.6 394.8h.1M78.7 406.1h.1M86.9 399.1h.1M84.6 414.9h.1M87.7 396.7h.1M75.2 402.2h.1M85.6 405.7h.1M80.7 409.9h.1M79.7 399.1h.1M86.1 417.4h.1M75.9 394.4h.1M71.1 396.4h.1M83.7 415.8h.1M111.3 395.7h.1M129.9 415.0h.1M125.3 418.0h.1M126.4 420.0h.1M119.5 414.5h.1M136.2 415.5h.1M125.3 432.7h.1M90.6 393.8h.1M126.4 401.7h.1M107.3 415.6h.1M117.9 403.6h.1M128.1 404.0h.1M138.4 428.5h.1M120.6 410.1h.1M108.2 415.7h.1M140.7 405.8h.1M104.9 409.0h.1M99.6 409.0h.1M115.6 406.8h.1M132.5 397.7h.1M125.3 416.8h.1M109.3 411.3h.1M110.8 393.1h.1M96.4 412.5h.1M124.4 420.8h.1M117.4 410.4h.1M121.1 411.9h.1M119.4 415.2h.1M94.4 415.9h.1M117.5 407.6h.1M129.4 410.2h.1M106.4 406.3h.1M129.3 404.3h.1M123.0 418.0h.1M92.2 406.7h.1M135.2 421.8h.1M113.6 394.6h.1M133.4 430.4h.1M116.9 419.9h.1M122.3 409.2h.1M116.9 412.3h.1M131.1 407.4h.1M117.3 407.8h.1M98.6 408.6h.1M101.0 414.1h.1M133.7 427.4h.1M115.3 395.5h.1M110.3 392.9h.1M133.0 402.3h.1M106.9 414.6h.1M129.1 420.0h.1M126.8 424.3h.1M121.8 406.2h.1M132.4 416.4h.1M102.0 407.2h.1M104.9 401.5h.1M134.5 429.2h.1M97.1 409.5h.1M135.8 407.8h.1M115.6 413.3h.1M97.9 408.2h.1M134.5 431.9h.1M121.5 420.8h.1M133.7 402.5h.1M130.7 422.4h.1M122.3 394.1h.1M124.4 395.2h.1M117.8 414.5h.1M128.1 422.1h.1M112.3 417.3h.1M138.8 414.8h.1M120.7 395.6h.1M125.1 403.1h.1M115.9 414.3h.1M128.0 434.9h.1M131.9 414.4h.1M108.2 414.1h.1M99.2 392.6h.1M117.2 411.4h.1M112.9 411.8h.1M113.3 403.7h.1M131.8 406.7h.1M112.1 398.4h.1M140.7 420.1h.1M107.1 411.5h.1M133.0 430.9h.1M139.0 424.1h.1M140.4 410.6h.1M93.9 393.5h.1M138.0 429.0h.1M104.4 397.1h.1M98.7 413.2h.1M124.0 410.2h.1M104.0 391.3h.1M109.2 392.6h.1M139.9 412.9h.1M127.7 410.9h.1M106.0 398.6h.1M131.0 405.8h.1M103.1 407.1h.1M115.5 415.9h.1M129.9 421.5h.1M120.4 408.3h.1M119.0 397.2h.1M111.2 396.0h.1M135.1 428.5h.1M107.2 414.8h.1M97.2 412.5h.1M135.3 426.6h.1M129.9 420.1h.1M101.5 392.9h.1M114.5 413.7h.1M105.1 412.4h.1M137.5 415.7h.1M123.1 409.6h.1M133.7 420.7h.1M121.5 426.0h.1M111.7 405.5h.1M97.4 409.4h.1M120.5 414.9h.1M123.1 404.0h.1M139.5 407.1h.1M138.1 410.1h.1M117.5 419.7h.1M112.9 402.9h.1M129.7 419.2h.1M114.5 407.1h.1M139.8 407.4h.1M128.8 412.9h.1M131.4 398.2h.1M93.0 395.3h.1M104.5 417.3h.1M101.2 401.0h.1M134.0 422.8h.1M126.5 394.5h.1M117.4 415.7h.1M100.0 403.5h.1M125.0 405.4h.1M98.1 399.5h.1M125.4 397.2h.1M131.8 426.8h.1M110.0 413.7h.1M123.4 403.8h.1M118.0 405.0h.1M133.1 426.6h.1M133.4 402.1h.1M135.9 425.4h.1M109.2 418.2h.1M122.4 425.3h.1M101.2 410.3h.1M129.9 408.3h.1M101.6 410.7h.1M114.7 408.7h.1M131.2 423.7h.1M121.2 398.8h.1M104.1 411.8h.1M122.7 397.3h.1M122.9 418.8h.1M129.4 431.3h.1M123.4 414.5h.1M134.9 402.6h.1M108.0 407.1h.1M122.7 423.0h.1M123.4 405.2h.1M127.4 399.7h.1M101.1 406.0h.1M128.2 412.4h.1M128.4 417.7h.1M137.1 425.8h.1M116.5 413.2h.1M93.3 417.5h.1M133.9 402.7h.1M120.6 413.8h.1M134.9 403.2h.1M137.7 405.7h.1M131.8 399.9h.1M124.8 422.7h.1M99.3 417.1h.1M111.4 412.3h.1M111.5 397.8h.1M135.3 420.8h.1M114.1 397.6h.1M123.2 398.7h.1M133.5 426.8h.1M122.2 396.3h.1M93.1 400.0h.1M118.7 417.5h.1M127.8 429.7h.1M115.5 410.8h.1M128.2 435.5h.1M128.0 428.7h.1M105.7 394.5h.1M138.5 417.5h.1M122.3 393.6h.1M118.2 411.1h.1M134.3 406.0h.1" stroke="#cc64a4" stroke-width="0.85" stroke-linecap="round" fill="none"/>
<path d="M72.4 406.0h.1M74.3 403.6h.1M86.1 402.5h.1M72.3 421.9h.1M86.5 403.6h.1M70.0 394.1h.1M72.8 402.8h.1M73.5 427.0h.1M85.7 400.3h.1M85.8 407.4h.1M86.7 399.1h.1M75.6 421.1h.1M80.3 403.2h.1M76.7 395.7h.1M81.9 413.8h.1M86.0 400.8h.1M76.5 422.3h.1M81.9 409.9h.1M85.7 398.7h.1M83.6 412.8h.1M76.2 408.9h.1M109.5 407.1h.1M108.9 391.5h.1M109.4 411.0h.1M137.1 408.8h.1M117.4 412.8h.1M110.2 393.9h.1M118.0 403.2h.1M123.5 393.9h.1M94.1 394.5h.1M108.8 415.1h.1M128.0 397.8h.1M107.2 412.8h.1M113.8 398.1h.1M128.0 418.4h.1M102.7 411.9h.1M139.0 403.1h.1M140.5 412.5h.1M113.6 407.5h.1M139.1 415.0h.1M132.0 416.1h.1M118.4 401.7h.1M120.6 393.5h.1M130.8 422.9h.1M111.8 417.5h.1M92.4 418.7h.1M95.7 400.2h.1M117.2 397.2h.1M139.1 412.9h.1M100.3 391.5h.1M135.8 428.7h.1M132.1 424.8h.1M114.0 399.6h.1M100.1 408.7h.1M128.7 417.9h.1M126.8 428.0h.1M129.1 411.9h.1M96.7 392.3h.1M127.0 402.5h.1M121.9 398.3h.1M126.5 420.2h.1M138.6 398.8h.1M140.1 417.0h.1M126.4 403.9h.1M111.4 412.3h.1M121.5 415.2h.1M118.1 405.0h.1M130.2 429.9h.1M125.0 400.9h.1M129.3 406.0h.1M101.6 414.9h.1M125.1 432.8h.1M125.2 398.2h.1M107.2 402.6h.1M121.5 410.6h.1M137.7 408.3h.1M107.8 416.1h.1M105.2 401.9h.1M132.6 406.4h.1M124.1 425.0h.1M131.1 408.9h.1M92.0 404.9h.1M101.3 410.6h.1M127.6 431.9h.1M110.8 408.3h.1M101.9 412.9h.1M134.2 413.1h.1M117.0 415.5h.1M123.9 416.1h.1M97.8 395.4h.1M90.8 416.2h.1M127.4 425.4h.1M133.7 401.8h.1M114.8 414.0h.1M129.3 396.4h.1M99.3 408.6h.1M129.9 435.8h.1M137.4 417.7h.1M128.5 433.8h.1M92.5 398.5h.1M140.4 414.6h.1M129.7 405.6h.1M136.5 403.5h.1M107.2 398.7h.1M95.3 392.1h.1M119.0 409.5h.1M114.4 396.8h.1M107.9 411.7h.1M100.5 410.5h.1M126.1 408.2h.1M107.7 392.7h.1M93.8 418.3h.1M95.7 415.8h.1M97.6 403.3h.1M116.0 405.4h.1M110.8 411.9h.1M101.1 393.0h.1M114.3 402.1h.1M137.2 407.5h.1M139.9 428.3h.1M136.2 415.6h.1M101.6 416.0h.1M135.4 427.3h.1M102.6 417.1h.1M98.6 402.3h.1M112.1 395.0h.1M139.5 421.5h.1M120.0 399.9h.1M112.6 404.9h.1M128.5 434.7h.1M128.9 423.6h.1M86.5 406.8h.1M125.5 405.8h.1M130.6 418.1h.1M129.0 435.2h.1M90.3 402.1h.1M140.4 425.3h.1M107.6 400.4h.1M112.0 416.2h.1M121.0 406.0h.1M97.7 408.5h.1M134.2 411.2h.1M139.1 423.3h.1M129.9 399.7h.1M98.8 399.8h.1M133.6 414.4h.1M133.1 434.7h.1M98.0 404.5h.1M104.3 402.6h.1M136.6 398.4h.1M130.3 416.3h.1M113.3 403.6h.1M102.4 394.0h.1M109.6 411.7h.1M135.8 431.7h.1M119.1 416.9h.1M131.5 417.9h.1M133.4 435.3h.1M127.7 421.8h.1" stroke="#82309c" stroke-width="0.85" stroke-linecap="round" fill="none"/>
<path d="M78.6 409.2h.1M85.3 410.4h.1M87.9 394.2h.1M80.5 421.1h.1M84.6 419.8h.1M70.6 409.4h.1M72.6 425.0h.1M73.9 429.6h.1M84.5 410.0h.1M75.3 415.9h.1M84.7 403.7h.1M82.9 399.6h.1M78.8 419.0h.1M70.0 425.0h.1M78.2 393.4h.1M75.3 422.6h.1M77.7 403.2h.1M82.4 397.7h.1M74.6 409.0h.1M86.1 404.9h.1M85.1 410.2h.1M83.7 412.6h.1M74.5 423.3h.1M111.0 407.7h.1M98.4 412.3h.1M115.9 419.9h.1M139.4 405.3h.1M126.8 419.8h.1M90.4 404.5h.1M102.8 391.4h.1M127.6 411.5h.1M113.8 417.7h.1M89.9 402.9h.1M107.8 415.6h.1M121.7 424.8h.1M102.8 399.5h.1M94.9 401.3h.1M110.6 402.3h.1M116.7 392.6h.1M112.6 407.9h.1M139.2 428.3h.1M118.4 400.4h.1M129.2 405.0h.1M139.4 428.8h.1M126.6 421.6h.1M124.5 420.0h.1M134.3 418.9h.1M139.5 423.6h.1M118.9 420.6h.1M120.1 396.5h.1M137.5 421.9h.1M133.4 411.8h.1M129.9 418.8h.1M127.4 402.7h.1M126.4 431.6h.1M97.3 396.2h.1M128.4 406.3h.1M100.0 402.7h.1M99.1 413.5h.1M98.2 404.9h.1M141.3 411.1h.1M124.3 424.3h.1M112.0 414.4h.1M106.1 410.5h.1M107.3 414.5h.1M111.0 406.5h.1M133.6 404.7h.1M134.9 425.4h.1M131.2 435.5h.1M118.4 420.9h.1M98.2 412.4h.1M115.7 399.4h.1M105.1 413.6h.1M125.4 431.7h.1M136.1 407.7h.1M115.4 413.6h.1M118.2 408.1h.1M122.6 405.6h.1M133.1 408.7h.1M104.0 394.8h.1M103.0 411.8h.1M109.7 411.6h.1M137.2 428.2h.1M134.7 410.6h.1M135.7 422.4h.1M89.8 405.1h.1M118.9 408.5h.1M115.8 411.0h.1M119.5 414.3h.1M124.5 406.9h.1M97.9 394.9h.1M102.6 413.2h.1M110.7 401.5h.1M93.4 411.5h.1M120.3 415.9h.1M86.8 403.8h.1M95.7 403.2h.1M112.2 403.0h.1M103.9 415.3h.1M97.3 396.0h.1M125.4 396.6h.1M133.8 411.5h.1M131.8 400.4h.1M130.1 397.1h.1M129.5 431.8h.1M135.0 417.8h.1M109.1 411.9h.1M122.7 416.9h.1M99.6 409.2h.1M99.0 400.6h.1M132.4 435.8h.1M121.2 419.8h.1M132.6 431.5h.1M109.7 407.2h.1M123.6 396.1h.1M129.0 424.8h.1M113.1 408.5h.1M93.9 415.2h.1M129.3 430.6h.1M140.1 420.2h.1M130.7 400.9h.1M124.6 399.5h.1M109.8 416.8h.1M127.1 426.0h.1M122.0 411.6h.1M115.7 420.6h.1M132.1 405.1h.1M139.1 402.4h.1M109.9 404.5h.1M126.7 432.1h.1M93.3 392.9h.1M128.0 420.3h.1M113.9 418.9h.1M109.6 392.0h.1M124.4 410.3h.1M129.9 405.0h.1M98.4 392.4h.1M130.9 422.2h.1M112.6 417.2h.1M104.5 412.1h.1M114.0 418.1h.1M133.6 406.3h.1M135.3 428.6h.1M135.2 408.7h.1M137.0 432.2h.1M126.2 429.0h.1M102.0 395.8h.1M136.5 400.2h.1M100.2 392.4h.1M140.2 418.2h.1M111.5 414.6h.1M113.0 415.8h.1M130.2 423.8h.1M113.7 401.3h.1M118.2 422.2h.1M121.1 410.0h.1M126.8 426.4h.1M136.1 413.6h.1M135.1 413.4h.1M106.6 413.7h.1M126.8 411.2h.1M109.8 413.3h.1M137.6 431.5h.1M114.0 409.2h.1M130.5 413.8h.1M117.4 417.2h.1M108.5 401.7h.1M126.2 432.5h.1M140.9 412.7h.1M138.6 421.7h.1M105.1 406.4h.1M136.5 414.1h.1M125.5 432.1h.1M99.5 396.9h.1M104.4 414.0h.1M122.2 404.2h.1M114.9 415.7h.1M136.4 404.1h.1M125.0 431.2h.1M141.2 416.9h.1M135.6 433.7h.1M123.0 398.8h.1M126.8 400.6h.1M127.3 411.2h.1M103.0 398.2h.1M117.3 412.4h.1M127.9 431.1h.1M128.3 408.1h.1M102.1 393.4h.1M129.9 428.4h.1M106.2 412.1h.1M119.8 419.9h.1M125.0 400.6h.1" stroke="#a044a2" stroke-width="0.85" stroke-linecap="round" fill="none"/>
<path d="M75.8 412.7h.1M80.9 403.9h.1M88.8 395.5h.1M84.7 403.3h.1M86.0 408.4h.1M83.9 416.3h.1M78.2 417.0h.1M79.3 413.2h.1M80.9 400.1h.1M82.6 401.9h.1M79.5 397.6h.1M76.5 419.2h.1M82.9 414.1h.1M79.2 400.5h.1M85.9 414.2h.1M73.1 426.0h.1M73.0 434.4h.1M86.8 398.6h.1M79.7 407.0h.1M86.0 397.7h.1M113.3 413.2h.1M115.0 396.4h.1M136.3 421.8h.1M126.8 419.6h.1M128.3 413.9h.1M132.1 424.3h.1M133.9 409.2h.1M110.9 400.5h.1M123.0 405.1h.1M130.1 416.0h.1M123.6 423.5h.1M132.0 402.4h.1M114.7 410.0h.1M122.8 420.4h.1M120.4 424.4h.1M138.2 407.4h.1M117.5 402.0h.1M91.8 412.9h.1M125.1 414.3h.1M114.1 413.0h.1M109.4 406.6h.1M123.8 425.8h.1M133.0 402.3h.1M107.3 396.8h.1M130.3 427.6h.1M100.4 405.3h.1M99.8 396.3h.1M117.7 395.5h.1M125.4 428.4h.1M135.5 414.0h.1M135.0 426.3h.1M135.8 421.9h.1M129.7 412.6h.1M131.1 430.8h.1M128.8 415.7h.1M117.3 392.5h.1M99.7 413.3h.1M99.1 402.1h.1M140.6 417.6h.1M123.7 425.7h.1M115.3 395.6h.1M112.4 399.2h.1M113.7 413.9h.1M111.9 418.0h.1M110.2 409.1h.1M134.6 410.4h.1M121.5 423.7h.1M108.8 408.5h.1M129.1 419.8h.1M123.0 393.2h.1M122.5 398.8h.1M132.7 408.7h.1M126.2 400.4h.1M135.6 423.8h.1M131.1 413.4h.1M135.2 412.2h.1M114.3 412.7h.1M123.3 407.6h.1M101.5 402.9h.1M119.6 424.6h.1M115.3 410.6h.1M104.4 407.8h.1M134.0 423.1h.1M111.5 418.1h.1M113.1 394.0h.1M116.6 414.1h.1M113.9 392.4h.1M122.3 419.2h.1M107.5 408.4h.1M119.6 413.1h.1M124.2 400.9h.1M96.6 394.5h.1M127.3 422.8h.1M123.4 399.1h.1M110.9 416.4h.1M118.3 399.4h.1M135.1 429.2h.1M123.3 393.6h.1M112.3 412.9h.1M127.8 395.1h.1M101.4 415.0h.1M128.3 434.8h.1M100.5 396.5h.1M113.3 414.2h.1M132.8 398.8h.1M91.5 407.2h.1M100.0 412.1h.1M136.1 406.0h.1M124.6 403.4h.1M133.2 402.0h.1M94.2 407.0h.1M129.3 396.1h.1M125.7 427.0h.1M113.8 396.1h.1M109.0 407.9h.1M134.0 413.2h.1M128.2 397.2h.1M131.0 428.4h.1M121.3 426.7h.1M121.0 394.0h.1M113.3 406.9h.1M118.1 393.4h.1M105.7 394.8h.1M133.1 417.7h.1M120.4 425.6h.1M125.0 413.0h.1M118.6 409.0h.1M133.6 430.3h.1M136.0 406.5h.1M135.1 416.6h.1M95.1 417.0h.1M128.4 432.9h.1M115.4 398.3h.1M128.7 412.9h.1M133.7 416.7h.1M106.5 408.0h.1M125.9 406.5h.1M110.4 413.8h.1M129.5 420.1h.1M130.1 424.4h.1M129.7 426.0h.1M123.3 404.9h.1M133.7 405.0h.1M137.3 423.5h.1M117.5 408.8h.1M125.9 425.6h.1M121.9 394.4h.1M139.4 409.3h.1M127.7 398.2h.1M109.1 395.2h.1M107.7 412.0h.1M114.2 395.2h.1M130.9 420.5h.1M139.8 423.6h.1M118.2 408.0h.1M133.2 426.8h.1M123.7 414.6h.1M108.5 395.6h.1M116.9 410.6h.1M106.6 401.3h.1" stroke="#b652a4" stroke-width="0.85" stroke-linecap="round" fill="none"/>
<path d="M78.6 401.9h.1M84.1 393.4h.1M87.0 398.9h.1M74.5 426.5h.1M88.1 395.8h.1M84.6 394.6h.1M85.0 393.4h.1M73.2 423.6h.1M76.2 424.1h.1M83.6 411.6h.1M82.1 404.7h.1M78.1 396.6h.1M73.9 410.9h.1M76.9 428.3h.1M82.6 393.7h.1M76.1 409.8h.1M80.9 406.2h.1M71.0 432.5h.1M77.5 422.0h.1M82.6 413.1h.1M72.4 431.2h.1M89.9 392.7h.1M71.6 432.4h.1M139.2 409.8h.1M123.4 423.1h.1M112.7 392.6h.1M126.2 418.4h.1M124.4 394.8h.1M113.1 401.8h.1M127.6 400.8h.1M120.0 408.6h.1M131.6 417.8h.1M106.9 393.9h.1M95.9 391.5h.1M112.9 392.6h.1M134.8 427.3h.1M134.1 426.8h.1M114.0 394.2h.1M128.5 431.2h.1M121.8 414.0h.1M112.2 408.6h.1M111.2 405.5h.1M96.0 411.6h.1M126.6 424.0h.1M117.2 417.5h.1M103.3 394.4h.1M109.4 408.3h.1M131.2 402.0h.1M107.6 405.4h.1M115.7 394.7h.1M126.9 423.8h.1M132.6 412.2h.1M124.1 427.9h.1M89.1 415.0h.1M105.9 396.4h.1M137.8 428.8h.1M121.7 401.0h.1M127.1 414.7h.1M129.1 399.3h.1M116.4 396.2h.1M139.5 411.0h.1M126.0 428.5h.1M112.2 396.6h.1M120.5 403.0h.1M133.4 427.5h.1M120.9 421.7h.1M139.4 418.2h.1M121.6 414.3h.1M105.1 399.2h.1M122.5 401.0h.1M137.6 422.2h.1M111.4 403.1h.1M119.5 418.1h.1M97.2 402.1h.1M128.9 427.0h.1M109.6 401.4h.1M109.2 409.3h.1M106.7 407.2h.1M122.5 404.9h.1M119.7 397.0h.1M136.4 408.0h.1M94.1 398.1h.1M125.1 426.2h.1M112.5 411.2h.1M129.1 404.8h.1M139.5 403.1h.1M97.7 407.6h.1M119.5 398.5h.1M128.3 427.8h.1M127.4 424.1h.1M139.6 409.0h.1M119.3 401.1h.1M104.2 394.6h.1M103.7 401.9h.1M114.2 399.7h.1M104.0 403.0h.1M125.9 396.9h.1M115.5 412.3h.1M115.5 403.4h.1M131.9 432.8h.1M141.4 410.4h.1M102.5 401.2h.1M121.8 417.7h.1M130.8 417.9h.1M124.5 431.5h.1M129.1 397.1h.1M129.4 403.3h.1M123.3 403.3h.1M126.6 415.6h.1M111.5 395.1h.1M121.5 412.2h.1M96.2 394.8h.1M116.7 396.5h.1M127.6 433.8h.1M121.2 403.9h.1M134.6 405.6h.1M138.3 400.5h.1M134.9 404.1h.1M131.5 424.5h.1M123.2 428.7h.1M117.8 402.7h.1M133.8 398.9h.1M118.1 401.5h.1M114.5 419.7h.1M135.7 423.7h.1M125.2 409.1h.1M130.8 426.0h.1M102.4 395.5h.1M106.5 409.8h.1M133.3 435.3h.1M131.6 400.9h.1M99.1 403.8h.1M138.8 410.8h.1M89.1 418.3h.1M115.0 394.3h.1M128.9 404.6h.1M123.4 393.5h.1M137.9 414.7h.1M123.8 421.5h.1M119.8 399.2h.1M125.5 430.0h.1M123.8 405.6h.1M119.9 421.7h.1M113.1 395.5h.1M98.7 415.0h.1M126.3 419.8h.1M122.9 427.6h.1M140.3 423.3h.1M108.0 404.9h.1M112.0 395.7h.1M97.2 418.0h.1M115.8 418.1h.1M103.0 408.0h.1M134.7 411.0h.1M118.6 419.2h.1M136.3 416.1h.1M104.2 402.3h.1M131.6 413.7h.1M125.1 419.5h.1M133.6 411.2h.1M96.0 405.8h.1M129.3 399.6h.1M115.6 395.4h.1M106.1 409.2h.1M129.5 420.6h.1M117.5 393.4h.1M123.7 429.7h.1M120.6 406.8h.1M122.3 419.5h.1M115.6 394.7h.1M104.0 394.7h.1M103.0 405.4h.1M113.6 416.8h.1M107.2 407.5h.1M115.8 404.3h.1M128.1 434.6h.1M106.4 407.0h.1M110.7 399.4h.1M124.7 397.7h.1M87.1 411.0h.1M128.4 416.1h.1M136.3 427.9h.1M125.8 426.0h.1M96.0 412.8h.1M140.2 417.8h.1M134.3 427.1h.1M136.5 432.1h.1M108.5 406.3h.1M120.1 423.9h.1M131.4 397.8h.1M117.6 402.0h.1M128.5 420.9h.1M123.9 422.9h.1M127.7 430.8h.1M135.1 427.2h.1M106.2 410.7h.1M126.6 408.5h.1M108.3 414.2h.1M125.9 416.3h.1M132.2 433.6h.1M89.1 400.7h.1M130.6 429.0h.1" stroke="#d888b6" stroke-width="0.85" stroke-linecap="round" fill="none"/>
<path d="M87.0 397.4h.1M74.5 398.8h.1M87.8 398.8h.1M83.6 393.7h.1M83.6 409.3h.1M72.2 433.3h.1M85.7 395.9h.1M76.1 404.9h.1M78.6 424.9h.1M83.2 409.4h.1M76.5 412.6h.1M84.5 417.5h.1M137.4 399.1h.1M136.4 425.3h.1M93.9 414.3h.1M117.3 420.5h.1M102.3 391.3h.1M129.6 419.0h.1M133.0 426.8h.1M124.3 395.4h.1M121.9 416.1h.1M98.5 400.9h.1M103.1 402.9h.1M131.5 408.1h.1M87.3 403.7h.1M109.3 404.5h.1M125.0 422.5h.1M133.4 428.4h.1M125.2 397.1h.1M134.5 413.3h.1M110.3 407.9h.1M122.5 428.3h.1M115.6 408.1h.1M135.9 405.6h.1M128.9 407.9h.1M103.4 412.5h.1M126.4 408.0h.1M113.7 415.7h.1M126.3 413.6h.1M119.5 403.2h.1M101.3 400.1h.1M138.1 408.5h.1M139.0 398.8h.1M126.3 407.7h.1M124.8 407.5h.1M112.4 412.1h.1M131.1 399.0h.1M108.7 407.0h.1M132.5 416.4h.1M139.0 420.4h.1M111.8 398.2h.1M112.9 393.8h.1M115.0 411.3h.1M101.9 404.8h.1M138.3 404.2h.1M124.0 418.7h.1M123.4 429.4h.1M115.9 421.2h.1M123.0 417.8h.1M123.9 405.1h.1M119.2 400.5h.1M118.1 414.3h.1M126.8 395.3h.1M138.0 400.0h.1M115.8 411.8h.1M111.2 416.7h.1M137.2 423.9h.1M123.7 395.2h.1M119.0 412.6h.1M94.3 412.2h.1M106.3 402.9h.1M140.4 420.0h.1M95.3 411.2h.1M108.2 394.1h.1M115.6 416.4h.1M135.3 435.0h.1M131.9 427.2h.1M139.0 421.0h.1M122.4 411.4h.1M114.4 398.5h.1M101.0 402.6h.1M118.7 396.9h.1M118.7 396.8h.1M100.5 397.5h.1M110.1 400.8h.1M127.4 406.0h.1M114.2 393.9h.1M141.3 412.4h.1M139.9 410.9h.1M136.9 429.5h.1M136.4 413.4h.1M129.9 401.9h.1M117.6 417.5h.1M102.9 405.3h.1M126.2 405.1h.1M114.3 417.1h.1M121.3 420.0h.1M118.4 420.2h.1M138.0 416.1h.1M135.3 396.7h.1M92.1 410.5h.1M137.2 432.2h.1M137.6 404.5h.1M126.8 398.8h.1M128.8 401.5h.1M117.1 394.5h.1M133.0 432.5h.1M111.0 402.6h.1M135.4 418.8h.1M116.7 415.5h.1M123.8 398.4h.1M130.8 396.8h.1M136.3 424.5h.1M131.5 402.2h.1M120.6 416.5h.1M140.6 422.0h.1M139.6 420.1h.1M111.2 408.8h.1M132.4 403.2h.1M104.8 403.6h.1M118.6 423.3h.1M123.4 419.7h.1M130.6 410.3h.1M94.9 399.4h.1M126.0 430.6h.1M123.0 421.8h.1M137.9 416.6h.1M132.8 417.7h.1M94.7 415.9h.1M110.1 392.4h.1M86.9 408.3h.1M132.5 405.6h.1M130.9 416.1h.1M134.9 398.7h.1M133.4 434.8h.1M129.3 426.3h.1M120.2 395.5h.1M102.5 397.4h.1M119.1 398.3h.1M104.3 403.6h.1M119.8 398.4h.1M128.2 435.0h.1M120.7 412.3h.1M135.1 413.7h.1M105.8 397.4h.1M95.8 393.8h.1M122.1 407.8h.1M117.1 408.8h.1M117.0 405.7h.1M108.4 401.8h.1M133.1 425.0h.1M126.8 409.1h.1M133.6 412.6h.1M134.8 398.6h.1M140.2 420.4h.1M95.0 393.4h.1M105.0 394.0h.1M135.7 424.7h.1M134.2 416.1h.1M125.8 425.7h.1M110.1 405.5h.1M131.2 421.1h.1M120.6 411.6h.1M111.4 417.7h.1M112.0 413.3h.1M135.4 431.0h.1M96.5 398.5h.1M114.5 403.1h.1M120.7 402.1h.1M115.0 411.5h.1M109.1 413.6h.1M97.2 392.7h.1" stroke="#dc80aa" stroke-width="0.85" stroke-linecap="round" fill="none"/>
<path d="M178.6 422.8h.1M184.1 434.9h.1M168.5 433.4h.1M177.4 425.7h.1M183.8 427.3h.1M175.0 439.4h.1M155.7 421.3h.1M175.1 420.6h.1M162.6 444.4h.1M156.4 442.7h.1M185.0 417.3h.1M178.3 430.4h.1M167.9 428.6h.1M183.0 443.2h.1M179.2 434.1h.1M177.2 413.2h.1M162.6 422.2h.1M166.7 429.7h.1M177.0 437.2h.1M158.8 423.7h.1M174.4 444.8h.1M183.4 436.4h.1M154.2 412.8h.1M163.0 447.4h.1M169.2 445.5h.1M164.4 415.1h.1M180.1 421.7h.1M176.2 445.4h.1M170.4 428.9h.1M154.8 428.6h.1M186.0 429.4h.1M161.3 422.6h.1M160.1 423.6h.1M171.7 411.2h.1M180.7 420.7h.1M158.3 413.5h.1M163.2 424.2h.1M152.0 418.6h.1M185.6 444.7h.1M168.1 431.0h.1M158.5 443.0h.1M173.1 442.9h.1M177.1 440.0h.1M175.2 439.8h.1M164.1 424.0h.1M185.6 444.6h.1M176.7 425.5h.1M160.0 422.4h.1M156.5 440.0h.1M155.0 427.6h.1M179.3 435.8h.1M182.7 438.2h.1M175.6 444.2h.1M166.3 429.7h.1M163.5 420.1h.1M181.7 423.1h.1M168.9 418.4h.1M174.4 446.4h.1M163.8 446.6h.1M166.3 422.1h.1M168.0 424.0h.1M171.7 414.9h.1M163.1 433.4h.1M167.1 432.0h.1M160.0 431.3h.1M186.2 429.7h.1M159.0 434.0h.1M156.9 411.8h.1M162.9 430.6h.1M166.1 442.5h.1M178.7 413.3h.1M176.1 420.8h.1M178.2 424.4h.1M171.7 445.1h.1M161.8 419.2h.1M161.1 432.4h.1M182.3 415.9h.1M163.4 442.0h.1M162.9 412.6h.1M168.3 434.4h.1M173.4 429.0h.1M159.7 439.8h.1M182.5 419.8h.1M160.8 420.4h.1M167.2 414.8h.1M163.4 442.2h.1M169.9 425.1h.1M170.1 415.2h.1M166.3 428.9h.1M179.6 449.0h.1M170.9 431.1h.1M161.0 447.1h.1M153.0 424.2h.1M176.6 418.2h.1M158.0 422.6h.1M167.9 450.0h.1M158.5 442.8h.1M182.5 425.4h.1M167.4 420.7h.1M158.3 443.2h.1M172.2 445.4h.1M152.0 419.7h.1M164.7 423.6h.1M159.5 444.9h.1M160.5 432.1h.1" stroke="#5e2494" stroke-width="0.85" stroke-linecap="round" fill="none"/>
<path d="M163.9 415.3h.1M160.8 434.4h.1M177.9 447.2h.1M157.7 435.5h.1M170.0 414.8h.1M174.4 440.2h.1M175.6 418.5h.1M166.0 437.5h.1M177.5 415.8h.1M178.1 435.8h.1M174.6 416.4h.1M161.6 437.0h.1M153.9 414.5h.1M157.0 421.2h.1M168.8 421.6h.1M168.9 437.9h.1M164.0 414.9h.1M177.9 435.6h.1M185.4 429.8h.1M165.2 449.0h.1M166.3 439.3h.1M162.6 425.4h.1M176.2 442.3h.1M170.0 411.5h.1M157.3 433.6h.1M181.9 439.9h.1M162.4 446.7h.1M176.6 418.6h.1M162.0 430.5h.1M185.2 420.2h.1M173.2 425.5h.1M177.4 433.7h.1M159.2 419.5h.1M182.3 445.4h.1M173.6 449.2h.1M183.2 418.7h.1M176.1 441.3h.1M157.6 426.7h.1M178.0 417.5h.1M167.5 410.9h.1M167.5 437.6h.1M153.6 423.1h.1M171.8 414.2h.1M184.7 438.0h.1M179.6 414.1h.1M182.2 416.9h.1M182.9 431.1h.1M155.2 412.2h.1M164.8 430.3h.1M158.3 414.2h.1M153.5 417.2h.1M167.7 446.3h.1M175.8 432.4h.1M155.5 441.7h.1M161.4 427.5h.1M155.7 416.5h.1M164.3 423.1h.1M182.3 422.4h.1M153.1 432.6h.1M179.0 432.7h.1M160.1 415.1h.1M158.6 440.0h.1M156.9 417.1h.1M186.7 436.1h.1M160.3 436.5h.1M175.3 438.7h.1M168.2 439.3h.1M150.9 428.5h.1M173.3 448.9h.1M166.1 429.5h.1M170.3 429.9h.1M167.2 432.2h.1M164.7 419.0h.1M155.1 427.5h.1M164.8 437.2h.1M179.8 430.1h.1M158.7 438.6h.1M166.0 413.0h.1M167.2 415.4h.1M155.8 418.0h.1M173.8 446.5h.1M190.6 431.4h.1M162.4 417.4h.1M155.6 420.9h.1M178.2 413.1h.1M153.9 438.6h.1M156.1 433.9h.1M160.3 429.0h.1M171.4 433.8h.1M168.4 446.0h.1M167.9 443.8h.1M162.6 434.3h.1M160.7 438.8h.1M160.7 430.9h.1M176.1 429.3h.1M155.1 428.3h.1M156.2 430.6h.1M173.5 436.2h.1M182.2 440.9h.1M184.7 435.0h.1M163.4 425.5h.1M171.7 414.1h.1M175.2 446.2h.1M168.0 432.1h.1M176.9 415.7h.1M162.7 441.9h.1M171.3 435.8h.1M170.7 439.4h.1" stroke="#9044a8" stroke-width="0.85" stroke-linecap="round" fill="none"/>
<path d="M156.5 442.3h.1M160.5 433.7h.1M168.4 432.6h.1M178.5 439.6h.1M156.5 426.7h.1M152.8 421.0h.1M164.0 428.3h.1M169.2 441.8h.1M179.5 446.0h.1M168.0 411.7h.1M164.4 433.7h.1M181.4 441.9h.1M159.7 429.5h.1M180.6 421.7h.1M156.8 434.4h.1M177.3 444.3h.1M172.2 416.8h.1M178.4 432.2h.1M181.8 429.1h.1M174.7 427.6h.1M175.9 411.8h.1M175.1 439.1h.1M169.2 421.9h.1M190.8 437.5h.1M174.7 428.0h.1M157.1 426.0h.1M185.1 436.9h.1M180.1 423.7h.1M165.3 447.4h.1M170.7 436.7h.1M159.4 417.0h.1M153.8 413.8h.1M165.1 418.7h.1M167.0 423.2h.1M157.9 432.3h.1M163.8 439.6h.1M181.7 422.6h.1M159.3 435.0h.1M151.1 426.3h.1M177.3 446.0h.1M168.3 447.5h.1M155.2 441.0h.1M152.7 425.3h.1M180.5 432.8h.1M160.5 414.0h.1M190.7 427.9h.1M158.3 443.4h.1M167.5 412.8h.1M174.3 448.7h.1M190.6 427.6h.1M174.1 431.7h.1M169.1 433.4h.1M167.5 448.6h.1M170.2 431.7h.1M173.4 443.8h.1M181.1 440.2h.1M159.5 414.6h.1M166.4 411.8h.1M170.9 415.7h.1M163.4 439.9h.1M160.6 445.0h.1M172.0 425.8h.1M161.0 445.9h.1M159.5 442.7h.1M184.1 424.7h.1M181.6 436.4h.1M173.4 450.4h.1M163.3 431.1h.1M161.3 417.9h.1M169.0 410.4h.1M155.1 415.5h.1M150.9 427.0h.1M167.6 430.3h.1M160.4 419.0h.1M158.1 437.9h.1M169.6 447.2h.1M178.9 435.8h.1M171.7 448.6h.1M161.6 434.9h.1M182.0 423.3h.1M177.2 418.0h.1M171.2 429.0h.1M179.3 437.9h.1M178.7 436.5h.1M153.1 433.8h.1M161.9 420.3h.1M183.8 433.2h.1M165.0 416.3h.1M160.0 411.2h.1M158.6 430.4h.1M162.0 443.6h.1M172.5 423.8h.1M154.0 430.4h.1M169.5 442.9h.1M174.1 423.3h.1M156.1 415.0h.1M155.4 416.2h.1M153.3 427.3h.1M176.5 442.8h.1M154.2 435.1h.1M179.5 446.7h.1M181.5 428.9h.1M163.7 410.9h.1M164.9 412.0h.1M154.7 422.1h.1M176.9 436.3h.1M165.5 419.4h.1M178.5 420.9h.1M158.9 435.4h.1M171.3 442.9h.1M175.8 424.6h.1M161.3 441.8h.1" stroke="#a656ac" stroke-width="0.85" stroke-linecap="round" fill="none"/>
<path d="M184.4 428.2h.1M171.4 414.3h.1M165.5 436.4h.1M172.5 412.9h.1M185.4 420.7h.1M167.8 416.6h.1M182.2 423.2h.1M174.6 449.9h.1M171.8 423.9h.1M181.7 443.8h.1M165.4 414.2h.1M163.5 440.0h.1M180.0 439.4h.1M174.0 449.0h.1M172.6 425.9h.1M190.6 435.3h.1M178.0 449.9h.1M169.4 435.4h.1M162.8 423.5h.1M157.0 430.6h.1M162.7 421.2h.1M170.1 437.5h.1M162.8 413.2h.1M176.7 427.6h.1M157.3 429.9h.1M183.1 428.9h.1M153.5 422.2h.1M167.2 432.0h.1M171.0 449.4h.1M159.2 430.8h.1M168.1 446.5h.1M185.3 426.8h.1M155.8 426.2h.1M180.9 414.9h.1M160.2 412.8h.1M161.3 413.2h.1M167.2 439.0h.1M170.6 449.7h.1M170.2 436.4h.1M175.0 421.7h.1M163.0 429.2h.1M177.2 412.9h.1M175.3 431.2h.1M156.6 440.8h.1M175.7 432.3h.1M157.8 418.4h.1M177.8 420.6h.1M164.1 425.7h.1M157.9 441.1h.1M152.9 416.9h.1M155.2 412.8h.1M151.0 421.2h.1M164.8 431.2h.1M172.0 427.8h.1M161.6 445.6h.1M165.9 431.1h.1M185.2 418.4h.1M175.4 439.9h.1M163.1 425.3h.1M175.0 436.6h.1M170.7 419.1h.1M172.2 424.5h.1M186.7 444.6h.1M190.9 436.8h.1M184.7 422.1h.1M157.9 427.1h.1M152.6 425.0h.1M182.7 433.5h.1M160.7 431.0h.1M156.2 434.0h.1M169.1 423.5h.1M162.0 419.6h.1M184.7 445.6h.1M162.1 431.2h.1M166.2 419.2h.1M171.3 420.4h.1M170.1 420.4h.1M173.5 444.9h.1M173.3 449.1h.1M178.0 445.9h.1M169.6 429.4h.1M155.5 425.2h.1M177.3 427.8h.1M164.8 417.2h.1M182.1 439.7h.1M162.6 427.2h.1M162.7 422.3h.1M162.1 439.4h.1M173.8 423.7h.1M174.8 412.0h.1M179.6 431.8h.1M166.9 426.7h.1M162.6 421.1h.1M167.3 425.5h.1M182.5 422.2h.1M164.4 430.7h.1" stroke="#9a4caa" stroke-width="0.85" stroke-linecap="round" fill="none"/>
<path d="M165.0 414.8h.1M155.3 434.9h.1M165.7 429.3h.1M166.0 435.5h.1M153.4 418.0h.1M181.2 426.4h.1M183.2 430.6h.1M153.7 416.9h.1M177.5 443.6h.1M164.4 441.6h.1M174.0 434.7h.1M171.5 434.3h.1M179.1 427.2h.1M171.6 449.6h.1M174.2 444.6h.1M154.5 438.9h.1M184.0 443.0h.1M178.6 441.2h.1M184.0 443.3h.1M151.3 425.0h.1M178.4 415.7h.1M179.0 427.9h.1M180.2 422.0h.1M153.4 435.1h.1M161.3 423.4h.1M155.7 422.0h.1M174.0 419.2h.1M172.1 431.6h.1M151.4 427.6h.1M184.7 439.4h.1M169.1 419.3h.1M179.5 423.4h.1M184.2 436.7h.1M167.0 413.3h.1M173.3 443.2h.1M169.8 445.9h.1M175.1 423.0h.1M174.4 432.7h.1M173.9 411.2h.1M177.7 412.4h.1M161.0 424.6h.1M170.2 428.3h.1M155.9 418.7h.1M180.2 443.1h.1M161.5 412.9h.1M166.0 440.2h.1M158.4 431.9h.1M159.5 413.3h.1M153.3 436.6h.1M175.0 420.0h.1M182.4 416.2h.1M171.1 428.0h.1M169.5 433.2h.1M151.7 427.2h.1M173.3 440.8h.1M179.3 430.9h.1M157.1 437.0h.1M178.8 432.4h.1M183.3 415.9h.1M175.3 449.6h.1M158.1 443.5h.1M184.2 446.6h.1M180.9 428.0h.1M183.1 436.8h.1M164.0 418.7h.1M178.6 426.2h.1M171.5 419.0h.1M175.4 428.5h.1M167.4 412.5h.1M159.9 428.4h.1M182.7 438.4h.1M152.5 427.3h.1M162.1 440.9h.1M177.6 419.0h.1M183.7 422.2h.1M176.8 423.3h.1M174.0 447.2h.1M163.2 418.3h.1M156.5 432.0h.1M182.3 438.1h.1M181.4 434.9h.1M180.6 421.6h.1M179.5 445.0h.1M168.9 411.4h.1M170.2 422.1h.1M159.5 413.0h.1M180.6 429.9h.1M174.6 439.8h.1M162.8 425.3h.1M177.0 412.7h.1M160.7 416.6h.1M160.4 445.4h.1M164.9 430.5h.1M170.6 434.4h.1M150.8 430.9h.1M169.3 412.9h.1M161.2 420.6h.1M184.5 421.5h.1M173.0 430.7h.1M169.6 450.3h.1M172.5 420.8h.1M157.8 439.5h.1M177.7 421.6h.1M158.1 427.5h.1M172.8 430.9h.1M161.5 431.4h.1M175.8 430.3h.1M181.8 426.5h.1M169.7 417.6h.1M157.7 419.0h.1M164.4 434.9h.1M154.9 432.7h.1M179.7 421.6h.1M160.4 438.5h.1M161.6 444.4h.1M165.6 411.0h.1M156.0 420.1h.1M176.4 446.1h.1" stroke="#7a36a2" stroke-width="0.85" stroke-linecap="round" fill="none"/>
<path d="M174.9 430.1h.1M164.3 413.6h.1M171.9 449.5h.1M179.2 429.4h.1M182.6 421.7h.1M173.4 439.5h.1M172.9 437.9h.1M172.6 433.6h.1M156.4 420.5h.1M168.7 419.9h.1M171.4 416.5h.1M154.7 413.2h.1M173.1 418.7h.1M155.4 416.3h.1M175.2 418.2h.1M182.9 446.3h.1M178.9 418.2h.1M162.0 435.6h.1M167.0 448.9h.1M175.5 447.5h.1M161.0 436.6h.1M153.4 430.2h.1M177.6 417.6h.1M151.3 426.9h.1M178.2 441.3h.1M167.5 419.9h.1M162.4 431.6h.1M174.2 438.8h.1M178.5 414.2h.1M174.9 447.0h.1M157.7 425.9h.1M155.7 427.2h.1M179.2 433.8h.1M166.2 441.4h.1M178.3 446.8h.1M175.3 446.8h.1M167.9 424.5h.1M171.1 436.1h.1M167.1 429.9h.1M164.2 413.2h.1M167.2 418.2h.1M177.3 436.7h.1M169.6 432.5h.1M184.6 433.0h.1M168.4 429.6h.1M160.9 424.5h.1M164.0 445.3h.1M156.5 439.3h.1M182.0 442.4h.1M177.8 432.7h.1M160.1 422.1h.1M159.1 411.4h.1M157.6 413.9h.1M158.4 426.9h.1M169.1 412.6h.1M190.8 436.1h.1M184.3 436.1h.1M161.2 411.6h.1M171.1 436.2h.1M151.4 433.6h.1M163.7 441.1h.1M184.5 442.1h.1M154.7 413.6h.1M169.3 422.5h.1M154.3 427.5h.1M183.3 437.1h.1M161.8 439.2h.1M174.3 441.8h.1M171.6 443.3h.1M181.9 447.9h.1M181.3 423.7h.1M190.6 426.2h.1M175.2 439.0h.1M178.2 412.8h.1M169.0 435.3h.1M175.6 432.7h.1M173.0 421.9h.1M176.4 447.5h.1M160.1 433.8h.1M155.3 414.6h.1M162.8 414.4h.1M169.2 421.0h.1M172.8 418.4h.1M189.9 431.7h.1M159.5 414.2h.1M155.8 438.9h.1M163.1 430.6h.1M167.4 416.5h.1M172.5 436.3h.1M166.2 442.7h.1M159.9 419.8h.1M161.1 418.6h.1M164.8 410.2h.1M155.5 416.7h.1M160.2 430.6h.1M173.9 445.3h.1M158.8 420.5h.1M163.5 437.2h.1M171.7 438.1h.1M158.6 414.3h.1M157.1 427.1h.1M167.9 426.4h.1M162.9 427.4h.1M159.8 417.2h.1M160.1 442.2h.1M152.2 424.2h.1M167.1 436.9h.1" stroke="#bc6cb2" stroke-width="0.85" stroke-linecap="round" fill="none"/>
<path d="M152.3 406.4h.1M145.2 412.2h.1M144.4 428.7h.1M146.5 401.8h.1M146.4 407.0h.1M145.7 432.9h.1M145.1 418.3h.1M147.4 410.1h.1M144.5 421.7h.1M143.8 421.4h.1M153.4 413.6h.1M148.9 420.5h.1M150.7 411.1h.1M155.8 409.3h.1M146.9 427.5h.1M144.9 420.2h.1M151.0 407.6h.1M145.0 429.1h.1M152.1 406.7h.1M144.6 404.5h.1M144.3 421.6h.1M148.5 409.9h.1M144.6 426.3h.1M143.9 405.6h.1M147.7 405.2h.1M143.0 430.1h.1M147.8 413.6h.1M153.2 407.2h.1M143.3 432.3h.1M144.4 405.7h.1M150.8 406.4h.1M144.8 424.1h.1M143.6 420.4h.1M142.8 425.4h.1M150.1 405.9h.1M148.1 424.7h.1M145.9 423.5h.1M142.0 412.7h.1M141.5 401.4h.1M144.3 418.7h.1M145.4 411.8h.1M147.1 405.3h.1M148.8 413.3h.1M142.7 422.1h.1M145.5 410.4h.1M146.3 428.9h.1M149.8 425.6h.1M161.0 410.1h.1M160.8 409.1h.1M150.6 427.5h.1M149.0 404.7h.1M150.2 405.2h.1M145.9 432.7h.1M140.5 430.9h.1M142.5 419.8h.1M150.3 416.5h.1M153.9 411.1h.1M150.0 403.5h.1M145.0 410.3h.1M149.8 421.3h.1M148.7 408.2h.1M141.8 424.0h.1M144.4 401.7h.1M158.0 410.5h.1M146.6 406.1h.1M141.6 427.8h.1M152.1 417.2h.1M144.2 432.4h.1M143.6 433.3h.1M143.9 430.0h.1M148.6 421.0h.1M146.6 429.4h.1M156.2 410.8h.1M159.5 409.5h.1M146.5 408.8h.1M145.6 409.8h.1M139.8 429.5h.1M148.5 411.8h.1M148.0 417.8h.1M151.4 417.3h.1M152.1 413.1h.1M141.8 417.2h.1" stroke="#e090a8" stroke-width="0.85" stroke-linecap="round" fill="none"/>
<path d="M141.2 420.9h.1M146.4 404.3h.1M144.3 413.7h.1M141.9 428.4h.1M149.7 414.4h.1M145.1 431.1h.1M148.9 416.9h.1M140.8 427.4h.1M154.8 407.6h.1M147.1 415.2h.1M155.5 406.6h.1M153.7 405.5h.1M150.2 420.0h.1M149.1 415.7h.1M146.8 429.2h.1M150.3 406.5h.1M142.2 403.7h.1M152.9 412.7h.1M146.1 404.9h.1M160.7 410.5h.1M140.5 399.5h.1M147.5 420.8h.1M141.6 403.0h.1M160.5 409.6h.1M143.2 413.5h.1M145.8 411.8h.1M150.6 411.3h.1M149.7 408.0h.1M149.5 413.6h.1M148.6 408.5h.1M148.7 403.0h.1M145.1 409.9h.1M143.8 415.0h.1M147.6 418.4h.1M163.0 409.9h.1M147.5 427.1h.1M150.3 412.4h.1M146.5 416.3h.1M143.8 408.8h.1M148.1 408.6h.1M147.9 433.6h.1M146.1 418.1h.1M143.2 427.3h.1M163.8 409.7h.1M143.3 428.7h.1M143.8 405.9h.1M147.4 427.1h.1M145.7 427.7h.1M146.3 406.0h.1M155.4 406.6h.1M145.8 422.6h.1M146.5 411.4h.1M148.6 418.1h.1M161.1 409.7h.1M142.2 419.9h.1M144.0 418.0h.1M145.9 403.0h.1M141.2 426.1h.1M147.0 411.7h.1M143.3 407.3h.1M158.2 409.6h.1M153.2 408.9h.1M145.2 419.7h.1M142.4 418.2h.1M144.4 409.4h.1M147.8 430.9h.1M153.1 405.3h.1" stroke="#b866b0" stroke-width="0.85" stroke-linecap="round" fill="none"/>
<path d="M149.5 408.0h.1M141.3 422.6h.1M154.0 409.6h.1M147.2 417.4h.1M143.4 402.3h.1M147.7 402.4h.1M151.4 406.9h.1M148.1 418.6h.1M159.7 409.5h.1M142.2 417.3h.1M153.2 410.9h.1M153.0 412.7h.1M145.0 412.5h.1M143.0 423.1h.1M142.2 420.7h.1M148.7 410.1h.1M144.0 423.5h.1M152.6 407.4h.1M147.2 418.5h.1M147.9 421.4h.1M152.2 416.0h.1M156.7 411.0h.1M150.8 420.9h.1M143.6 417.6h.1M144.7 406.9h.1M144.6 404.8h.1M140.1 432.2h.1M154.8 411.7h.1M145.4 429.7h.1M141.0 427.5h.1M142.0 425.9h.1M145.5 417.8h.1M144.3 418.8h.1M146.5 424.7h.1M142.1 415.4h.1M146.7 430.6h.1M148.0 427.2h.1M144.2 411.2h.1M145.6 412.4h.1M144.1 418.1h.1M148.0 429.5h.1M145.4 435.2h.1M142.7 409.4h.1M155.7 411.4h.1M144.2 414.9h.1M144.7 429.7h.1M144.9 431.0h.1M143.9 428.0h.1M148.3 408.4h.1M146.1 422.3h.1M142.5 417.5h.1M142.9 426.7h.1M158.0 410.9h.1M146.6 402.2h.1M143.7 415.0h.1M142.2 408.1h.1M140.0 429.7h.1M147.5 412.3h.1M149.2 414.6h.1M149.0 415.1h.1M150.6 404.0h.1M146.8 422.3h.1M146.6 412.4h.1M155.5 410.3h.1M144.5 421.3h.1M144.0 401.1h.1" stroke="#9a50a8" stroke-width="0.85" stroke-linecap="round" fill="none"/>
<path d="M150.7 407.7h.1M145.4 425.1h.1M151.1 416.2h.1M145.5 429.0h.1M148.5 404.6h.1M144.2 430.9h.1M148.4 426.4h.1M141.1 425.4h.1M156.5 407.8h.1M149.6 431.3h.1M142.4 417.3h.1M155.4 407.6h.1M157.0 407.2h.1M152.6 408.5h.1M147.2 415.4h.1M143.9 413.3h.1M147.6 410.4h.1M153.9 407.1h.1M142.0 414.4h.1M148.1 413.7h.1M149.3 411.7h.1M155.3 406.1h.1M143.6 416.0h.1M142.1 406.2h.1M154.2 405.8h.1M141.9 400.6h.1M160.8 409.3h.1M144.7 401.5h.1M145.4 418.0h.1M147.2 426.5h.1M142.7 423.2h.1M150.0 418.8h.1M143.7 412.7h.1M141.3 429.0h.1M147.0 415.3h.1M151.2 415.9h.1M157.7 409.5h.1M148.3 426.8h.1M148.5 428.5h.1M160.3 408.5h.1M158.2 410.4h.1M141.2 423.0h.1M143.5 410.2h.1M145.9 430.8h.1M147.8 411.0h.1M153.7 407.4h.1M142.4 409.8h.1M143.5 418.3h.1M144.6 421.1h.1M147.9 422.4h.1M147.3 431.8h.1M150.0 431.0h.1M142.7 431.8h.1M142.4 418.9h.1M141.0 401.5h.1M157.2 409.6h.1M153.0 414.9h.1M144.3 404.9h.1M150.8 417.6h.1M145.8 402.4h.1M147.7 408.7h.1M142.7 421.8h.1M148.5 426.8h.1M142.3 429.2h.1M149.0 431.2h.1M141.0 401.2h.1M148.4 408.1h.1M144.9 401.4h.1M147.3 413.8h.1M146.3 408.1h.1M143.3 421.3h.1M144.9 415.3h.1M149.9 419.7h.1M143.9 426.9h.1M145.4 421.5h.1M155.0 409.1h.1M146.1 413.3h.1M163.8 409.6h.1M149.8 415.4h.1M144.0 433.5h.1M146.6 403.2h.1M143.0 425.0h.1M143.0 405.9h.1M150.0 431.5h.1M149.8 428.0h.1" stroke="#d080b4" stroke-width="0.85" stroke-linecap="round" fill="none"/>
<path d="M67.7 462.8h.1M62.0 463.5h.1M63.3 435.7h.1M63.5 460.2h.1M69.4 475.6h.1M80.9 462.4h.1M74.7 476.3h.1M69.9 462.3h.1M57.5 448.6h.1M62.1 439.8h.1M72.1 465.0h.1M65.7 441.6h.1M68.5 467.6h.1M70.3 458.7h.1M83.4 477.0h.1M61.3 438.7h.1M70.0 448.2h.1M61.9 465.6h.1M61.9 442.5h.1M55.4 451.3h.1M89.0 464.3h.1M50.2 437.4h.1M65.8 451.6h.1M50.2 438.7h.1M77.1 478.2h.1M67.9 470.7h.1M78.2 457.7h.1M74.9 460.1h.1M53.7 453.0h.1M59.7 456.6h.1M68.5 437.8h.1M75.7 477.5h.1M85.9 460.0h.1M60.1 456.5h.1M68.8 448.9h.1M70.1 466.8h.1M70.1 442.1h.1M71.7 440.3h.1M66.9 443.1h.1M59.0 434.1h.1M71.5 438.0h.1M65.5 465.6h.1M70.1 450.6h.1M85.8 459.7h.1M65.9 438.8h.1M62.8 448.4h.1M78.7 476.2h.1M69.4 452.3h.1M70.9 439.8h.1M85.9 476.2h.1M68.2 444.2h.1M84.5 478.4h.1M72.8 473.9h.1M71.2 469.8h.1M66.3 449.0h.1M76.4 472.6h.1M68.0 447.3h.1M65.3 455.6h.1" stroke="#e07a80" stroke-width="0.85" stroke-linecap="round" fill="none"/>
<path d="M55.9 455.5h.1M69.7 448.5h.1M70.6 442.8h.1M60.9 449.9h.1M59.2 453.4h.1M62.4 443.3h.1M81.4 478.0h.1M71.2 469.7h.1M57.3 449.3h.1M68.7 448.9h.1M63.7 470.1h.1M77.7 459.8h.1M63.9 444.7h.1M65.0 459.7h.1M59.7 455.3h.1M64.4 449.0h.1M63.5 458.7h.1M70.3 471.4h.1M73.4 440.7h.1M69.1 474.9h.1M82.6 460.3h.1M52.8 449.0h.1M64.5 457.4h.1M56.0 441.0h.1M54.9 448.6h.1M72.7 444.1h.1M76.0 474.7h.1M82.4 460.4h.1M61.6 461.2h.1M64.0 448.0h.1M59.0 451.1h.1M68.0 464.4h.1M78.0 462.2h.1M75.3 464.2h.1M55.7 437.5h.1M68.7 475.8h.1M75.8 471.2h.1M67.7 462.4h.1M54.1 446.7h.1M70.9 440.1h.1M68.0 467.1h.1M85.7 475.9h.1M68.1 436.1h.1M66.6 433.4h.1M69.3 468.9h.1M70.1 474.2h.1M73.5 442.0h.1M64.0 467.2h.1M71.3 464.8h.1M69.1 476.4h.1M60.0 442.7h.1M51.2 441.1h.1M63.0 449.2h.1M61.3 463.3h.1M71.3 460.5h.1M69.7 444.6h.1M82.7 460.6h.1M70.8 475.0h.1M64.5 444.9h.1M70.3 440.1h.1M90.4 468.8h.1M54.8 448.6h.1M88.6 466.0h.1M61.2 444.1h.1M52.1 439.5h.1M65.8 443.3h.1M77.0 476.4h.1M56.2 456.0h.1M56.3 457.2h.1M67.5 469.8h.1M51.9 442.6h.1M80.6 462.7h.1M60.5 455.3h.1" stroke="#d87098" stroke-width="0.85" stroke-linecap="round" fill="none"/>
<path d="M52.5 435.6h.1M61.6 461.7h.1M81.9 478.3h.1M53.9 448.9h.1M51.8 440.6h.1M57.4 449.9h.1M76.3 475.2h.1M73.0 443.2h.1M51.7 448.0h.1M79.9 458.8h.1M55.9 443.9h.1M77.4 477.0h.1M64.8 436.5h.1M89.9 470.8h.1M78.6 463.3h.1M66.6 464.2h.1M51.9 441.8h.1M72.8 469.9h.1M75.7 472.3h.1M76.2 465.7h.1M69.5 458.2h.1M60.4 451.9h.1M64.2 433.4h.1M58.3 447.0h.1M73.7 466.7h.1M70.7 455.7h.1M55.2 440.6h.1M69.6 437.7h.1M77.2 461.7h.1M51.4 438.8h.1M65.5 469.1h.1M65.6 437.2h.1M54.5 446.5h.1M90.9 463.9h.1M55.5 439.3h.1M78.1 478.7h.1M65.5 461.2h.1M61.0 454.7h.1M67.0 452.1h.1M69.1 470.3h.1M63.5 446.2h.1M52.4 443.0h.1M73.6 470.9h.1M57.5 447.3h.1M72.9 462.9h.1M73.2 458.9h.1M64.7 461.5h.1M90.4 470.6h.1M55.8 438.2h.1M89.6 470.2h.1M57.2 437.7h.1M76.3 472.3h.1M64.8 461.1h.1M71.3 463.7h.1M68.8 436.6h.1M73.1 462.7h.1M55.3 434.0h.1M88.2 461.5h.1M53.5 454.8h.1M78.4 475.5h.1M75.0 470.6h.1M63.9 465.5h.1M70.6 437.4h.1M63.9 443.8h.1" stroke="#c05ca4" stroke-width="0.85" stroke-linecap="round" fill="none"/>
<path d="M57.9 440.0h.1M61.8 458.7h.1M53.0 448.7h.1M73.0 454.7h.1M53.9 448.8h.1M54.0 447.8h.1M71.4 454.4h.1M87.8 477.3h.1M66.5 466.8h.1M67.7 436.9h.1M77.8 458.8h.1M64.4 434.5h.1M63.0 449.8h.1M68.7 445.8h.1M78.5 457.7h.1M58.3 452.9h.1M67.9 440.1h.1M59.0 451.9h.1M92.0 466.6h.1M67.0 475.0h.1M56.4 441.0h.1M87.0 475.5h.1M89.1 473.1h.1M70.0 450.8h.1M88.2 465.7h.1M63.7 446.2h.1M69.8 434.5h.1M59.1 445.8h.1M62.4 436.4h.1M72.4 443.2h.1M63.3 454.8h.1M58.5 442.0h.1M69.7 444.9h.1M76.0 466.2h.1M78.1 458.5h.1M71.2 469.0h.1M54.3 450.7h.1M68.0 459.6h.1M67.0 460.9h.1M64.9 472.6h.1M68.2 467.9h.1M64.8 453.0h.1M76.4 476.1h.1M64.1 441.2h.1M56.9 458.2h.1M54.8 447.3h.1M70.3 465.0h.1M69.6 472.6h.1M63.0 451.9h.1M73.0 477.6h.1M60.3 440.2h.1M76.9 460.6h.1M60.6 459.1h.1M53.8 437.5h.1" stroke="#e6888e" stroke-width="0.85" stroke-linecap="round" fill="none"/>
<path d="M69.4 463.0h.1M59.3 439.9h.1M53.2 435.6h.1M73.7 470.9h.1M69.5 439.7h.1M72.8 459.5h.1M73.2 439.4h.1M56.7 446.7h.1M66.1 470.0h.1M54.0 446.8h.1M67.6 460.2h.1M74.7 470.7h.1M77.9 462.5h.1M67.8 441.5h.1M50.5 436.5h.1M75.5 478.7h.1M88.3 476.2h.1M83.6 476.0h.1M58.9 449.5h.1M91.4 470.1h.1M64.2 437.6h.1M79.6 460.9h.1M72.1 438.5h.1M66.6 446.7h.1M51.9 443.8h.1M59.5 439.4h.1M69.6 462.4h.1M48.4 434.8h.1M76.2 472.3h.1M74.0 476.2h.1M69.9 459.9h.1M70.9 454.8h.1M57.3 455.4h.1M74.8 440.5h.1M63.7 460.5h.1M65.8 474.0h.1M64.9 447.3h.1M64.9 448.4h.1M73.6 433.4h.1M62.4 458.1h.1M71.0 444.7h.1M81.0 458.8h.1M69.5 448.1h.1M78.6 477.9h.1M52.7 446.3h.1M89.9 472.2h.1M89.5 473.9h.1M90.7 470.1h.1M56.7 447.3h.1M68.0 453.5h.1M59.2 445.6h.1M52.5 449.7h.1M53.7 447.9h.1M63.5 464.8h.1M55.6 453.6h.1M65.2 438.4h.1M60.6 434.3h.1M74.6 456.8h.1M67.7 456.2h.1M86.9 478.5h.1M68.4 471.3h.1M53.8 435.7h.1M64.7 457.0h.1M65.6 435.6h.1M71.2 440.8h.1M69.7 438.9h.1M58.7 460.7h.1M75.6 436.6h.1M65.7 461.0h.1M69.7 458.4h.1M53.6 438.5h.1M70.1 458.5h.1M69.6 462.1h.1M58.0 460.3h.1" stroke="#a84ea4" stroke-width="0.85" stroke-linecap="round" fill="none"/>
<path d="M90.3 475.1h.1M89.7 470.7h.1M88.9 470.2h.1M89.6 469.4h.1M85.6 476.9h.1M92.0 473.0h.1M90.9 475.3h.1M86.4 477.1h.1M88.9 475.4h.1M87.2 471.1h.1M90.1 476.1h.1M86.4 469.5h.1" stroke="#d8708c" stroke-width="0.85" stroke-linecap="round" fill="none"/>
<path d="M88.4 473.3h.1M90.3 472.5h.1M86.6 475.5h.1M91.2 474.5h.1M88.6 472.5h.1M90.1 472.2h.1M86.0 476.5h.1M88.6 471.8h.1M89.9 472.3h.1M90.3 468.3h.1" stroke="#e47888" stroke-width="0.85" stroke-linecap="round" fill="none"/>
<path d="M134.0 437.0h.1M140.8 442.0h.1M139.5 443.3h.1M141.7 438.7h.1M133.7 439.1h.1M133.3 437.9h.1M140.5 443.6h.1M133.5 439.5h.1M141.3 442.5h.1M138.1 444.1h.1M140.9 437.7h.1M139.3 437.9h.1M133.5 437.0h.1M131.5 439.2h.1M139.7 443.5h.1M143.6 442.8h.1M134.6 443.1h.1" stroke="#a060a8" stroke-width="0.85" stroke-linecap="round" fill="none"/>
<path d="M141.1 439.1h.1M139.7 444.1h.1M138.2 437.1h.1M142.0 442.3h.1M137.5 442.7h.1M134.1 437.9h.1M140.2 442.0h.1M136.8 442.8h.1M136.7 441.6h.1M144.1 439.4h.1M134.5 440.5h.1M131.8 438.2h.1M143.0 444.1h.1" stroke="#b870b0" stroke-width="0.85" stroke-linecap="round" fill="none"/>
</g>
<defs><linearGradient id="pl" x1="0" y1="0" x2="0" y2="1"><stop offset="0" stop-color="#2a0878"/><stop offset="0.25" stop-color="#6a1aa4"/><stop offset="0.5" stop-color="#b83590"/><stop offset="0.7" stop-color="#e8626a"/><stop offset="0.85" stop-color="#f7a03a"/><stop offset="1" stop-color="#f8d834"/></linearGradient></defs>
<rect x="194.00" y="387.90" width="4.10" height="22.90" fill="url(#pl)"/>
<text x="199.60" y="394.40" font-size="6.8" fill="#444">0.6</text>
<text x="199.60" y="400.70" font-size="6.8" fill="#444">0.4</text>
<text x="199.60" y="406.40" font-size="6.8" fill="#444">0.2</text>
<line x1="17.90" y1="458.70" x2="17.90" y2="483.20" stroke="#222" stroke-width="1.0"/>
<line x1="17.40" y1="482.70" x2="42.10" y2="482.70" stroke="#222" stroke-width="1.0"/>
<text x="13.60" y="470.50" font-size="7.0" fill="#3a3a3a" text-anchor="middle" textLength="20.20" lengthAdjust="spacingAndGlyphs" transform="rotate(-90 13.60 470.50)" stroke="#3a3a3a" stroke-width="0.15">UMAP2</text>
<text x="30.10" y="491.60" font-size="7.0" fill="#3a3a3a" text-anchor="middle" textLength="19.30" lengthAdjust="spacingAndGlyphs" stroke="#3a3a3a" stroke-width="0.15">UMAP1</text>
<text x="6.30" y="519.10" font-size="11.8" fill="#111" font-weight="bold">K</text>
<text x="50.50" y="527.00" font-size="7.4" fill="#111" font-weight="bold" textLength="119.20" lengthAdjust="spacingAndGlyphs">Enrichr Conserved Markers per Cluster</text>
<text x="43.00" y="539.00" font-size="5.8" fill="#2a2a2a" textLength="98.50" lengthAdjust="spacingAndGlyphs" stroke="#2a2a2a" stroke-width="0.12">The Core Human Microglia Signature (H)</text>
<rect x="145.60" y="533.30" width="7.70" height="7.38" fill="#2aa58e"/>
<rect x="153.30" y="533.30" width="7.70" height="7.38" fill="#a2c83a"/>
<rect x="161.00" y="533.30" width="7.70" height="7.38" fill="#2695a5"/>
<text x="47.00" y="546.38" font-size="5.8" fill="#2a2a2a" textLength="94.50" lengthAdjust="spacingAndGlyphs" stroke="#2a2a2a" stroke-width="0.12">Severe global developmental delay (N)</text>
<rect x="161.00" y="540.68" width="7.70" height="7.38" fill="#24949c"/>
<text x="79.00" y="553.76" font-size="5.8" fill="#2a2a2a" textLength="62.50" lengthAdjust="spacingAndGlyphs" stroke="#2a2a2a" stroke-width="0.12">Response To Cytokine (G)</text>
<rect x="145.60" y="548.06" width="7.70" height="7.38" fill="#24949c"/>
<rect x="153.30" y="548.06" width="7.70" height="7.38" fill="#24949c"/>
<text x="14.60" y="561.14" font-size="5.8" fill="#2a2a2a" textLength="126.90" lengthAdjust="spacingAndGlyphs" stroke="#2a2a2a" stroke-width="0.12">Regulation Of Tumor Necrosis Factor Production (G)</text>
<rect x="145.60" y="555.44" width="7.70" height="7.38" fill="#24949c"/>
<rect x="153.30" y="555.44" width="7.70" height="7.38" fill="#24949c"/>
<rect x="161.00" y="555.44" width="7.70" height="7.38" fill="#24949c"/>
<text x="70.80" y="568.52" font-size="5.8" fill="#2a2a2a" textLength="70.70" lengthAdjust="spacingAndGlyphs" stroke="#2a2a2a" stroke-width="0.12">Proteasome Degradation (W)</text>
<rect x="145.60" y="562.82" width="7.70" height="7.38" fill="#24949c"/>
<rect x="168.70" y="562.82" width="7.70" height="7.38" fill="#23909a"/>
<rect x="176.40" y="562.82" width="7.70" height="7.38" fill="#23909a"/>
<text x="100.50" y="575.90" font-size="5.8" fill="#2a2a2a" textLength="41.00" lengthAdjust="spacingAndGlyphs" stroke="#2a2a2a" stroke-width="0.12">Phagocytosis (G)</text>
<rect x="153.30" y="570.20" width="7.70" height="7.38" fill="#24949c"/>
<rect x="161.00" y="570.20" width="7.70" height="7.38" fill="#26979e"/>
<text x="8.00" y="583.28" font-size="5.8" fill="#2a2a2a" textLength="133.50" lengthAdjust="spacingAndGlyphs" stroke="#2a2a2a" stroke-width="0.12">Microglia (Type 2) Gene Module From Human Brain (H)</text>
<rect x="153.30" y="577.58" width="7.70" height="7.38" fill="#24949c"/>
<text x="8.00" y="590.66" font-size="5.8" fill="#2a2a2a" textLength="133.50" lengthAdjust="spacingAndGlyphs" stroke="#2a2a2a" stroke-width="0.12">Microglia (Type 1) Gene Module From Human Brain (H)</text>
<rect x="145.60" y="584.96" width="7.70" height="7.38" fill="#24949c"/>
<rect x="153.30" y="584.96" width="7.70" height="7.38" fill="#32a68e"/>
<rect x="161.00" y="584.96" width="7.70" height="7.38" fill="#279a9c"/>
<text x="35.00" y="598.04" font-size="5.8" fill="#2a2a2a" textLength="106.50" lengthAdjust="spacingAndGlyphs" stroke="#2a2a2a" stroke-width="0.12">MHC Class II Protein Complex Assembly (G)</text>
<rect x="145.60" y="592.34" width="7.70" height="7.38" fill="#24949c"/>
<text x="75.80" y="605.42" font-size="5.8" fill="#2a2a2a" textLength="65.70" lengthAdjust="spacingAndGlyphs" stroke="#2a2a2a" stroke-width="0.12">Inflammatory Response (G)</text>
<rect x="145.60" y="599.72" width="7.70" height="7.38" fill="#24949c"/>
<rect x="153.30" y="599.72" width="7.70" height="7.38" fill="#24949c"/>
<text x="92.00" y="612.80" font-size="5.8" fill="#2a2a2a" textLength="49.50" lengthAdjust="spacingAndGlyphs" stroke="#2a2a2a" stroke-width="0.12">DNA Replication (G)</text>
<rect x="168.70" y="607.10" width="7.70" height="7.38" fill="#3aa880"/>
<text x="80.80" y="620.18" font-size="5.8" fill="#2a2a2a" textLength="60.70" lengthAdjust="spacingAndGlyphs" stroke="#2a2a2a" stroke-width="0.12">Complement System (W)</text>
<rect x="153.30" y="614.48" width="7.70" height="7.38" fill="#24949c"/>
<text x="73.80" y="627.56" font-size="5.8" fill="#2a2a2a" textLength="67.70" lengthAdjust="spacingAndGlyphs" stroke="#2a2a2a" stroke-width="0.12">Cholesterol Metabolism (W)</text>
<rect x="161.00" y="621.86" width="7.70" height="7.38" fill="#24949c"/>
<rect x="168.70" y="621.86" width="7.70" height="7.38" fill="#24949c"/>
<text x="58.00" y="634.94" font-size="5.8" fill="#2a2a2a" textLength="83.50" lengthAdjust="spacingAndGlyphs" stroke="#2a2a2a" stroke-width="0.12">Chemokine Signaling Pathway (W)</text>
<rect x="145.60" y="629.24" width="7.70" height="7.38" fill="#24949c"/>
<rect x="153.30" y="629.24" width="7.70" height="7.38" fill="#24949c"/>
<text x="107.00" y="642.32" font-size="5.8" fill="#2a2a2a" textLength="34.50" lengthAdjust="spacingAndGlyphs" stroke="#2a2a2a" stroke-width="0.12">Cell Cycle (W)</text>
<rect x="168.70" y="636.62" width="7.70" height="7.38" fill="#3aa880"/>
<path d="M153.30 533.30V644.00M161.00 533.30V644.00M168.70 533.30V644.00M176.40 533.30V644.00M145.60 540.68H184.10M145.60 548.06H184.10M145.60 555.44H184.10M145.60 562.82H184.10M145.60 570.20H184.10M145.60 577.58H184.10M145.60 584.96H184.10M145.60 592.34H184.10M145.60 599.72H184.10M145.60 607.10H184.10M145.60 614.48H184.10M145.60 621.86H184.10M145.60 629.24H184.10M145.60 636.62H184.10" stroke="#ffffff" stroke-width="0.35" opacity="0.35"/>
<line x1="144.80" y1="531.40" x2="144.80" y2="644.90" stroke="#333" stroke-width="1.0"/>
<line x1="144.30" y1="644.60" x2="184.60" y2="644.60" stroke="#333" stroke-width="1.0"/>
<text x="151.05" y="649.00" font-size="5.4" fill="#555" text-anchor="end" textLength="15.50" lengthAdjust="spacingAndGlyphs" transform="rotate(-48 151.05 649.00)">iMGL1</text>
<text x="158.75" y="649.00" font-size="5.4" fill="#555" text-anchor="end" textLength="15.50" lengthAdjust="spacingAndGlyphs" transform="rotate(-48 158.75 649.00)">iMGL2</text>
<text x="166.45" y="649.00" font-size="5.4" fill="#555" text-anchor="end" textLength="15.50" lengthAdjust="spacingAndGlyphs" transform="rotate(-48 166.45 649.00)">iMGL3</text>
<text x="174.15" y="649.00" font-size="5.4" fill="#555" text-anchor="end" textLength="15.50" lengthAdjust="spacingAndGlyphs" transform="rotate(-48 174.15 649.00)">iMGL4</text>
<text x="181.85" y="649.00" font-size="5.4" fill="#555" text-anchor="end" textLength="15.50" lengthAdjust="spacingAndGlyphs" transform="rotate(-48 181.85 649.00)">iMGL5</text>
<defs><linearGradient id="kg" x1="0" y1="0" x2="0" y2="1"><stop offset="0" stop-color="#a4cc3c"/><stop offset="0.3" stop-color="#5cb86a"/><stop offset="0.6" stop-color="#2ea28a"/><stop offset="1" stop-color="#23909c"/></linearGradient></defs>
<rect x="190.50" y="560.80" width="6.70" height="35.40" fill="url(#kg)"/>
<text x="190.00" y="551.30" font-size="6.2" textLength="16.50" lengthAdjust="spacingAndGlyphs">−log10</text>
<text x="190.00" y="558.00" font-size="6.2" textLength="21.50" lengthAdjust="spacingAndGlyphs">(P-value)</text>
<text x="200.00" y="568.00" font-size="6.0">50</text>
<text x="200.00" y="574.20" font-size="6.0">40</text>
<text x="200.00" y="580.60" font-size="6.0">30</text>
<text x="200.00" y="587.20" font-size="6.0">20</text>
<text x="200.00" y="593.40" font-size="6.0">10</text>
<text x="227.10" y="519.30" font-size="11.8" fill="#111" font-weight="bold">L</text>
<text x="337.50" y="526.80" font-size="7.4" fill="#111" font-weight="bold" textLength="123.60" lengthAdjust="spacingAndGlyphs">Enrichr upregulated DEGs V600E vs. WT</text>
<text x="327.30" y="538.80" font-size="5.8" fill="#2a2a2a" textLength="73.50" lengthAdjust="spacingAndGlyphs" stroke="#2a2a2a" stroke-width="0.12">Interferon Alpha Response (M)</text>
<rect x="406.00" y="533.80" width="61.81" height="6.00" fill="#a6c232"/>
<text x="226.50" y="546.15" font-size="5.8" fill="#2a2a2a" textLength="174.30" lengthAdjust="spacingAndGlyphs" stroke="#2a2a2a" stroke-width="0.12">Up-regulated Genes In Human Neurodegenerative Prefrontal Cortex (H)</text>
<rect x="406.00" y="541.15" width="34.72" height="6.00" fill="#3aa886"/>
<text x="264.70" y="553.50" font-size="5.8" fill="#2a2a2a" textLength="136.10" lengthAdjust="spacingAndGlyphs" stroke="#2a2a2a" stroke-width="0.12">HD Up-Regulated Genes in Human Prefrontal Cortex (H)</text>
<rect x="406.00" y="548.50" width="34.72" height="6.00" fill="#3aa886"/>
<text x="318.00" y="560.85" font-size="5.8" fill="#2a2a2a" textLength="82.80" lengthAdjust="spacingAndGlyphs" stroke="#2a2a2a" stroke-width="0.12">TNF-alpha Signaling via NF-kB (M)</text>
<rect x="406.00" y="555.85" width="19.62" height="6.00" fill="#1f9a94"/>
<text x="361.30" y="568.20" font-size="5.8" fill="#2a2a2a" textLength="39.50" lengthAdjust="spacingAndGlyphs" stroke="#2a2a2a" stroke-width="0.12">Inflammation (N)</text>
<rect x="406.00" y="563.20" width="19.24" height="6.00" fill="#1f9a94"/>
<text x="324.40" y="575.55" font-size="5.8" fill="#2a2a2a" textLength="76.40" lengthAdjust="spacingAndGlyphs" stroke="#2a2a2a" stroke-width="0.12">Actin Filament Organization (G)</text>
<rect x="406.00" y="570.55" width="19.24" height="6.00" fill="#1f9a94"/>
<text x="350.40" y="582.90" font-size="5.8" fill="#2a2a2a" textLength="50.40" lengthAdjust="spacingAndGlyphs" stroke="#2a2a2a" stroke-width="0.12">Multiple Sclerosis (N)</text>
<rect x="406.00" y="577.90" width="17.69" height="6.00" fill="#1f9894"/>
<text x="321.00" y="590.25" font-size="5.8" fill="#2a2a2a" textLength="79.80" lengthAdjust="spacingAndGlyphs" stroke="#2a2a2a" stroke-width="0.12">Chemokine signaling pathway (K)</text>
<rect x="406.00" y="585.25" width="16.14" height="6.00" fill="#1f9894"/>
<text x="367.70" y="597.60" font-size="5.8" fill="#2a2a2a" textLength="33.10" lengthAdjust="spacingAndGlyphs" stroke="#2a2a2a" stroke-width="0.12">Apoptosis (M)</text>
<rect x="406.00" y="592.60" width="13.82" height="6.00" fill="#1f9694"/>
<text x="268.60" y="604.95" font-size="5.8" fill="#2a2a2a" textLength="132.20" lengthAdjust="spacingAndGlyphs" stroke="#2a2a2a" stroke-width="0.12">Positive Regulation Of Cell Population Proliferation (G)</text>
<rect x="406.00" y="599.95" width="12.08" height="6.00" fill="#1f9694"/>
<text x="354.50" y="612.30" font-size="5.8" fill="#2a2a2a" textLength="46.30" lengthAdjust="spacingAndGlyphs" stroke="#2a2a2a" stroke-width="0.12">Focal Adhesion (W)</text>
<rect x="406.00" y="607.30" width="10.53" height="6.00" fill="#1f9694"/>
<text x="360.00" y="619.65" font-size="5.8" fill="#2a2a2a" textLength="40.80" lengthAdjust="spacingAndGlyphs" stroke="#2a2a2a" stroke-width="0.12">Complement (M)</text>
<rect x="406.00" y="614.65" width="10.53" height="6.00" fill="#1f9694"/>
<text x="272.90" y="627.00" font-size="5.8" fill="#2a2a2a" textLength="127.90" lengthAdjust="spacingAndGlyphs" stroke="#2a2a2a" stroke-width="0.12">Neuroinflammation And Glutamatergic Signaling (W)</text>
<rect x="406.00" y="622.00" width="9.95" height="6.00" fill="#1f9694"/>
<text x="356.90" y="634.35" font-size="5.8" fill="#2a2a2a" textLength="43.90" lengthAdjust="spacingAndGlyphs" stroke="#2a2a2a" stroke-width="0.12">Axon guidance (K)</text>
<rect x="406.00" y="629.35" width="9.18" height="6.00" fill="#1f9694"/>
<text x="332.90" y="641.70" font-size="5.8" fill="#2a2a2a" textLength="67.90" lengthAdjust="spacingAndGlyphs" stroke="#2a2a2a" stroke-width="0.12">MAPK signaling pathway (K)</text>
<rect x="406.00" y="636.70" width="7.82" height="6.00" fill="#1f9694"/>
<line x1="403.20" y1="531.20" x2="403.20" y2="645.00" stroke="#6c6c90" stroke-width="1.1"/>
<line x1="402.70" y1="644.60" x2="470.40" y2="644.60" stroke="#333" stroke-width="1.0"/>
<line x1="405.50" y1="644.60" x2="405.50" y2="646.80" stroke="#333" stroke-width="0.8"/>
<text x="405.50" y="651.40" font-size="5.9" fill="#444" text-anchor="middle">0</text>
<line x1="424.85" y1="644.60" x2="424.85" y2="646.80" stroke="#333" stroke-width="0.8"/>
<text x="424.85" y="651.40" font-size="5.9" fill="#444" text-anchor="middle">5</text>
<line x1="444.20" y1="644.60" x2="444.20" y2="646.80" stroke="#333" stroke-width="0.8"/>
<text x="444.20" y="651.40" font-size="5.9" fill="#444" text-anchor="middle">10</text>
<line x1="463.55" y1="644.60" x2="463.55" y2="646.80" stroke="#333" stroke-width="0.8"/>
<text x="463.55" y="651.40" font-size="5.9" fill="#444" text-anchor="middle">15</text>
<text x="412.70" y="661.30" font-size="7.8" textLength="41.50" lengthAdjust="spacingAndGlyphs">−log10(<tspan font-style="italic">P</tspan>-value)</text>
<defs><linearGradient id="lg" x1="0" y1="0" x2="0" y2="1"><stop offset="0" stop-color="#8cc83c"/><stop offset="0.45" stop-color="#3cab84"/><stop offset="1" stop-color="#20909c"/></linearGradient></defs>
<rect x="476.20" y="559.80" width="6.60" height="35.60" fill="url(#lg)"/>
<text x="475.60" y="551.30" font-size="6.2" textLength="16.10" lengthAdjust="spacingAndGlyphs">−log10</text>
<text x="475.60" y="557.90" font-size="6.2" textLength="20.20" lengthAdjust="spacingAndGlyphs">(P-value)</text>
<text x="485.60" y="564.80" font-size="6.4">16</text>
<text x="485.60" y="574.60" font-size="6.4">12</text>
<text x="485.60" y="584.40" font-size="6.4">8</text>
<text x="485.60" y="594.20" font-size="6.4">4</text>
</svg>
</body></html>
